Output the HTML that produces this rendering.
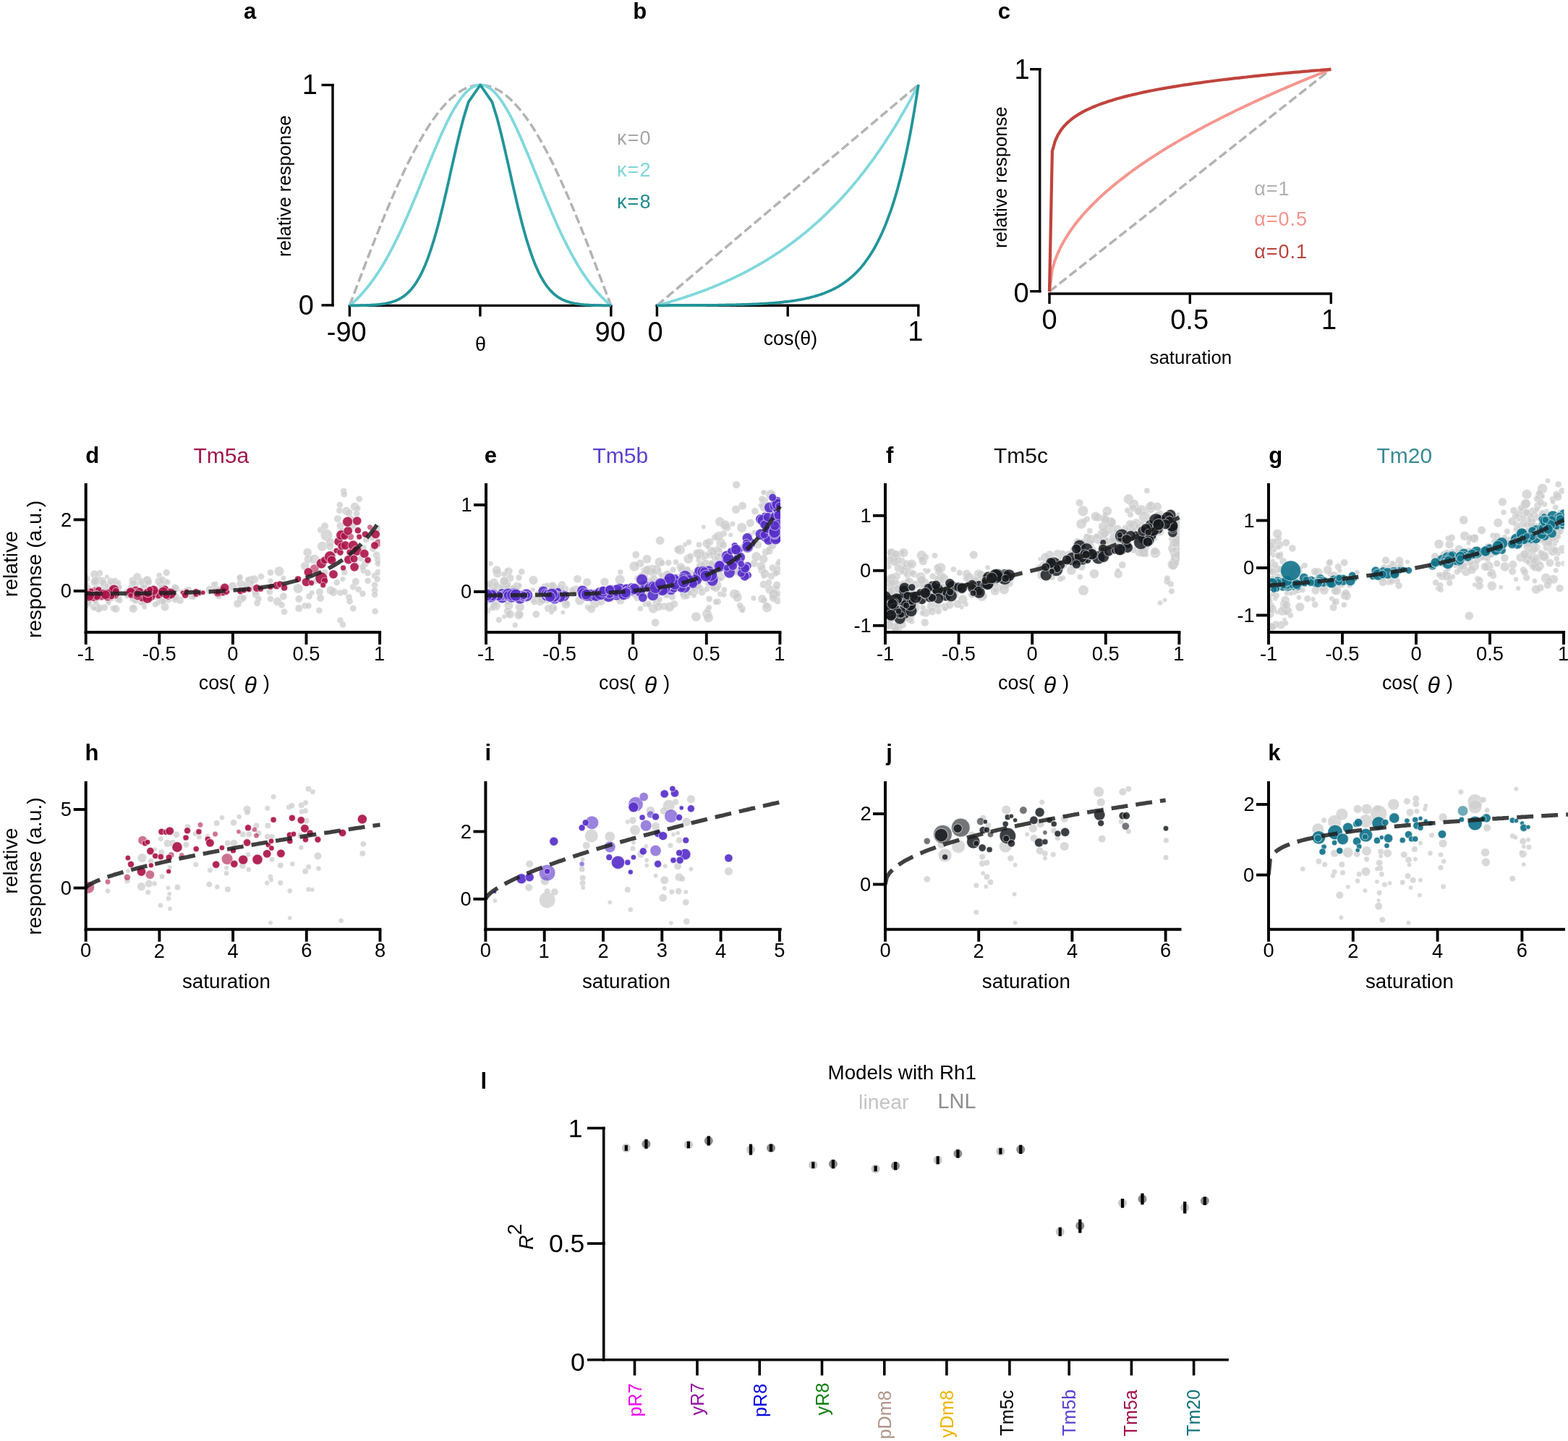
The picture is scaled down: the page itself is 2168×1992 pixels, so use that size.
<!DOCTYPE html>
<html><head><meta charset="utf-8"><title>Figure</title>
<style>html,body{margin:0;padding:0;background:#fff}svg{display:block}text{font-family:'Liberation Sans',Arial,Helvetica,sans-serif}</style>
</head><body>
<svg width="2168" height="1992" viewBox="0 0 2168 1992">
<rect width="2168" height="1992" fill="#fff"/>
<text x="336.9" y="25.6" font-size="31" font-weight="bold" fill="#000">a</text>
<text x="875.2" y="25.6" font-size="31" font-weight="bold" fill="#000">b</text>
<text x="1379.7" y="25.6" font-size="31" font-weight="bold" fill="#000">c</text>
<line x1="460" y1="115.9" x2="460" y2="423.6" stroke="#000" stroke-width="3.4"/>
<line x1="444.5" y1="117.5" x2="461.7" y2="117.5" stroke="#000" stroke-width="3.4"/>
<line x1="444.5" y1="421.9" x2="461.7" y2="421.9" stroke="#000" stroke-width="3.4"/>
<line x1="481.7" y1="422.4" x2="846.5" y2="422.4" stroke="#000" stroke-width="3.4"/>
<line x1="483.4" y1="422.4" x2="483.4" y2="437.5" stroke="#000" stroke-width="3.4"/>
<line x1="663.9" y1="422.4" x2="663.9" y2="437.5" stroke="#000" stroke-width="3.4"/>
<line x1="844.8" y1="422.4" x2="844.8" y2="437.5" stroke="#000" stroke-width="3.4"/>
<text x="417.7" y="129.6" font-size="38" fill="#000">1</text>
<text x="412.8" y="434.8" font-size="38" fill="#000">0</text>
<text x="451.8" y="471.9" font-size="38" fill="#000">-90</text>
<text x="822.6" y="471.9" font-size="38" fill="#000">90</text>
<text x="657.1" y="484.7" font-size="27" fill="#000">θ</text>
<text transform="translate(402.4 355.1) rotate(-90)" font-size="25.7" fill="#000">relative response</text>
<path d="M483.4 422.4 L484.4 419.7 L485.4 417.1 L486.4 414.4 L487.4 411.8 L488.4 409.1 L489.4 406.4 L490.4 403.8 L491.4 401.1 L492.4 398.5 L493.4 395.8 L494.4 393.2 L495.4 390.5 L496.5 387.9 L497.5 385.2 L498.5 382.6 L499.5 380 L500.5 377.3 L501.5 374.7 L502.5 372.1 L503.5 369.5 L504.5 366.8 L505.5 364.2 L506.5 361.6 L507.5 359 L508.5 356.4 L509.5 353.8 L510.5 351.2 L511.5 348.6 L512.5 346.1 L513.5 343.5 L514.5 340.9 L515.5 338.4 L516.5 335.8 L517.5 333.3 L518.5 330.7 L519.5 328.2 L520.5 325.7 L521.5 323.1 L522.6 320.6 L523.6 318.1 L524.6 315.6 L525.6 313.1 L526.6 310.7 L527.6 308.2 L528.6 305.7 L529.6 303.3 L530.6 300.8 L531.6 298.4 L532.6 296 L533.6 293.5 L534.6 291.1 L535.6 288.7 L536.6 286.4 L537.6 284 L538.6 281.6 L539.6 279.3 L540.6 276.9 L541.6 274.6 L542.6 272.3 L543.6 269.9 L544.6 267.7 L545.6 265.4 L546.6 263.1 L547.6 260.8 L548.7 258.6 L549.7 256.3 L550.7 254.1 L551.7 251.9 L552.7 249.7 L553.7 247.5 L554.7 245.3 L555.7 243.2 L556.7 241 L557.7 238.9 L558.7 236.8 L559.7 234.7 L560.7 232.6 L561.7 230.5 L562.7 228.5 L563.7 226.4 L564.7 224.4 L565.7 222.4 L566.7 220.4 L567.7 218.4 L568.7 216.4 L569.7 214.5 L570.7 212.5 L571.7 210.6 L572.7 208.7 L573.8 206.8 L574.8 204.9 L575.8 203.1 L576.8 201.2 L577.8 199.4 L578.8 197.6 L579.8 195.8 L580.8 194 L581.8 192.3 L582.8 190.6 L583.8 188.8 L584.8 187.1 L585.8 185.4 L586.8 183.8 L587.8 182.1 L588.8 180.5 L589.8 178.9 L590.8 177.3 L591.8 175.7 L592.8 174.2 L593.8 172.6 L594.8 171.1 L595.8 169.6 L596.8 168.1 L597.8 166.7 L598.8 165.2 L599.9 163.8 L600.9 162.4 L601.9 161 L602.9 159.7 L603.9 158.3 L604.9 157 L605.9 155.7 L606.9 154.4 L607.9 153.2 L608.9 152 L609.9 150.7 L610.9 149.5 L611.9 148.4 L612.9 147.2 L613.9 146.1 L614.9 145 L615.9 143.9 L616.9 142.8 L617.9 141.7 L618.9 140.7 L619.9 139.7 L620.9 138.7 L621.9 137.8 L622.9 136.8 L623.9 135.9 L624.9 135 L626 134.1 L627 133.3 L628 132.4 L629 131.6 L630 130.8 L631 130.1 L632 129.3 L633 128.6 L634 127.9 L635 127.2 L636 126.6 L637 125.9 L638 125.3 L639 124.7 L640 124.2 L641 123.6 L642 123.1 L643 122.6 L644 122.1 L645 121.7 L646 121.3 L647 120.8 L648 120.5 L649 120.1 L650 119.8 L651 119.5 L652.1 119.2 L653.1 118.9 L654.1 118.7 L655.1 118.4 L656.1 118.2 L657.1 118.1 L658.1 117.9 L659.1 117.8 L660.1 117.7 L661.1 117.6 L662.1 117.5 L663.1 117.5 L664.1 117.5 L665.1 117.5 L666.1 117.5 L667.1 117.6 L668.1 117.7 L669.1 117.8 L670.1 117.9 L671.1 118.1 L672.1 118.2 L673.1 118.4 L674.1 118.7 L675.1 118.9 L676.1 119.2 L677.2 119.5 L678.2 119.8 L679.2 120.1 L680.2 120.5 L681.2 120.8 L682.2 121.3 L683.2 121.7 L684.2 122.1 L685.2 122.6 L686.2 123.1 L687.2 123.6 L688.2 124.2 L689.2 124.7 L690.2 125.3 L691.2 125.9 L692.2 126.6 L693.2 127.2 L694.2 127.9 L695.2 128.6 L696.2 129.3 L697.2 130.1 L698.2 130.8 L699.2 131.6 L700.2 132.4 L701.2 133.3 L702.2 134.1 L703.3 135 L704.3 135.9 L705.3 136.8 L706.3 137.8 L707.3 138.7 L708.3 139.7 L709.3 140.7 L710.3 141.7 L711.3 142.8 L712.3 143.9 L713.3 145 L714.3 146.1 L715.3 147.2 L716.3 148.4 L717.3 149.5 L718.3 150.7 L719.3 152 L720.3 153.2 L721.3 154.4 L722.3 155.7 L723.3 157 L724.3 158.3 L725.3 159.7 L726.3 161 L727.3 162.4 L728.3 163.8 L729.4 165.2 L730.4 166.7 L731.4 168.1 L732.4 169.6 L733.4 171.1 L734.4 172.6 L735.4 174.2 L736.4 175.7 L737.4 177.3 L738.4 178.9 L739.4 180.5 L740.4 182.1 L741.4 183.8 L742.4 185.4 L743.4 187.1 L744.4 188.8 L745.4 190.6 L746.4 192.3 L747.4 194 L748.4 195.8 L749.4 197.6 L750.4 199.4 L751.4 201.2 L752.4 203.1 L753.4 204.9 L754.4 206.8 L755.5 208.7 L756.5 210.6 L757.5 212.5 L758.5 214.5 L759.5 216.4 L760.5 218.4 L761.5 220.4 L762.5 222.4 L763.5 224.4 L764.5 226.4 L765.5 228.5 L766.5 230.5 L767.5 232.6 L768.5 234.7 L769.5 236.8 L770.5 238.9 L771.5 241 L772.5 243.2 L773.5 245.3 L774.5 247.5 L775.5 249.7 L776.5 251.9 L777.5 254.1 L778.5 256.3 L779.5 258.6 L780.6 260.8 L781.6 263.1 L782.6 265.4 L783.6 267.7 L784.6 269.9 L785.6 272.3 L786.6 274.6 L787.6 276.9 L788.6 279.3 L789.6 281.6 L790.6 284 L791.6 286.4 L792.6 288.7 L793.6 291.1 L794.6 293.5 L795.6 296 L796.6 298.4 L797.6 300.8 L798.6 303.3 L799.6 305.7 L800.6 308.2 L801.6 310.7 L802.6 313.1 L803.6 315.6 L804.6 318.1 L805.6 320.6 L806.7 323.1 L807.7 325.7 L808.7 328.2 L809.7 330.7 L810.7 333.3 L811.7 335.8 L812.7 338.4 L813.7 340.9 L814.7 343.5 L815.7 346.1 L816.7 348.6 L817.7 351.2 L818.7 353.8 L819.7 356.4 L820.7 359 L821.7 361.6 L822.7 364.2 L823.7 366.8 L824.7 369.5 L825.7 372.1 L826.7 374.7 L827.7 377.3 L828.7 380 L829.7 382.6 L830.7 385.2 L831.7 387.9 L832.8 390.5 L833.8 393.2 L834.8 395.8 L835.8 398.5 L836.8 401.1 L837.8 403.8 L838.8 406.4 L839.8 409.1 L840.8 411.8 L841.8 414.4 L842.8 417.1 L843.8 419.7 L844.8 422.4" fill="none" stroke="#b3b3b3" stroke-width="3.5" stroke-linejoin="round" stroke-dasharray="12.4 5.2"/>
<path d="M483.4 422.4 L484.4 421.6 L485.4 420.7 L486.4 419.8 L487.4 419 L488.4 418 L489.4 417.1 L490.4 416.2 L491.4 415.3 L492.4 414.3 L493.4 413.3 L494.4 412.3 L495.4 411.3 L496.5 410.3 L497.5 409.2 L498.5 408.2 L499.5 407.1 L500.5 406 L501.5 404.9 L502.5 403.7 L503.5 402.6 L504.5 401.4 L505.5 400.2 L506.5 399 L507.5 397.8 L508.5 396.5 L509.5 395.3 L510.5 394 L511.5 392.7 L512.5 391.4 L513.5 390 L514.5 388.7 L515.5 387.3 L516.5 385.9 L517.5 384.5 L518.5 383 L519.5 381.6 L520.5 380.1 L521.5 378.6 L522.6 377.1 L523.6 375.5 L524.6 374 L525.6 372.4 L526.6 370.8 L527.6 369.2 L528.6 367.5 L529.6 365.9 L530.6 364.2 L531.6 362.5 L532.6 360.7 L533.6 359 L534.6 357.2 L535.6 355.4 L536.6 353.6 L537.6 351.8 L538.6 350 L539.6 348.1 L540.6 346.2 L541.6 344.3 L542.6 342.4 L543.6 340.4 L544.6 338.4 L545.6 336.4 L546.6 334.4 L547.6 332.4 L548.7 330.4 L549.7 328.3 L550.7 326.2 L551.7 324.1 L552.7 322 L553.7 319.8 L554.7 317.7 L555.7 315.5 L556.7 313.3 L557.7 311.1 L558.7 308.9 L559.7 306.6 L560.7 304.4 L561.7 302.1 L562.7 299.8 L563.7 297.5 L564.7 295.2 L565.7 292.9 L566.7 290.5 L567.7 288.2 L568.7 285.8 L569.7 283.4 L570.7 281.1 L571.7 278.7 L572.7 276.2 L573.8 273.8 L574.8 271.4 L575.8 269 L576.8 266.5 L577.8 264.1 L578.8 261.6 L579.8 259.2 L580.8 256.7 L581.8 254.2 L582.8 251.7 L583.8 249.3 L584.8 246.8 L585.8 244.3 L586.8 241.8 L587.8 239.4 L588.8 236.9 L589.8 234.4 L590.8 231.9 L591.8 229.5 L592.8 227 L593.8 224.5 L594.8 222.1 L595.8 219.6 L596.8 217.2 L597.8 214.7 L598.8 212.3 L599.9 209.9 L600.9 207.5 L601.9 205.1 L602.9 202.7 L603.9 200.4 L604.9 198 L605.9 195.7 L606.9 193.4 L607.9 191.1 L608.9 188.8 L609.9 186.6 L610.9 184.3 L611.9 182.1 L612.9 179.9 L613.9 177.8 L614.9 175.6 L615.9 173.5 L616.9 171.4 L617.9 169.3 L618.9 167.3 L619.9 165.3 L620.9 163.3 L621.9 161.4 L622.9 159.4 L623.9 157.6 L624.9 155.7 L626 153.9 L627 152.1 L628 150.4 L629 148.7 L630 147 L631 145.4 L632 143.8 L633 142.2 L634 140.7 L635 139.3 L636 137.8 L637 136.5 L638 135.1 L639 133.8 L640 132.6 L641 131.4 L642 130.2 L643 129.1 L644 128.1 L645 127 L646 126.1 L647 125.2 L648 124.3 L649 123.5 L650 122.7 L651 122 L652.1 121.3 L653.1 120.7 L654.1 120.2 L655.1 119.7 L656.1 119.2 L657.1 118.8 L658.1 118.5 L659.1 118.2 L660.1 117.9 L661.1 117.7 L662.1 117.6 L663.1 117.5 L664.1 117.5 L665.1 117.5 L666.1 117.6 L667.1 117.7 L668.1 117.9 L669.1 118.2 L670.1 118.5 L671.1 118.8 L672.1 119.2 L673.1 119.7 L674.1 120.2 L675.1 120.7 L676.1 121.3 L677.2 122 L678.2 122.7 L679.2 123.5 L680.2 124.3 L681.2 125.2 L682.2 126.1 L683.2 127 L684.2 128.1 L685.2 129.1 L686.2 130.2 L687.2 131.4 L688.2 132.6 L689.2 133.8 L690.2 135.1 L691.2 136.5 L692.2 137.8 L693.2 139.3 L694.2 140.7 L695.2 142.2 L696.2 143.8 L697.2 145.4 L698.2 147 L699.2 148.7 L700.2 150.4 L701.2 152.1 L702.2 153.9 L703.3 155.7 L704.3 157.6 L705.3 159.4 L706.3 161.4 L707.3 163.3 L708.3 165.3 L709.3 167.3 L710.3 169.3 L711.3 171.4 L712.3 173.5 L713.3 175.6 L714.3 177.8 L715.3 179.9 L716.3 182.1 L717.3 184.3 L718.3 186.6 L719.3 188.8 L720.3 191.1 L721.3 193.4 L722.3 195.7 L723.3 198 L724.3 200.4 L725.3 202.7 L726.3 205.1 L727.3 207.5 L728.3 209.9 L729.4 212.3 L730.4 214.7 L731.4 217.2 L732.4 219.6 L733.4 222.1 L734.4 224.5 L735.4 227 L736.4 229.5 L737.4 231.9 L738.4 234.4 L739.4 236.9 L740.4 239.4 L741.4 241.8 L742.4 244.3 L743.4 246.8 L744.4 249.3 L745.4 251.7 L746.4 254.2 L747.4 256.7 L748.4 259.2 L749.4 261.6 L750.4 264.1 L751.4 266.5 L752.4 269 L753.4 271.4 L754.4 273.8 L755.5 276.2 L756.5 278.7 L757.5 281.1 L758.5 283.4 L759.5 285.8 L760.5 288.2 L761.5 290.5 L762.5 292.9 L763.5 295.2 L764.5 297.5 L765.5 299.8 L766.5 302.1 L767.5 304.4 L768.5 306.6 L769.5 308.9 L770.5 311.1 L771.5 313.3 L772.5 315.5 L773.5 317.7 L774.5 319.8 L775.5 322 L776.5 324.1 L777.5 326.2 L778.5 328.3 L779.5 330.4 L780.6 332.4 L781.6 334.4 L782.6 336.4 L783.6 338.4 L784.6 340.4 L785.6 342.4 L786.6 344.3 L787.6 346.2 L788.6 348.1 L789.6 350 L790.6 351.8 L791.6 353.6 L792.6 355.4 L793.6 357.2 L794.6 359 L795.6 360.7 L796.6 362.5 L797.6 364.2 L798.6 365.9 L799.6 367.5 L800.6 369.2 L801.6 370.8 L802.6 372.4 L803.6 374 L804.6 375.5 L805.6 377.1 L806.7 378.6 L807.7 380.1 L808.7 381.6 L809.7 383 L810.7 384.5 L811.7 385.9 L812.7 387.3 L813.7 388.7 L814.7 390 L815.7 391.4 L816.7 392.7 L817.7 394 L818.7 395.3 L819.7 396.5 L820.7 397.8 L821.7 399 L822.7 400.2 L823.7 401.4 L824.7 402.6 L825.7 403.7 L826.7 404.9 L827.7 406 L828.7 407.1 L829.7 408.2 L830.7 409.2 L831.7 410.3 L832.8 411.3 L833.8 412.3 L834.8 413.3 L835.8 414.3 L836.8 415.3 L837.8 416.2 L838.8 417.1 L839.8 418 L840.8 419 L841.8 419.8 L842.8 420.7 L843.8 421.6 L844.8 422.4" fill="none" stroke="#80d8dc" stroke-width="3.8" stroke-linejoin="round"/>
<path d="M483.4 422.4 L484.6 422.4 L485.7 422.4 L486.9 422.4 L488 422.4 L489.2 422.3 L490.3 422.3 L491.5 422.3 L492.6 422.3 L493.8 422.3 L494.9 422.3 L496.1 422.3 L497.2 422.2 L498.4 422.2 L499.6 422.2 L500.7 422.2 L501.9 422.1 L503.1 422.1 L504.2 422.1 L505.4 422 L506.6 422 L507.7 422 L508.9 421.9 L510.1 421.9 L511.3 421.8 L512.5 421.7 L513.7 421.7 L514.9 421.6 L516 421.5 L517.2 421.5 L518.5 421.4 L519.7 421.3 L520.9 421.2 L522.1 421.1 L523.3 420.9 L524.5 420.8 L525.8 420.7 L527 420.5 L528.2 420.4 L529.5 420.2 L530.7 420 L532 419.8 L533.3 419.6 L534.5 419.3 L535.8 419 L537.1 418.8 L538.4 418.4 L539.7 418.1 L541 417.7 L542.3 417.3 L543.6 416.9 L545 416.5 L546.3 415.9 L547.7 415.4 L549 414.8 L550.4 414.2 L551.8 413.5 L553.2 412.7 L554.6 411.9 L556 411 L557.4 410.1 L558.9 409 L560.3 407.9 L561.8 406.7 L563.3 405.4 L564.8 404 L566.3 402.4 L567.9 400.7 L569.4 398.9 L571 397 L572.6 394.8 L574.2 392.5 L575.9 390 L577.5 387.3 L579.2 384.4 L581 381.2 L582.7 377.8 L584.5 374.1 L586.3 370 L588.2 365.7 L590.1 360.9 L592 355.8 L594 350.2 L596 344.2 L598.1 337.7 L600.3 330.6 L602.5 323 L604.8 314.7 L607.2 305.7 L609.6 296 L612.2 285.5 L614.9 274 L617.8 261.7 L620.8 248.3 L624 233.8 L627.6 218.1 L631.5 201 L635.9 182.6 L641.1 162.6 L647.8 140.9 L664.1 117.5 L680.4 140.9 L687.1 162.6 L692.3 182.6 L696.7 201 L700.6 218.1 L704.2 233.8 L707.4 248.3 L710.4 261.7 L713.3 274 L716 285.5 L718.6 296 L721 305.7 L723.4 314.7 L725.7 323 L727.9 330.6 L730.1 337.7 L732.2 344.2 L734.2 350.2 L736.2 355.8 L738.1 360.9 L740 365.7 L741.9 370 L743.7 374.1 L745.5 377.8 L747.2 381.2 L749 384.4 L750.7 387.3 L752.3 390 L754 392.5 L755.6 394.8 L757.2 397 L758.8 398.9 L760.3 400.7 L761.9 402.4 L763.4 404 L764.9 405.4 L766.4 406.7 L767.9 407.9 L769.3 409 L770.8 410.1 L772.2 411 L773.6 411.9 L775 412.7 L776.4 413.5 L777.8 414.2 L779.2 414.8 L780.5 415.4 L781.9 415.9 L783.2 416.5 L784.6 416.9 L785.9 417.3 L787.2 417.7 L788.5 418.1 L789.8 418.4 L791.1 418.8 L792.4 419 L793.7 419.3 L794.9 419.6 L796.2 419.8 L797.5 420 L798.7 420.2 L800 420.4 L801.2 420.5 L802.4 420.7 L803.7 420.8 L804.9 420.9 L806.1 421.1 L807.3 421.2 L808.5 421.3 L809.7 421.4 L811 421.5 L812.2 421.5 L813.3 421.6 L814.5 421.7 L815.7 421.7 L816.9 421.8 L818.1 421.9 L819.3 421.9 L820.5 422 L821.6 422 L822.8 422 L824 422.1 L825.1 422.1 L826.3 422.1 L827.5 422.2 L828.6 422.2 L829.8 422.2 L831 422.2 L832.1 422.3 L833.3 422.3 L834.4 422.3 L835.6 422.3 L836.7 422.3 L837.9 422.3 L839 422.3 L840.2 422.4 L841.3 422.4 L842.5 422.4 L843.6 422.4 L844.8 422.4" fill="none" stroke="#23959a" stroke-width="3.8" stroke-linejoin="round"/>
<text x="852.9" y="200.3" font-size="27" fill="#a6a6a6" letter-spacing="1.2">κ=0</text>
<text x="852.9" y="243.5" font-size="27" fill="#7fd4d6" letter-spacing="1.2">κ=2</text>
<text x="852.9" y="287.6" font-size="27" fill="#1f8a8c" letter-spacing="1.2">κ=8</text>
<line x1="906.6" y1="422.3" x2="1271.4" y2="422.3" stroke="#000" stroke-width="3.4"/>
<line x1="908.4" y1="422.3" x2="908.4" y2="437.5" stroke="#000" stroke-width="3.4"/>
<line x1="1089.2" y1="422.3" x2="1089.2" y2="437.5" stroke="#000" stroke-width="3.4"/>
<line x1="1269.8" y1="422.3" x2="1269.8" y2="437.5" stroke="#000" stroke-width="3.4"/>
<text x="895.4" y="471.9" font-size="38" fill="#000">0</text>
<text x="1255.2" y="470.5" font-size="38" fill="#000">1</text>
<text x="1055.7" y="477.3" font-size="26.8" fill="#000">cos(θ)</text>
<path d="M908.4 422.3 L910.2 420.8 L912 419.2 L913.8 417.7 L915.6 416.2 L917.4 414.7 L919.2 413.1 L921 411.6 L922.9 410.1 L924.7 408.6 L926.5 407 L928.3 405.5 L930.1 404 L931.9 402.5 L933.7 400.9 L935.5 399.4 L937.3 397.9 L939.1 396.3 L940.9 394.8 L942.7 393.3 L944.5 391.8 L946.3 390.2 L948.2 388.7 L950 387.2 L951.8 385.7 L953.6 384.1 L955.4 382.6 L957.2 381.1 L959 379.6 L960.8 378 L962.6 376.5 L964.4 375 L966.2 373.5 L968 371.9 L969.8 370.4 L971.6 368.9 L973.5 367.3 L975.3 365.8 L977.1 364.3 L978.9 362.8 L980.7 361.2 L982.5 359.7 L984.3 358.2 L986.1 356.7 L987.9 355.1 L989.7 353.6 L991.5 352.1 L993.3 350.6 L995.1 349 L996.9 347.5 L998.8 346 L1000.6 344.4 L1002.4 342.9 L1004.2 341.4 L1006 339.9 L1007.8 338.3 L1009.6 336.8 L1011.4 335.3 L1013.2 333.8 L1015 332.2 L1016.8 330.7 L1018.6 329.2 L1020.4 327.7 L1022.2 326.1 L1024 324.6 L1025.9 323.1 L1027.7 321.6 L1029.5 320 L1031.3 318.5 L1033.1 317 L1034.9 315.4 L1036.7 313.9 L1038.5 312.4 L1040.3 310.9 L1042.1 309.3 L1043.9 307.8 L1045.7 306.3 L1047.5 304.8 L1049.3 303.2 L1051.2 301.7 L1053 300.2 L1054.8 298.7 L1056.6 297.1 L1058.4 295.6 L1060.2 294.1 L1062 292.5 L1063.8 291 L1065.6 289.5 L1067.4 288 L1069.2 286.4 L1071 284.9 L1072.8 283.4 L1074.6 281.9 L1076.5 280.3 L1078.3 278.8 L1080.1 277.3 L1081.9 275.8 L1083.7 274.2 L1085.5 272.7 L1087.3 271.2 L1089.1 269.6 L1090.9 268.1 L1092.7 266.6 L1094.5 265.1 L1096.3 263.5 L1098.1 262 L1099.9 260.5 L1101.7 259 L1103.6 257.4 L1105.4 255.9 L1107.2 254.4 L1109 252.9 L1110.8 251.3 L1112.6 249.8 L1114.4 248.3 L1116.2 246.8 L1118 245.2 L1119.8 243.7 L1121.6 242.2 L1123.4 240.6 L1125.2 239.1 L1127 237.6 L1128.9 236.1 L1130.7 234.5 L1132.5 233 L1134.3 231.5 L1136.1 230 L1137.9 228.4 L1139.7 226.9 L1141.5 225.4 L1143.3 223.9 L1145.1 222.3 L1146.9 220.8 L1148.7 219.3 L1150.5 217.7 L1152.3 216.2 L1154.2 214.7 L1156 213.2 L1157.8 211.6 L1159.6 210.1 L1161.4 208.6 L1163.2 207.1 L1165 205.5 L1166.8 204 L1168.6 202.5 L1170.4 201 L1172.2 199.4 L1174 197.9 L1175.8 196.4 L1177.6 194.9 L1179.4 193.3 L1181.3 191.8 L1183.1 190.3 L1184.9 188.7 L1186.7 187.2 L1188.5 185.7 L1190.3 184.2 L1192.1 182.6 L1193.9 181.1 L1195.7 179.6 L1197.5 178.1 L1199.3 176.5 L1201.1 175 L1202.9 173.5 L1204.7 172 L1206.6 170.4 L1208.4 168.9 L1210.2 167.4 L1212 165.8 L1213.8 164.3 L1215.6 162.8 L1217.4 161.3 L1219.2 159.7 L1221 158.2 L1222.8 156.7 L1224.6 155.2 L1226.4 153.6 L1228.2 152.1 L1230 150.6 L1231.9 149.1 L1233.7 147.5 L1235.5 146 L1237.3 144.5 L1239.1 143 L1240.9 141.4 L1242.7 139.9 L1244.5 138.4 L1246.3 136.8 L1248.1 135.3 L1249.9 133.8 L1251.7 132.3 L1253.5 130.7 L1255.3 129.2 L1257.2 127.7 L1259 126.2 L1260.8 124.6 L1262.6 123.1 L1264.4 121.6 L1266.2 120.1 L1268 118.5 L1269.8 117" fill="none" stroke="#b3b3b3" stroke-width="3.5" stroke-linejoin="round" stroke-dasharray="12.4 5.2"/>
<path d="M908.4 422.3 L910.2 421.8 L912 421.3 L913.8 420.8 L915.6 420.3 L917.4 419.9 L919.2 419.3 L921 418.8 L922.9 418.3 L924.7 417.8 L926.5 417.3 L928.3 416.7 L930.1 416.2 L931.9 415.7 L933.7 415.1 L935.5 414.6 L937.3 414 L939.1 413.4 L940.9 412.9 L942.7 412.3 L944.5 411.7 L946.3 411.1 L948.2 410.5 L950 409.9 L951.8 409.3 L953.6 408.7 L955.4 408.1 L957.2 407.5 L959 406.9 L960.8 406.2 L962.6 405.6 L964.4 404.9 L966.2 404.3 L968 403.6 L969.8 402.9 L971.6 402.3 L973.5 401.6 L975.3 400.9 L977.1 400.2 L978.9 399.5 L980.7 398.8 L982.5 398.1 L984.3 397.4 L986.1 396.6 L987.9 395.9 L989.7 395.1 L991.5 394.4 L993.3 393.6 L995.1 392.9 L996.9 392.1 L998.8 391.3 L1000.6 390.5 L1002.4 389.7 L1004.2 388.9 L1006 388.1 L1007.8 387.3 L1009.6 386.4 L1011.4 385.6 L1013.2 384.7 L1015 383.9 L1016.8 383 L1018.6 382.1 L1020.4 381.3 L1022.2 380.4 L1024 379.5 L1025.9 378.6 L1027.7 377.6 L1029.5 376.7 L1031.3 375.8 L1033.1 374.8 L1034.9 373.9 L1036.7 372.9 L1038.5 371.9 L1040.3 370.9 L1042.1 369.9 L1043.9 368.9 L1045.7 367.9 L1047.5 366.9 L1049.3 365.8 L1051.2 364.8 L1053 363.7 L1054.8 362.7 L1056.6 361.6 L1058.4 360.5 L1060.2 359.4 L1062 358.3 L1063.8 357.2 L1065.6 356 L1067.4 354.9 L1069.2 353.7 L1071 352.6 L1072.8 351.4 L1074.6 350.2 L1076.5 349 L1078.3 347.8 L1080.1 346.5 L1081.9 345.3 L1083.7 344 L1085.5 342.8 L1087.3 341.5 L1089.1 340.2 L1090.9 338.9 L1092.7 337.6 L1094.5 336.2 L1096.3 334.9 L1098.1 333.5 L1099.9 332.2 L1101.7 330.8 L1103.6 329.4 L1105.4 328 L1107.2 326.5 L1109 325.1 L1110.8 323.6 L1112.6 322.2 L1114.4 320.7 L1116.2 319.2 L1118 317.7 L1119.8 316.1 L1121.6 314.6 L1123.4 313 L1125.2 311.4 L1127 309.8 L1128.9 308.2 L1130.7 306.6 L1132.5 305 L1134.3 303.3 L1136.1 301.6 L1137.9 299.9 L1139.7 298.2 L1141.5 296.5 L1143.3 294.7 L1145.1 293 L1146.9 291.2 L1148.7 289.4 L1150.5 287.6 L1152.3 285.8 L1154.2 283.9 L1156 282 L1157.8 280.1 L1159.6 278.2 L1161.4 276.3 L1163.2 274.4 L1165 272.4 L1166.8 270.4 L1168.6 268.4 L1170.4 266.4 L1172.2 264.3 L1174 262.3 L1175.8 260.2 L1177.6 258.1 L1179.4 255.9 L1181.3 253.8 L1183.1 251.6 L1184.9 249.4 L1186.7 247.2 L1188.5 244.9 L1190.3 242.7 L1192.1 240.4 L1193.9 238.1 L1195.7 235.8 L1197.5 233.4 L1199.3 231 L1201.1 228.6 L1202.9 226.2 L1204.7 223.7 L1206.6 221.3 L1208.4 218.8 L1210.2 216.2 L1212 213.7 L1213.8 211.1 L1215.6 208.5 L1217.4 205.9 L1219.2 203.2 L1221 200.5 L1222.8 197.8 L1224.6 195.1 L1226.4 192.3 L1228.2 189.5 L1230 186.7 L1231.9 183.9 L1233.7 181 L1235.5 178.1 L1237.3 175.2 L1239.1 172.2 L1240.9 169.2 L1242.7 166.2 L1244.5 163.1 L1246.3 160 L1248.1 156.9 L1249.9 153.8 L1251.7 150.6 L1253.5 147.4 L1255.3 144.1 L1257.2 140.9 L1259 137.6 L1260.8 134.2 L1262.6 130.8 L1264.4 127.4 L1266.2 124 L1268 120.5 L1269.8 117" fill="none" stroke="#80d8dc" stroke-width="3.8" stroke-linejoin="round"/>
<path d="M908.4 422.3 L910.2 422.3 L912 422.3 L913.8 422.3 L915.6 422.3 L917.4 422.3 L919.2 422.3 L921 422.3 L922.9 422.3 L924.7 422.3 L926.5 422.2 L928.3 422.2 L930.1 422.2 L931.9 422.2 L933.7 422.2 L935.5 422.2 L937.3 422.2 L939.1 422.2 L940.9 422.2 L942.7 422.2 L944.5 422.2 L946.3 422.2 L948.2 422.2 L950 422.1 L951.8 422.1 L953.6 422.1 L955.4 422.1 L957.2 422.1 L959 422.1 L960.8 422.1 L962.6 422.1 L964.4 422 L966.2 422 L968 422 L969.8 422 L971.6 422 L973.5 422 L975.3 422 L977.1 421.9 L978.9 421.9 L980.7 421.9 L982.5 421.9 L984.3 421.9 L986.1 421.8 L987.9 421.8 L989.7 421.8 L991.5 421.8 L993.3 421.7 L995.1 421.7 L996.9 421.7 L998.8 421.6 L1000.6 421.6 L1002.4 421.6 L1004.2 421.5 L1006 421.5 L1007.8 421.5 L1009.6 421.4 L1011.4 421.4 L1013.2 421.4 L1015 421.3 L1016.8 421.3 L1018.6 421.2 L1020.4 421.2 L1022.2 421.1 L1024 421.1 L1025.9 421 L1027.7 421 L1029.5 420.9 L1031.3 420.8 L1033.1 420.8 L1034.9 420.7 L1036.7 420.6 L1038.5 420.6 L1040.3 420.5 L1042.1 420.4 L1043.9 420.3 L1045.7 420.3 L1047.5 420.2 L1049.3 420.1 L1051.2 420 L1053 419.9 L1054.8 419.8 L1056.6 419.7 L1058.4 419.6 L1060.2 419.5 L1062 419.3 L1063.8 419.2 L1065.6 419.1 L1067.4 418.9 L1069.2 418.8 L1071 418.7 L1072.8 418.5 L1074.6 418.3 L1076.5 418.2 L1078.3 418 L1080.1 417.8 L1081.9 417.6 L1083.7 417.4 L1085.5 417.2 L1087.3 417 L1089.1 416.8 L1090.9 416.6 L1092.7 416.3 L1094.5 416.1 L1096.3 415.8 L1098.1 415.6 L1099.9 415.3 L1101.7 415 L1103.6 414.7 L1105.4 414.4 L1107.2 414.1 L1109 413.7 L1110.8 413.4 L1112.6 413 L1114.4 412.6 L1116.2 412.2 L1118 411.8 L1119.8 411.4 L1121.6 410.9 L1123.4 410.4 L1125.2 410 L1127 409.4 L1128.9 408.9 L1130.7 408.4 L1132.5 407.8 L1134.3 407.2 L1136.1 406.6 L1137.9 405.9 L1139.7 405.3 L1141.5 404.6 L1143.3 403.8 L1145.1 403.1 L1146.9 402.3 L1148.7 401.5 L1150.5 400.6 L1152.3 399.7 L1154.2 398.8 L1156 397.8 L1157.8 396.8 L1159.6 395.8 L1161.4 394.7 L1163.2 393.6 L1165 392.4 L1166.8 391.2 L1168.6 389.9 L1170.4 388.6 L1172.2 387.2 L1174 385.7 L1175.8 384.2 L1177.6 382.7 L1179.4 381.1 L1181.3 379.4 L1183.1 377.6 L1184.9 375.8 L1186.7 373.9 L1188.5 371.9 L1190.3 369.9 L1192.1 367.7 L1193.9 365.5 L1195.7 363.2 L1197.5 360.7 L1199.3 358.2 L1201.1 355.6 L1202.9 352.9 L1204.7 350 L1206.6 347.1 L1208.4 344 L1210.2 340.8 L1212 337.5 L1213.8 334 L1215.6 330.4 L1217.4 326.7 L1219.2 322.8 L1221 318.7 L1222.8 314.5 L1224.6 310.1 L1226.4 305.5 L1228.2 300.7 L1230 295.7 L1231.9 290.6 L1233.7 285.2 L1235.5 279.6 L1237.3 273.7 L1239.1 267.7 L1240.9 261.4 L1242.7 254.8 L1244.5 248 L1246.3 240.8 L1248.1 233.4 L1249.9 225.7 L1251.7 217.7 L1253.5 209.3 L1255.3 200.6 L1257.2 191.6 L1259 182.2 L1260.8 172.4 L1262.6 162.2 L1264.4 151.5 L1266.2 140.5 L1268 129 L1269.8 117" fill="none" stroke="#23959a" stroke-width="3.8" stroke-linejoin="round"/>
<line x1="1437.7" y1="94.1" x2="1437.7" y2="404.2" stroke="#000" stroke-width="3.4"/>
<line x1="1424.2" y1="95.7" x2="1439.4" y2="95.7" stroke="#000" stroke-width="3.4"/>
<line x1="1424.2" y1="402.7" x2="1439.4" y2="402.7" stroke="#000" stroke-width="3.4"/>
<line x1="1449.3" y1="406" x2="1842" y2="406" stroke="#000" stroke-width="3.4"/>
<line x1="1451" y1="406" x2="1451" y2="420" stroke="#000" stroke-width="3.4"/>
<line x1="1645.3" y1="406" x2="1645.3" y2="420" stroke="#000" stroke-width="3.4"/>
<line x1="1840.3" y1="406" x2="1840.3" y2="420" stroke="#000" stroke-width="3.4"/>
<text x="1402.4" y="109" font-size="38" fill="#000">1</text>
<text x="1401.5" y="417.7" font-size="38" fill="#000">0</text>
<text x="1440.4" y="454.6" font-size="38" fill="#000">0</text>
<text x="1618.2" y="454.6" font-size="38" fill="#000">0.5</text>
<text x="1827.1" y="455" font-size="38" fill="#000">1</text>
<text x="1589.5" y="503.4" font-size="25.9" fill="#000">saturation</text>
<text transform="translate(1392.4 343) rotate(-90)" font-size="25.7" fill="#000">relative response</text>
<path d="M1451 403 L1454.9 399.9 L1458.8 396.9 L1462.7 393.8 L1466.6 390.7 L1470.5 387.6 L1474.4 384.6 L1478.3 381.5 L1482.1 378.4 L1486 375.3 L1489.9 372.3 L1493.8 369.2 L1497.7 366.1 L1501.6 363.1 L1505.5 360 L1509.4 356.9 L1513.3 353.8 L1517.2 350.8 L1521.1 347.7 L1525 344.6 L1528.9 341.5 L1532.8 338.5 L1536.6 335.4 L1540.5 332.3 L1544.4 329.2 L1548.3 326.2 L1552.2 323.1 L1556.1 320 L1560 317 L1563.9 313.9 L1567.8 310.8 L1571.7 307.7 L1575.6 304.7 L1579.5 301.6 L1583.4 298.5 L1587.3 295.4 L1591.1 292.4 L1595 289.3 L1598.9 286.2 L1602.8 283.2 L1606.7 280.1 L1610.6 277 L1614.5 273.9 L1618.4 270.9 L1622.3 267.8 L1626.2 264.7 L1630.1 261.6 L1634 258.6 L1637.9 255.5 L1641.8 252.4 L1645.7 249.3 L1649.5 246.3 L1653.4 243.2 L1657.3 240.1 L1661.2 237.1 L1665.1 234 L1669 230.9 L1672.9 227.8 L1676.8 224.8 L1680.7 221.7 L1684.6 218.6 L1688.5 215.5 L1692.4 212.5 L1696.3 209.4 L1700.2 206.3 L1704 203.3 L1707.9 200.2 L1711.8 197.1 L1715.7 194 L1719.6 191 L1723.5 187.9 L1727.4 184.8 L1731.3 181.7 L1735.2 178.7 L1739.1 175.6 L1743 172.5 L1746.9 169.5 L1750.8 166.4 L1754.7 163.3 L1758.5 160.2 L1762.4 157.2 L1766.3 154.1 L1770.2 151 L1774.1 147.9 L1778 144.9 L1781.9 141.8 L1785.8 138.7 L1789.7 135.6 L1793.6 132.6 L1797.5 129.5 L1801.4 126.4 L1805.3 123.4 L1809.2 120.3 L1813 117.2 L1816.9 114.1 L1820.8 111.1 L1824.7 108 L1828.6 104.9 L1832.5 101.8 L1836.4 98.8 L1840.3 95.7" fill="none" stroke="#b3b3b3" stroke-width="3.5" stroke-linejoin="round" stroke-dasharray="12.4 5.2"/>
<path d="M1451 403 L1454.9 372.3 L1458.8 359.5 L1462.7 349.8 L1466.6 341.5 L1470.5 334.3 L1474.4 327.7 L1478.3 321.7 L1482.1 316.1 L1486 310.8 L1489.9 305.8 L1493.8 301.1 L1497.7 296.5 L1501.6 292.2 L1505.5 288 L1509.4 284 L1513.3 280.1 L1517.2 276.3 L1521.1 272.6 L1525 269.1 L1528.9 265.6 L1532.8 262.2 L1536.6 258.9 L1540.5 255.6 L1544.4 252.5 L1548.3 249.3 L1552.2 246.3 L1556.1 243.3 L1560 240.4 L1563.9 237.5 L1567.8 234.7 L1571.7 231.9 L1575.6 229.2 L1579.5 226.5 L1583.4 223.8 L1587.3 221.2 L1591.1 218.6 L1595 216.1 L1598.9 213.6 L1602.8 211.1 L1606.7 208.6 L1610.6 206.2 L1614.5 203.8 L1618.4 201.5 L1622.3 199.2 L1626.2 196.9 L1630.1 194.6 L1634 192.3 L1637.9 190.1 L1641.8 187.9 L1645.7 185.7 L1649.5 183.5 L1653.4 181.4 L1657.3 179.3 L1661.2 177.2 L1665.1 175.1 L1669 173 L1672.9 171 L1676.8 169 L1680.7 167 L1684.6 165 L1688.5 163 L1692.4 161 L1696.3 159.1 L1700.2 157.2 L1704 155.2 L1707.9 153.3 L1711.8 151.5 L1715.7 149.6 L1719.6 147.7 L1723.5 145.9 L1727.4 144.1 L1731.3 142.2 L1735.2 140.4 L1739.1 138.7 L1743 136.9 L1746.9 135.1 L1750.8 133.3 L1754.7 131.6 L1758.5 129.9 L1762.4 128.1 L1766.3 126.4 L1770.2 124.7 L1774.1 123 L1778 121.4 L1781.9 119.7 L1785.8 118 L1789.7 116.4 L1793.6 114.7 L1797.5 113.1 L1801.4 111.5 L1805.3 109.9 L1809.2 108.2 L1813 106.7 L1816.9 105.1 L1820.8 103.5 L1824.7 101.9 L1828.6 100.3 L1832.5 98.8 L1836.4 97.2 L1840.3 95.7" fill="none" stroke="#f5968f" stroke-width="4" stroke-linejoin="round"/>
<path d="M1451 403 L1454.9 209.1 L1458.8 195.2 L1462.7 186.6 L1466.6 180.3 L1470.5 175.2 L1474.4 171.1 L1478.3 167.5 L1482.1 164.3 L1486 161.5 L1489.9 158.9 L1493.8 156.6 L1497.7 154.4 L1501.6 152.4 L1505.5 150.6 L1509.4 148.8 L1513.3 147.2 L1517.2 145.6 L1521.1 144.1 L1525 142.7 L1528.9 141.4 L1532.8 140.1 L1536.6 138.9 L1540.5 137.7 L1544.4 136.6 L1548.3 135.5 L1552.2 134.4 L1556.1 133.4 L1560 132.4 L1563.9 131.5 L1567.8 130.6 L1571.7 129.7 L1575.6 128.8 L1579.5 127.9 L1583.4 127.1 L1587.3 126.3 L1591.1 125.5 L1595 124.8 L1598.9 124 L1602.8 123.3 L1606.7 122.6 L1610.6 121.9 L1614.5 121.2 L1618.4 120.6 L1622.3 119.9 L1626.2 119.3 L1630.1 118.7 L1634 118 L1637.9 117.4 L1641.8 116.9 L1645.7 116.3 L1649.5 115.7 L1653.4 115.2 L1657.3 114.6 L1661.2 114.1 L1665.1 113.5 L1669 113 L1672.9 112.5 L1676.8 112 L1680.7 111.5 L1684.6 111 L1688.5 110.5 L1692.4 110 L1696.3 109.6 L1700.2 109.1 L1704 108.7 L1707.9 108.2 L1711.8 107.8 L1715.7 107.3 L1719.6 106.9 L1723.5 106.5 L1727.4 106 L1731.3 105.6 L1735.2 105.2 L1739.1 104.8 L1743 104.4 L1746.9 104 L1750.8 103.6 L1754.7 103.2 L1758.5 102.9 L1762.4 102.5 L1766.3 102.1 L1770.2 101.7 L1774.1 101.4 L1778 101 L1781.9 100.7 L1785.8 100.3 L1789.7 99.9 L1793.6 99.6 L1797.5 99.3 L1801.4 98.9 L1805.3 98.6 L1809.2 98.3 L1813 97.9 L1816.9 97.6 L1820.8 97.3 L1824.7 97 L1828.6 96.6 L1832.5 96.3 L1836.4 96 L1840.3 95.7" fill="none" stroke="#c0443d" stroke-width="4.2" stroke-linejoin="round"/>
<text x="1734.2" y="269.8" font-size="27" fill="#b0b0b0" letter-spacing="1">α=1</text>
<text x="1734.2" y="312" font-size="27" fill="#f3938c" letter-spacing="1">α=0.5</text>
<text x="1734.2" y="357" font-size="27" fill="#bb423b" letter-spacing="1">α=0.1</text>
<clipPath id="cd"><rect x="120.5" y="656" width="405.1" height="216.2"/></clipPath>
<g fill="#cccccc" fill-opacity="0.75" stroke="#fff" stroke-opacity="0.35" stroke-width="1.0" clip-path="url(#cd)"><circle cx="120.5" cy="832.8" r="3.1"/><circle cx="132.9" cy="810.1" r="4.4"/><circle cx="136.1" cy="802" r="5.9"/><circle cx="165.5" cy="826.7" r="3.1"/><circle cx="143.1" cy="822.5" r="4"/><circle cx="125.1" cy="828.6" r="4.8"/><circle cx="133.9" cy="819.2" r="5.4"/><circle cx="162.4" cy="811.8" r="5.5"/><circle cx="147.1" cy="819.8" r="5"/><circle cx="162.3" cy="828.8" r="4"/><circle cx="156.8" cy="841" r="4.4"/><circle cx="122.3" cy="833" r="4.2"/><circle cx="120.9" cy="827" r="5.3"/><circle cx="141.9" cy="802.2" r="4.5"/><circle cx="124" cy="818.1" r="3.4"/><circle cx="130.7" cy="821.8" r="5.7"/><circle cx="161.2" cy="807.6" r="3.3"/><circle cx="160.6" cy="812.3" r="5.7"/><circle cx="154.1" cy="818.7" r="5.5"/><circle cx="152.1" cy="818.2" r="4.6"/><circle cx="133.3" cy="821.2" r="5.6"/><circle cx="165.4" cy="829.8" r="4.4"/><circle cx="150.5" cy="827.7" r="4.3"/><circle cx="152.5" cy="819.2" r="5"/><circle cx="126.5" cy="819.4" r="4.1"/><circle cx="149.2" cy="830.3" r="3.8"/><circle cx="153.9" cy="812.3" r="3.2"/><circle cx="146.6" cy="824.2" r="4.6"/><circle cx="139.3" cy="824.1" r="5.5"/><circle cx="133.3" cy="834.3" r="3.9"/><circle cx="131.4" cy="804.8" r="3.5"/><circle cx="121.4" cy="813.5" r="3.1"/><circle cx="138.1" cy="792.1" r="4.3"/><circle cx="124.8" cy="825.9" r="5.9"/><circle cx="150" cy="830.1" r="4.3"/><circle cx="132.8" cy="813.6" r="4.1"/><circle cx="144.4" cy="809.9" r="6"/><circle cx="120.5" cy="826.6" r="3.8"/><circle cx="147.9" cy="797.5" r="3.2"/><circle cx="150.3" cy="815.9" r="3.7"/><circle cx="164.1" cy="817.4" r="3.7"/><circle cx="155.3" cy="816.5" r="5.3"/><circle cx="133.1" cy="818.4" r="5.9"/><circle cx="149" cy="825.5" r="4.1"/><circle cx="160.2" cy="841.6" r="5.5"/><circle cx="125" cy="817.4" r="4.7"/><circle cx="162.1" cy="810.5" r="4.3"/><circle cx="128.1" cy="817.4" r="5.3"/><circle cx="130.6" cy="793.8" r="5.7"/><circle cx="119.4" cy="836.9" r="4.3"/><circle cx="130.9" cy="820.4" r="3.4"/><circle cx="152" cy="826" r="3.8"/><circle cx="147.8" cy="823.9" r="5.4"/><circle cx="136.4" cy="842.7" r="4.4"/><circle cx="142.7" cy="805.5" r="5"/><circle cx="137" cy="813" r="3.7"/><circle cx="120.1" cy="808" r="3.4"/><circle cx="136.6" cy="840.6" r="5.8"/><circle cx="158.9" cy="819" r="4.2"/><circle cx="137.7" cy="813.6" r="3.5"/><circle cx="129.9" cy="804.7" r="4.9"/><circle cx="164.9" cy="811.5" r="4.1"/><circle cx="152" cy="815.5" r="4.7"/><circle cx="150" cy="833.2" r="3.7"/><circle cx="156" cy="807.3" r="5.7"/><circle cx="118.7" cy="800" r="5.7"/><circle cx="147.2" cy="823.4" r="5.3"/><circle cx="124.8" cy="816.9" r="3.6"/><circle cx="147.4" cy="809.9" r="3.7"/><circle cx="131.8" cy="802.9" r="5.8"/><circle cx="153.2" cy="803.6" r="5.2"/><circle cx="154.2" cy="827.5" r="4"/><circle cx="127.1" cy="823.5" r="5.6"/><circle cx="128.1" cy="838.6" r="3.9"/><circle cx="126.9" cy="819.8" r="3.8"/><circle cx="144.3" cy="839.9" r="4.9"/><circle cx="146.7" cy="817.4" r="5.6"/><circle cx="159" cy="803.1" r="4.5"/><circle cx="130.3" cy="840.7" r="3.9"/><circle cx="131.5" cy="841" r="3"/><circle cx="131.8" cy="832.3" r="3.5"/><circle cx="120.8" cy="813.4" r="5.6"/><circle cx="156.7" cy="821.8" r="4.2"/><circle cx="163.8" cy="805.4" r="3.6"/><circle cx="121.1" cy="832.4" r="6"/><circle cx="188.3" cy="818.8" r="3.3"/><circle cx="220.1" cy="795.3" r="3.9"/><circle cx="182.6" cy="814.9" r="3.3"/><circle cx="198.9" cy="807.6" r="5.8"/><circle cx="186.6" cy="822.2" r="3.3"/><circle cx="194.4" cy="821.9" r="3.7"/><circle cx="215.3" cy="815" r="4.3"/><circle cx="228" cy="838.9" r="5.8"/><circle cx="203.7" cy="817.7" r="4.4"/><circle cx="183.2" cy="802.2" r="5"/><circle cx="224.8" cy="820.9" r="6"/><circle cx="176" cy="823.6" r="4"/><circle cx="202.9" cy="826.6" r="4.2"/><circle cx="222.2" cy="820.9" r="3"/><circle cx="216.5" cy="824.4" r="5.2"/><circle cx="184.4" cy="839.7" r="3.5"/><circle cx="220.4" cy="824.1" r="4"/><circle cx="223.1" cy="808.5" r="5.7"/><circle cx="189.8" cy="826" r="4.1"/><circle cx="216.3" cy="825.3" r="4.2"/><circle cx="224.4" cy="827.4" r="5.9"/><circle cx="229.6" cy="818.7" r="5.7"/><circle cx="176.3" cy="818.6" r="5.5"/><circle cx="207.7" cy="828.9" r="3.6"/><circle cx="209.8" cy="823.9" r="4.3"/><circle cx="204.5" cy="828.5" r="5.2"/><circle cx="227.2" cy="806.2" r="4"/><circle cx="197.9" cy="833.2" r="4.3"/><circle cx="187.6" cy="822.8" r="5.1"/><circle cx="189.8" cy="797.3" r="5.5"/><circle cx="187.7" cy="808.5" r="4.6"/><circle cx="219.2" cy="825.2" r="4.1"/><circle cx="203.7" cy="802.8" r="5.8"/><circle cx="195.5" cy="804.1" r="5.3"/><circle cx="225.4" cy="828.5" r="5.2"/><circle cx="181.9" cy="812.3" r="5.3"/><circle cx="182.1" cy="823.8" r="4.9"/><circle cx="181.6" cy="805.8" r="3.4"/><circle cx="178.9" cy="820.9" r="3.7"/><circle cx="213.9" cy="818.9" r="5"/><circle cx="186.9" cy="805.7" r="3.6"/><circle cx="203.6" cy="819.5" r="4.1"/><circle cx="199.6" cy="831.8" r="4.8"/><circle cx="225" cy="830.3" r="6"/><circle cx="199.7" cy="825.5" r="5.1"/><circle cx="214.4" cy="819.9" r="4.7"/><circle cx="194.7" cy="831.9" r="4.5"/><circle cx="184.5" cy="827.5" r="5.6"/><circle cx="184.2" cy="841.3" r="5.9"/><circle cx="223.6" cy="829.7" r="5.6"/><circle cx="214.1" cy="823.9" r="3"/><circle cx="196.7" cy="833" r="5"/><circle cx="196.5" cy="815.8" r="5.7"/><circle cx="219.9" cy="803.6" r="5.7"/><circle cx="223.2" cy="816.7" r="3.3"/><circle cx="223.3" cy="811.6" r="4.5"/><circle cx="200.2" cy="811.8" r="4.1"/><circle cx="176.6" cy="821.6" r="5.3"/><circle cx="230.2" cy="791.5" r="4.8"/><circle cx="199.8" cy="839.1" r="3.6"/><circle cx="224.4" cy="801.8" r="5.2"/><circle cx="218.4" cy="833.2" r="3.8"/><circle cx="225.9" cy="832.7" r="4.3"/><circle cx="197.6" cy="810.6" r="3.4"/><circle cx="184.8" cy="805.6" r="4.6"/><circle cx="203.6" cy="802" r="5.9"/><circle cx="225.5" cy="813.9" r="5.7"/><circle cx="198.2" cy="831.5" r="5.2"/><circle cx="187.4" cy="830.6" r="4.5"/><circle cx="230.1" cy="802.9" r="3.2"/><circle cx="199.2" cy="817.4" r="3.1"/><circle cx="214.7" cy="835.6" r="4.1"/><circle cx="225.4" cy="831.2" r="4.2"/><circle cx="197.1" cy="827.8" r="4.9"/><circle cx="205.4" cy="804.8" r="4.9"/><circle cx="265" cy="824.1" r="5"/><circle cx="241" cy="827.9" r="4.5"/><circle cx="242.5" cy="829.4" r="4.1"/><circle cx="248.9" cy="829.8" r="5.4"/><circle cx="260.4" cy="815.8" r="5.1"/><circle cx="266.5" cy="819.4" r="3.9"/><circle cx="241.6" cy="811.5" r="4.4"/><circle cx="250.8" cy="817.2" r="3"/><circle cx="257.7" cy="817.8" r="5.4"/><circle cx="232.9" cy="829.2" r="4.4"/><circle cx="267.5" cy="825.4" r="3.8"/><circle cx="242.9" cy="813.6" r="5.6"/><circle cx="231.8" cy="804.8" r="4"/><circle cx="242.7" cy="825.2" r="5.2"/><circle cx="321.6" cy="810.6" r="6"/><circle cx="290.4" cy="815.6" r="6"/><circle cx="302.2" cy="823.6" r="4.9"/><circle cx="298.7" cy="814.9" r="5.4"/><circle cx="298.2" cy="807" r="3.6"/><circle cx="302.9" cy="816.7" r="3.7"/><circle cx="304.7" cy="814.6" r="4.3"/><circle cx="295.5" cy="807.9" r="3.8"/><circle cx="349.9" cy="813.6" r="3.1"/><circle cx="332" cy="797.9" r="4.3"/><circle cx="340.1" cy="813.4" r="3.7"/><circle cx="333.4" cy="827.6" r="5.9"/><circle cx="332.8" cy="807.3" r="5.7"/><circle cx="347.3" cy="810.5" r="4.2"/><circle cx="346" cy="801.8" r="5.7"/><circle cx="340.9" cy="809.1" r="5.3"/><circle cx="328.4" cy="834.6" r="5.5"/><circle cx="331.3" cy="799.1" r="4.1"/><circle cx="353.3" cy="817.8" r="5.3"/><circle cx="336.7" cy="826.6" r="4.6"/><circle cx="333" cy="818.7" r="3.7"/><circle cx="351.3" cy="801.1" r="6"/><circle cx="343.1" cy="801.7" r="4.5"/><circle cx="347.9" cy="805.2" r="3.7"/><circle cx="361" cy="796.9" r="4.5"/><circle cx="374" cy="791.5" r="4.5"/><circle cx="386" cy="789.8" r="6.7"/><circle cx="374" cy="802.9" r="3.7"/><circle cx="391.9" cy="799.3" r="3.7"/><circle cx="353.8" cy="821.9" r="5.2"/><circle cx="357.4" cy="827.9" r="4.5"/><circle cx="355.6" cy="833.8" r="4.5"/><circle cx="372.9" cy="818.3" r="4.5"/><circle cx="374" cy="827.9" r="4.5"/><circle cx="383.6" cy="831.4" r="6"/><circle cx="389.5" cy="836.2" r="4.5"/><circle cx="393.1" cy="845.7" r="4.5"/><circle cx="391.9" cy="824.3" r="5.2"/><circle cx="412.1" cy="813.6" r="6.7"/><circle cx="413.3" cy="827.9" r="5.2"/><circle cx="413.3" cy="841" r="5.2"/><circle cx="421.7" cy="837.4" r="4.5"/><circle cx="426.4" cy="837.4" r="4.5"/><circle cx="431.2" cy="819.5" r="3.7"/><circle cx="427.6" cy="824.3" r="4.5"/><circle cx="421.7" cy="782.6" r="6"/><circle cx="425.2" cy="763.6" r="6"/><circle cx="426.4" cy="773.1" r="6"/><circle cx="434.8" cy="773.1" r="6.7"/><circle cx="443.1" cy="732.6" r="4.5"/><circle cx="449" cy="727.3" r="5.2"/><circle cx="445.5" cy="755.2" r="6.7"/><circle cx="451.4" cy="739.8" r="8.2"/><circle cx="456.2" cy="749.3" r="6"/><circle cx="456.2" cy="755.2" r="5.2"/><circle cx="441.9" cy="818.3" r="5.2"/><circle cx="443.1" cy="826.7" r="5.2"/><circle cx="441.3" cy="843.9" r="4.5"/><circle cx="457.4" cy="816" r="6"/><circle cx="461" cy="818.3" r="6"/><circle cx="465.7" cy="805.2" r="4.5"/><circle cx="470.5" cy="819.5" r="4.5"/><circle cx="476.4" cy="818.3" r="4.5"/><circle cx="474" cy="800.5" r="3.7"/><circle cx="482.4" cy="825.5" r="4.5"/><circle cx="483.6" cy="831.4" r="4.5"/><circle cx="488.3" cy="841" r="4.5"/><circle cx="488.3" cy="811.2" r="4.5"/><circle cx="491.9" cy="804" r="5.2"/><circle cx="495.5" cy="814.8" r="4.5"/><circle cx="501.4" cy="820.7" r="4.5"/><circle cx="502.6" cy="788.6" r="4.5"/><circle cx="508.6" cy="792.1" r="4.5"/><circle cx="518.1" cy="795.7" r="4.5"/><circle cx="521.7" cy="800.5" r="4.5"/><circle cx="518.1" cy="808.8" r="4.5"/><circle cx="518.1" cy="816" r="4.5"/><circle cx="518.1" cy="821.9" r="4.5"/><circle cx="518.7" cy="845.1" r="4.5"/><circle cx="470.5" cy="857.6" r="4.5"/><circle cx="474" cy="863.6" r="4.5"/><circle cx="475.2" cy="679" r="4.5"/><circle cx="475.8" cy="683.2" r="4.5"/><circle cx="496.7" cy="689.8" r="4.5"/><circle cx="469.9" cy="698.1" r="4.5"/><circle cx="469.3" cy="705.8" r="4.5"/><circle cx="478.8" cy="706.4" r="6"/><circle cx="482.4" cy="708.8" r="5.2"/><circle cx="490.7" cy="700.5" r="6"/><circle cx="494.3" cy="702.9" r="4.5"/><circle cx="493.1" cy="710" r="4.5"/><circle cx="470.5" cy="726.7" r="5.2"/><circle cx="472.9" cy="733.8" r="4.5"/><circle cx="515.7" cy="758.8" r="4.5"/><circle cx="520.5" cy="767.1" r="5.2"/><circle cx="522.9" cy="774.3" r="5.2"/><circle cx="522.9" cy="779" r="4.5"/><circle cx="505" cy="779" r="5.2"/><circle cx="499" cy="771.9" r="4.5"/><circle cx="501.4" cy="783.8" r="4.5"/><circle cx="476.4" cy="791" r="4.5"/><circle cx="466.9" cy="717.1" r="5.2"/><circle cx="484.8" cy="717.1" r="4.5"/><circle cx="488.3" cy="726.7" r="4.5"/><circle cx="506.2" cy="745.7" r="4.5"/><circle cx="514.5" cy="743.3" r="4.5"/><circle cx="522.9" cy="730.2" r="4.5"/><circle cx="461" cy="764.8" r="5.2"/><circle cx="437.1" cy="802.9" r="4.5"/><circle cx="449" cy="791" r="4.5"/><circle cx="508.6" cy="802.9" r="4.5"/><circle cx="522.9" cy="791" r="4.5"/><circle cx="502.6" cy="757.6" r="4.5"/></g>
<g fill="#ab1248" fill-opacity="0.6" stroke="#fff" stroke-opacity="0.45" stroke-width="1.0" clip-path="url(#cd)"><circle cx="434.8" cy="786.2" r="6.2"/><circle cx="484.8" cy="742.1" r="4.6"/><circle cx="511.5" cy="729" r="3.9"/><circle cx="522.9" cy="750.5" r="5.4"/></g>
<g fill="#ab1248" fill-opacity="0.9" stroke="#fff" stroke-opacity="0.5" stroke-width="1.1" clip-path="url(#cd)"><circle cx="151.3" cy="821.8" r="4.1"/><circle cx="158.9" cy="816.2" r="4.7"/><circle cx="129.9" cy="817.4" r="5.7"/><circle cx="154" cy="822.2" r="3.8"/><circle cx="153.1" cy="818.6" r="4.9"/><circle cx="140" cy="823.1" r="7"/><circle cx="128.7" cy="824.1" r="4.5"/><circle cx="158.1" cy="820.6" r="7.1"/><circle cx="159.6" cy="823.3" r="4.6"/><circle cx="126.4" cy="819.2" r="6.8"/><circle cx="130.3" cy="820.9" r="6"/><circle cx="136.4" cy="819.4" r="4.7"/><circle cx="160.8" cy="821" r="4.4"/><circle cx="130.6" cy="818.4" r="4.4"/><circle cx="138.1" cy="823.1" r="5.3"/><circle cx="148.9" cy="823.6" r="7.2"/><circle cx="123.3" cy="820.7" r="7.1"/><circle cx="153.1" cy="823.6" r="4.7"/><circle cx="129.6" cy="822.2" r="4.8"/><circle cx="151.5" cy="821.3" r="7.3"/><circle cx="155.3" cy="819.1" r="7.4"/><circle cx="121.7" cy="822.4" r="6.7"/><circle cx="158" cy="823" r="3.7"/><circle cx="136.3" cy="819.6" r="4.1"/><circle cx="141.3" cy="820.5" r="6.1"/><circle cx="136.3" cy="815.5" r="4.6"/><circle cx="157.5" cy="815.6" r="7.3"/><circle cx="149.3" cy="818.4" r="4"/><circle cx="124.9" cy="820.4" r="5.9"/><circle cx="153.9" cy="824.1" r="4.7"/><circle cx="131.8" cy="826.3" r="4"/><circle cx="132.6" cy="821.3" r="5.3"/><circle cx="126.1" cy="816.6" r="3.5"/><circle cx="140.1" cy="824.7" r="4.4"/><circle cx="160.2" cy="817.4" r="5"/><circle cx="129.1" cy="824.8" r="6.5"/><circle cx="133.8" cy="826.7" r="3.7"/><circle cx="123.9" cy="824.8" r="3.6"/><circle cx="119.3" cy="820.2" r="4.8"/><circle cx="144.4" cy="823.2" r="4.2"/><circle cx="127.6" cy="822.5" r="4.1"/><circle cx="143" cy="819.2" r="4.5"/><circle cx="133.8" cy="823.2" r="6.3"/><circle cx="123" cy="823.6" r="7.4"/><circle cx="146" cy="822.3" r="6.5"/><circle cx="229.2" cy="817.6" r="6.6"/><circle cx="228.5" cy="813.6" r="4.3"/><circle cx="227.3" cy="819.7" r="5"/><circle cx="197.6" cy="825.4" r="7"/><circle cx="187.6" cy="817.1" r="6.8"/><circle cx="182.1" cy="821.7" r="5.9"/><circle cx="233.3" cy="821.6" r="4"/><circle cx="218.5" cy="819.7" r="4.6"/><circle cx="219" cy="823" r="4.9"/><circle cx="211.8" cy="819.9" r="5.1"/><circle cx="180.5" cy="819.1" r="6.4"/><circle cx="232.1" cy="822.6" r="6.7"/><circle cx="186.7" cy="820" r="6.2"/><circle cx="229.6" cy="823.5" r="3.7"/><circle cx="192.4" cy="816.5" r="3.8"/><circle cx="236" cy="820.6" r="7.3"/><circle cx="192.6" cy="818.9" r="6.7"/><circle cx="202.4" cy="820.1" r="3.5"/><circle cx="197" cy="824.4" r="7.1"/><circle cx="190.2" cy="823.4" r="6.1"/><circle cx="225.6" cy="818.5" r="7.2"/><circle cx="180.8" cy="818.1" r="6.2"/><circle cx="208" cy="823.5" r="7.3"/><circle cx="180.6" cy="823.1" r="3.6"/><circle cx="212.1" cy="816.1" r="6.9"/><circle cx="203.8" cy="826.9" r="7.1"/><circle cx="204.5" cy="819.4" r="6.5"/><circle cx="230" cy="822.8" r="5.3"/><circle cx="207.2" cy="815" r="4.4"/><circle cx="190.1" cy="821.1" r="5.7"/><circle cx="257" cy="819.5" r="4.2"/><circle cx="270.9" cy="818.4" r="4.7"/><circle cx="271" cy="821.4" r="3.9"/><circle cx="252.5" cy="819.3" r="3.1"/><circle cx="258.3" cy="817.3" r="3.2"/><circle cx="276" cy="820.3" r="3.1"/><circle cx="280.7" cy="819.3" r="3.3"/><circle cx="256.1" cy="822.6" r="4.7"/><circle cx="307.9" cy="817.6" r="6.3"/><circle cx="313" cy="817.8" r="4.6"/><circle cx="301.7" cy="820" r="3.9"/><circle cx="310.7" cy="812.3" r="6.1"/><circle cx="301.1" cy="819.2" r="5.8"/><circle cx="301.1" cy="819" r="4.1"/><circle cx="332.4" cy="817.1" r="4.6"/><circle cx="337.1" cy="816" r="3.9"/><circle cx="344.3" cy="814.8" r="3.9"/><circle cx="355" cy="813" r="5.4"/><circle cx="360.4" cy="814.2" r="3.9"/><circle cx="374" cy="811.2" r="3.9"/><circle cx="382.4" cy="809.4" r="5.4"/><circle cx="387.1" cy="807.6" r="4.6"/><circle cx="393.1" cy="812.4" r="4.6"/><circle cx="412.1" cy="800.5" r="4.6"/><circle cx="423.5" cy="804.6" r="6.2"/><circle cx="430.6" cy="805.8" r="3.9"/><circle cx="426.4" cy="791" r="6.2"/><circle cx="444.3" cy="779" r="7"/><circle cx="449" cy="774.3" r="5.4"/><circle cx="456.2" cy="769.5" r="7.7"/><circle cx="458.6" cy="774.3" r="6.2"/><circle cx="444.3" cy="799.3" r="8.5"/><circle cx="449" cy="802.9" r="4.6"/><circle cx="446.7" cy="808.8" r="3.9"/><circle cx="461" cy="793.9" r="6.2"/><circle cx="474.6" cy="785" r="3.9"/><circle cx="465.1" cy="761.2" r="3.9"/><circle cx="470.5" cy="763.6" r="4.6"/><circle cx="468.1" cy="748.7" r="6.2"/><circle cx="472.3" cy="755.2" r="5.4"/><circle cx="477.6" cy="754" r="6.2"/><circle cx="471.7" cy="739.8" r="7"/><circle cx="476.4" cy="741" r="5.4"/><circle cx="481.2" cy="733.8" r="6.2"/><circle cx="480.6" cy="721.3" r="7"/><circle cx="493.7" cy="720.1" r="6.2"/><circle cx="494.9" cy="733.2" r="4.6"/><circle cx="496.7" cy="742.1" r="3.9"/><circle cx="488.3" cy="754" r="7"/><circle cx="493.1" cy="761.2" r="7"/><circle cx="483.6" cy="763.6" r="4.6"/><circle cx="481.8" cy="773.7" r="6.2"/><circle cx="489.5" cy="772.5" r="5.4"/><circle cx="503.8" cy="765.4" r="6.2"/><circle cx="508.6" cy="774.3" r="4.6"/><circle cx="490.1" cy="783.8" r="6.2"/><circle cx="505" cy="738.6" r="4.6"/><circle cx="519.3" cy="738.6" r="6.2"/><circle cx="518.1" cy="754" r="5.4"/></g>
<path d="M118.7 820.7 L120.7 820.7 L122.8 820.7 L124.8 820.7 L126.8 820.7 L128.9 820.7 L130.9 820.7 L132.9 820.6 L135 820.6 L137 820.6 L139 820.6 L141.1 820.6 L143.1 820.6 L145.1 820.6 L147.1 820.6 L149.2 820.6 L151.2 820.6 L153.2 820.5 L155.3 820.5 L157.3 820.5 L159.3 820.5 L161.4 820.5 L163.4 820.5 L165.4 820.5 L167.5 820.4 L169.5 820.4 L171.5 820.4 L173.6 820.4 L175.6 820.4 L177.6 820.4 L179.7 820.3 L181.7 820.3 L183.7 820.3 L185.8 820.3 L187.8 820.3 L189.8 820.3 L191.9 820.2 L193.9 820.2 L195.9 820.2 L197.9 820.2 L200 820.1 L202 820.1 L204 820.1 L206.1 820.1 L208.1 820 L210.1 820 L212.2 820 L214.2 819.9 L216.2 819.9 L218.3 819.9 L220.3 819.9 L222.3 819.8 L224.4 819.8 L226.4 819.8 L228.4 819.7 L230.5 819.7 L232.5 819.6 L234.5 819.6 L236.6 819.6 L238.6 819.5 L240.6 819.5 L242.7 819.4 L244.7 819.4 L246.7 819.3 L248.7 819.3 L250.8 819.2 L252.8 819.2 L254.8 819.1 L256.9 819.1 L258.9 819 L260.9 819 L263 818.9 L265 818.8 L267 818.8 L269.1 818.7 L271.1 818.6 L273.1 818.6 L275.2 818.5 L277.2 818.4 L279.2 818.3 L281.3 818.2 L283.3 818.2 L285.3 818.1 L287.4 818 L289.4 817.9 L291.4 817.8 L293.5 817.7 L295.5 817.6 L297.5 817.5 L299.5 817.4 L301.6 817.3 L303.6 817.2 L305.6 817.1 L307.7 817 L309.7 816.8 L311.7 816.7 L313.8 816.6 L315.8 816.4 L317.8 816.3 L319.9 816.2 L321.9 816 L323.9 815.9 L326 815.7 L328 815.5 L330 815.4 L332.1 815.2 L334.1 815 L336.1 814.9 L338.2 814.7 L340.2 814.5 L342.2 814.3 L344.3 814.1 L346.3 813.9 L348.3 813.6 L350.3 813.4 L352.4 813.2 L354.4 813 L356.4 812.7 L358.5 812.5 L360.5 812.2 L362.5 811.9 L364.6 811.6 L366.6 811.4 L368.6 811.1 L370.7 810.8 L372.7 810.5 L374.7 810.1 L376.8 809.8 L378.8 809.5 L380.8 809.1 L382.9 808.7 L384.9 808.4 L386.9 808 L389 807.6 L391 807.2 L393 806.8 L395.1 806.3 L397.1 805.9 L399.1 805.4 L401.1 804.9 L403.2 804.4 L405.2 803.9 L407.2 803.4 L409.3 802.9 L411.3 802.3 L413.3 801.8 L415.4 801.2 L417.4 800.6 L419.4 799.9 L421.5 799.3 L423.5 798.6 L425.5 797.9 L427.6 797.2 L429.6 796.5 L431.6 795.8 L433.7 795 L435.7 794.2 L437.7 793.4 L439.8 792.5 L441.8 791.7 L443.8 790.8 L445.9 789.8 L447.9 788.9 L449.9 787.9 L451.9 786.9 L454 785.8 L456 784.8 L458 783.7 L460.1 782.5 L462.1 781.3 L464.1 780.1 L466.2 778.9 L468.2 777.6 L470.2 776.2 L472.3 774.9 L474.3 773.5 L476.3 772 L478.4 770.5 L480.4 769 L482.4 767.4 L484.5 765.7 L486.5 764 L488.5 762.3 L490.6 760.5 L492.6 758.6 L494.6 756.7 L496.7 754.8 L498.7 752.7 L500.7 750.6 L502.7 748.5 L504.8 746.3 L506.8 744 L508.8 741.6 L510.9 739.2 L512.9 736.7 L514.9 734.1 L517 731.4 L519 728.7 L521 725.8 L523.1 722.9 L525.1 719.9" fill="none" stroke="#1e1e1e" stroke-opacity="0.85" stroke-width="5.6" stroke-dasharray="22.9 11.1"/>
<clipPath id="ce"><rect x="673.8" y="656" width="405.1" height="216.2"/></clipPath>
<g fill="#cccccc" fill-opacity="0.75" stroke="#fff" stroke-opacity="0.35" stroke-width="1.0" clip-path="url(#ce)"><circle cx="674" cy="831.2" r="4.5"/><circle cx="703.4" cy="819.9" r="5"/><circle cx="685.4" cy="837.2" r="6.7"/><circle cx="722.7" cy="823.5" r="3.8"/><circle cx="710.3" cy="827.1" r="5.2"/><circle cx="705.6" cy="822.6" r="3.6"/><circle cx="687.8" cy="792.6" r="6.1"/><circle cx="681.6" cy="813" r="6.1"/><circle cx="703.4" cy="837" r="6.2"/><circle cx="680.8" cy="819.2" r="3.6"/><circle cx="719.3" cy="849" r="4.6"/><circle cx="686.7" cy="788.2" r="6.1"/><circle cx="711.5" cy="814" r="5.7"/><circle cx="717.5" cy="827.6" r="4.1"/><circle cx="715.1" cy="810.4" r="5.9"/><circle cx="674.1" cy="808.2" r="5.4"/><circle cx="673" cy="844" r="5.4"/><circle cx="703.3" cy="789.6" r="5.6"/><circle cx="708.1" cy="813.8" r="5.1"/><circle cx="683.8" cy="836.6" r="5.4"/><circle cx="712.2" cy="864.1" r="3.9"/><circle cx="687.2" cy="818.8" r="6.9"/><circle cx="721.2" cy="819.6" r="4.2"/><circle cx="701.9" cy="844.8" r="5.4"/><circle cx="697.7" cy="812.5" r="4.5"/><circle cx="721.2" cy="790.3" r="4.5"/><circle cx="695.7" cy="810.6" r="4.8"/><circle cx="702.7" cy="831.1" r="5.7"/><circle cx="702.6" cy="849.2" r="4.2"/><circle cx="683.3" cy="813.8" r="5.5"/><circle cx="705.1" cy="849.1" r="5.9"/><circle cx="703.8" cy="819.6" r="3.6"/><circle cx="704.1" cy="820" r="5.8"/><circle cx="717.4" cy="849.9" r="6.3"/><circle cx="700.6" cy="788.5" r="3.2"/><circle cx="676.7" cy="807.3" r="5.1"/><circle cx="705.2" cy="799" r="5.4"/><circle cx="680.6" cy="840.5" r="4"/><circle cx="689.8" cy="856.9" r="4.3"/><circle cx="700" cy="809.4" r="6.2"/><circle cx="712.6" cy="820.1" r="5.9"/><circle cx="718.8" cy="839.2" r="6.2"/><circle cx="676.8" cy="824.4" r="4.2"/><circle cx="692.4" cy="811.2" r="4.2"/><circle cx="717.4" cy="798.6" r="4.3"/><circle cx="700.6" cy="824.1" r="5.1"/><circle cx="697" cy="852.6" r="3.3"/><circle cx="718.6" cy="809.2" r="3.3"/><circle cx="683" cy="804.9" r="5.7"/><circle cx="678.2" cy="778.9" r="3.5"/><circle cx="711.3" cy="819.3" r="3.6"/><circle cx="711.7" cy="826.6" r="5.8"/><circle cx="683.3" cy="816.4" r="4.7"/><circle cx="699.8" cy="807.5" r="6.5"/><circle cx="697.2" cy="793.8" r="4.1"/><circle cx="674.9" cy="819.3" r="5.7"/><circle cx="686.3" cy="808.5" r="4.6"/><circle cx="697.8" cy="803.2" r="6"/><circle cx="698.3" cy="815.9" r="3.7"/><circle cx="697.3" cy="803.5" r="6.2"/><circle cx="774" cy="810.7" r="3"/><circle cx="776.9" cy="808.3" r="5.4"/><circle cx="783.8" cy="834" r="3.8"/><circle cx="744" cy="821.3" r="5.2"/><circle cx="737.1" cy="828.7" r="4.9"/><circle cx="747.2" cy="829.4" r="3.5"/><circle cx="752.9" cy="810.6" r="4.4"/><circle cx="769" cy="824.9" r="6.3"/><circle cx="778.3" cy="846.6" r="3.1"/><circle cx="763.3" cy="810.2" r="4.7"/><circle cx="776.4" cy="815.6" r="4.9"/><circle cx="737.4" cy="802.1" r="6.3"/><circle cx="758" cy="840.7" r="5.3"/><circle cx="776.5" cy="828.9" r="5.2"/><circle cx="781.8" cy="813.9" r="4.7"/><circle cx="737" cy="815.1" r="3.2"/><circle cx="774.6" cy="815.6" r="4.9"/><circle cx="757" cy="830" r="4.4"/><circle cx="767.1" cy="840.9" r="3"/><circle cx="764.4" cy="840.4" r="6.1"/><circle cx="746.8" cy="831.3" r="6.1"/><circle cx="775.6" cy="813.6" r="6.4"/><circle cx="738.8" cy="832.1" r="4.4"/><circle cx="741.3" cy="849.1" r="5.1"/><circle cx="782.5" cy="835.5" r="6"/><circle cx="762.5" cy="846.2" r="3.4"/><circle cx="764.1" cy="810.2" r="6"/><circle cx="756.6" cy="809.1" r="3.9"/><circle cx="778" cy="811.7" r="3"/><circle cx="742.2" cy="824.5" r="3.6"/><circle cx="775.8" cy="816.3" r="5.3"/><circle cx="748.9" cy="813.2" r="3.8"/><circle cx="749.7" cy="828.8" r="6.3"/><circle cx="761.8" cy="820.1" r="6"/><circle cx="764.8" cy="829.2" r="3.9"/><circle cx="812.5" cy="839.6" r="4"/><circle cx="801.6" cy="829.8" r="6.6"/><circle cx="850.2" cy="822.2" r="5.1"/><circle cx="857.7" cy="830.1" r="5.8"/><circle cx="861.4" cy="816.1" r="5.9"/><circle cx="852.2" cy="822.5" r="3.7"/><circle cx="863.9" cy="821.7" r="4.7"/><circle cx="857.2" cy="801.2" r="6.8"/><circle cx="822.2" cy="834.4" r="6.6"/><circle cx="855.3" cy="806.9" r="3.3"/><circle cx="814.5" cy="821.4" r="6.6"/><circle cx="804.2" cy="824.5" r="4.4"/><circle cx="805.1" cy="816.9" r="6.6"/><circle cx="842.4" cy="826.7" r="5.2"/><circle cx="822.3" cy="821.5" r="6.6"/><circle cx="798.5" cy="800.3" r="5.6"/><circle cx="833.2" cy="821" r="4.8"/><circle cx="817.3" cy="820" r="3.7"/><circle cx="834.3" cy="816.5" r="6.4"/><circle cx="847.1" cy="816.7" r="4.9"/><circle cx="809.1" cy="822.4" r="3.5"/><circle cx="848.8" cy="815.1" r="3.6"/><circle cx="796.2" cy="816.2" r="7"/><circle cx="842.3" cy="826.2" r="6.4"/><circle cx="831.3" cy="832.2" r="5"/><circle cx="835.3" cy="818.4" r="3.2"/><circle cx="811.7" cy="804.9" r="5.8"/><circle cx="830.5" cy="824.4" r="5.5"/><circle cx="791.4" cy="815.9" r="4.7"/><circle cx="844.9" cy="828.8" r="3.3"/><circle cx="857.8" cy="790.8" r="3.8"/><circle cx="856.3" cy="828.7" r="4.4"/><circle cx="860.8" cy="812.4" r="3.3"/><circle cx="817.6" cy="841.9" r="5.7"/><circle cx="835.9" cy="804.3" r="5.9"/><circle cx="908.1" cy="833.4" r="5.5"/><circle cx="931.7" cy="812.1" r="6.9"/><circle cx="925.2" cy="819.7" r="5.3"/><circle cx="914.7" cy="807.4" r="4.2"/><circle cx="940.3" cy="759.9" r="6.9"/><circle cx="894.5" cy="772.9" r="6.1"/><circle cx="911.4" cy="788.9" r="3.5"/><circle cx="892.8" cy="789.5" r="3.5"/><circle cx="924.2" cy="777.8" r="4.4"/><circle cx="924.8" cy="793" r="4.3"/><circle cx="918.8" cy="805.3" r="6.3"/><circle cx="885.2" cy="778.9" r="5.6"/><circle cx="881.8" cy="809.6" r="4"/><circle cx="892.8" cy="820.8" r="4.7"/><circle cx="937" cy="797.3" r="4.8"/><circle cx="879.2" cy="766.9" r="5.1"/><circle cx="921.6" cy="820.6" r="6.6"/><circle cx="932.1" cy="835" r="5.3"/><circle cx="932" cy="808.4" r="4.1"/><circle cx="911" cy="812.5" r="5.1"/><circle cx="918.7" cy="838.1" r="5.2"/><circle cx="895.7" cy="823.2" r="3.5"/><circle cx="877.5" cy="813.2" r="5.3"/><circle cx="906.1" cy="860.6" r="5.6"/><circle cx="910.9" cy="838.3" r="6"/><circle cx="892.9" cy="789.2" r="6.5"/><circle cx="941.4" cy="784" r="6"/><circle cx="890.7" cy="795.2" r="6.2"/><circle cx="937.4" cy="759.7" r="5.3"/><circle cx="884.9" cy="801.6" r="6.9"/><circle cx="886.5" cy="796.8" r="5.2"/><circle cx="900" cy="802.9" r="5.5"/><circle cx="892" cy="835.4" r="3.7"/><circle cx="943.1" cy="811.2" r="3.1"/><circle cx="939.2" cy="806.2" r="4.6"/><circle cx="942.2" cy="787.4" r="5"/><circle cx="934.5" cy="776.9" r="4"/><circle cx="902.8" cy="785" r="4.6"/><circle cx="942.9" cy="785.2" r="5"/><circle cx="897.3" cy="790.8" r="4"/><circle cx="938.8" cy="801.8" r="5.5"/><circle cx="896.7" cy="787.9" r="6.9"/><circle cx="905.6" cy="803.5" r="3.1"/><circle cx="912.6" cy="816.7" r="6.4"/><circle cx="912" cy="828.8" r="4.1"/><circle cx="876.2" cy="813.9" r="3.7"/><circle cx="885.3" cy="841.3" r="3.9"/><circle cx="907.8" cy="787" r="6.3"/><circle cx="922.5" cy="821.6" r="5"/><circle cx="903.3" cy="841.2" r="6.6"/><circle cx="880.6" cy="799.2" r="3.5"/><circle cx="929.4" cy="825" r="4.8"/><circle cx="881.5" cy="779.9" r="3.2"/><circle cx="927.3" cy="819.2" r="3.6"/><circle cx="880.9" cy="827.2" r="4.1"/><circle cx="923" cy="816.7" r="5.6"/><circle cx="891.1" cy="820.6" r="4.4"/><circle cx="946.3" cy="806.8" r="3.3"/><circle cx="907.5" cy="815.3" r="5"/><circle cx="878.8" cy="821.5" r="5.9"/><circle cx="923.7" cy="796.6" r="6.5"/><circle cx="903.1" cy="790.7" r="6.6"/><circle cx="904.1" cy="800.9" r="5.7"/><circle cx="910.3" cy="819.7" r="4.9"/><circle cx="912.8" cy="793.6" r="3.5"/><circle cx="927.9" cy="810.2" r="5.7"/><circle cx="945.1" cy="820.8" r="5"/><circle cx="899.6" cy="804.1" r="4.8"/><circle cx="938.5" cy="806.4" r="4.3"/><circle cx="891.5" cy="807.9" r="3.3"/><circle cx="946.1" cy="823.7" r="5.4"/><circle cx="911.8" cy="776.9" r="6.5"/><circle cx="877.1" cy="782.9" r="6.9"/><circle cx="923.5" cy="818.1" r="4.9"/><circle cx="915.2" cy="778.2" r="4.6"/><circle cx="884.7" cy="807.3" r="3.7"/><circle cx="894.1" cy="814.3" r="4.9"/><circle cx="894.6" cy="788.5" r="6.1"/><circle cx="916" cy="796.3" r="4.8"/><circle cx="921.8" cy="793.6" r="5.2"/><circle cx="903.7" cy="789.6" r="4.1"/><circle cx="932.8" cy="811.1" r="6.9"/><circle cx="900.8" cy="802" r="3"/><circle cx="912.6" cy="747.2" r="6"/><circle cx="896.6" cy="834.6" r="4.6"/><circle cx="930.6" cy="787.6" r="4.2"/><circle cx="922.4" cy="805.9" r="4.7"/><circle cx="925.8" cy="839" r="6.6"/><circle cx="896.9" cy="835.8" r="3.9"/><circle cx="934.4" cy="798.7" r="3.8"/><circle cx="966.3" cy="790.8" r="5"/><circle cx="980.8" cy="749.4" r="5.6"/><circle cx="981.4" cy="804.7" r="7"/><circle cx="990.1" cy="790.6" r="5.8"/><circle cx="958.5" cy="811.1" r="6.4"/><circle cx="966.1" cy="784.5" r="3.5"/><circle cx="970.9" cy="766.6" r="4"/><circle cx="961" cy="806.1" r="3.7"/><circle cx="957" cy="805.1" r="4.1"/><circle cx="996.6" cy="750.3" r="6.5"/><circle cx="949.6" cy="811.5" r="3.7"/><circle cx="952.5" cy="819.1" r="4.6"/><circle cx="996" cy="821.3" r="4.1"/><circle cx="980.6" cy="827.9" r="4.5"/><circle cx="975.5" cy="792.6" r="4.8"/><circle cx="977.7" cy="848.7" r="6.7"/><circle cx="971.6" cy="781.3" r="3.5"/><circle cx="989.1" cy="771" r="5.4"/><circle cx="998.7" cy="778.5" r="5.2"/><circle cx="968.8" cy="813.3" r="4.2"/><circle cx="972.8" cy="728.4" r="3.1"/><circle cx="956.2" cy="800.8" r="5.6"/><circle cx="993.8" cy="762.6" r="5.6"/><circle cx="960.2" cy="817.7" r="5.6"/><circle cx="977.2" cy="794" r="5.7"/><circle cx="990.5" cy="813.8" r="3"/><circle cx="951" cy="786.3" r="3.2"/><circle cx="978.4" cy="843.5" r="4.4"/><circle cx="980.3" cy="839.7" r="4"/><circle cx="997.3" cy="797.2" r="5.6"/><circle cx="991.7" cy="809.3" r="6.2"/><circle cx="995.3" cy="800.3" r="3.9"/><circle cx="976.9" cy="767.7" r="4.9"/><circle cx="973.4" cy="772.3" r="3.7"/><circle cx="950.5" cy="801.5" r="4.4"/><circle cx="946.6" cy="819.9" r="6.9"/><circle cx="981.1" cy="793.1" r="5.1"/><circle cx="983.9" cy="768.7" r="3.3"/><circle cx="969.6" cy="787.9" r="3.5"/><circle cx="964.4" cy="809.7" r="5.8"/><circle cx="988.3" cy="742.9" r="4.6"/><circle cx="989.8" cy="812.5" r="5.9"/><circle cx="981.7" cy="780.4" r="5.7"/><circle cx="994.5" cy="789.1" r="4.9"/><circle cx="968" cy="765.3" r="6.7"/><circle cx="949.6" cy="823.9" r="4.7"/><circle cx="984.5" cy="761.9" r="6.5"/><circle cx="985.4" cy="811.4" r="4.3"/><circle cx="953.9" cy="819.6" r="4.1"/><circle cx="992" cy="757.6" r="3.6"/><circle cx="952.3" cy="749.6" r="4"/><circle cx="962.4" cy="852.5" r="6.6"/><circle cx="951.7" cy="772.6" r="6.6"/><circle cx="964.9" cy="802.9" r="4.9"/><circle cx="1000" cy="753.5" r="5.2"/><circle cx="947.2" cy="752.8" r="3.2"/><circle cx="976.2" cy="780.2" r="6.7"/><circle cx="970.6" cy="818.3" r="5.3"/><circle cx="984" cy="793.3" r="3.3"/><circle cx="954.9" cy="794.5" r="6.9"/><circle cx="978.8" cy="801" r="5.4"/><circle cx="995.2" cy="721.1" r="6.4"/><circle cx="965.7" cy="774" r="3.7"/><circle cx="997" cy="781.2" r="6"/><circle cx="1001" cy="822" r="3.7"/><circle cx="974.1" cy="782.5" r="3.1"/><circle cx="994" cy="760.3" r="4"/><circle cx="993.4" cy="769.7" r="5.9"/><circle cx="978.6" cy="766.9" r="3.2"/><circle cx="983.9" cy="779.8" r="5.3"/><circle cx="964.1" cy="765.1" r="6.1"/><circle cx="992.6" cy="831.8" r="4.5"/><circle cx="983.3" cy="784.1" r="3.2"/><circle cx="954.6" cy="769.1" r="4.5"/><circle cx="977.1" cy="751.3" r="5.9"/><circle cx="952.3" cy="806.8" r="6.1"/><circle cx="983.7" cy="779.3" r="4.7"/><circle cx="977.4" cy="814.3" r="4"/><circle cx="986.4" cy="762.4" r="5.7"/><circle cx="979.1" cy="794.7" r="5.1"/><circle cx="978.7" cy="755.7" r="3.5"/><circle cx="959.5" cy="823.4" r="3.4"/><circle cx="989.9" cy="831.9" r="4.3"/><circle cx="966.5" cy="753.1" r="4.1"/><circle cx="983.3" cy="765.4" r="3.2"/><circle cx="949.4" cy="789.5" r="6.5"/><circle cx="979.6" cy="853.8" r="6.6"/><circle cx="965.9" cy="770.1" r="3.6"/><circle cx="973.1" cy="787.5" r="6.9"/><circle cx="1000.6" cy="737.6" r="4.6"/><circle cx="969.4" cy="782.4" r="6.8"/><circle cx="986.9" cy="812.3" r="4.7"/><circle cx="993.8" cy="767.1" r="3.2"/><circle cx="993.6" cy="741.2" r="6.5"/><circle cx="953.6" cy="793.1" r="3.2"/><circle cx="1003.1" cy="773.1" r="4.5"/><circle cx="1034.1" cy="746.7" r="6"/><circle cx="1043" cy="735.8" r="3.6"/><circle cx="1032.8" cy="753.8" r="4.6"/><circle cx="1024.9" cy="756.4" r="3.7"/><circle cx="1047.9" cy="753" r="5.6"/><circle cx="1032.5" cy="787.3" r="5.4"/><circle cx="1006.5" cy="776.1" r="4.1"/><circle cx="1005" cy="728.8" r="5.8"/><circle cx="1025.9" cy="841.4" r="5"/><circle cx="1026.6" cy="699.2" r="5.6"/><circle cx="1042.7" cy="778.7" r="5.4"/><circle cx="1019.4" cy="820.7" r="4.4"/><circle cx="1043.9" cy="706.7" r="5"/><circle cx="1002.4" cy="725.7" r="6.8"/><circle cx="1009.7" cy="776.5" r="6.2"/><circle cx="1001.4" cy="815.3" r="4"/><circle cx="1017.1" cy="789.7" r="6.1"/><circle cx="1037.4" cy="723" r="5.8"/><circle cx="1023.2" cy="837.2" r="4.5"/><circle cx="1025.6" cy="729.4" r="6.8"/><circle cx="1036.4" cy="740.6" r="4.8"/><circle cx="1021.8" cy="788.6" r="4"/><circle cx="1041.9" cy="827.1" r="3.8"/><circle cx="1010.2" cy="739.4" r="3.2"/><circle cx="1012.3" cy="760.5" r="4.1"/><circle cx="1015.5" cy="821.1" r="6.7"/><circle cx="1013" cy="724.2" r="3.6"/><circle cx="1017.6" cy="704.3" r="5.8"/><circle cx="1019.6" cy="825.8" r="6.3"/><circle cx="1017" cy="791.6" r="3.9"/><circle cx="1002.4" cy="778.7" r="3.3"/><circle cx="1026.5" cy="843.9" r="3.5"/><circle cx="1014" cy="781.9" r="5.9"/><circle cx="1013.7" cy="761.1" r="4.4"/><circle cx="1001.6" cy="777.6" r="5.2"/><circle cx="1036.5" cy="750.6" r="4.7"/><circle cx="1018.1" cy="670.1" r="5.3"/><circle cx="1045.7" cy="769.4" r="6.6"/><circle cx="1018.8" cy="788.7" r="5.5"/><circle cx="1068.2" cy="683.5" r="4.6"/><circle cx="1053.8" cy="827.8" r="5.9"/><circle cx="1068.1" cy="785.1" r="5"/><circle cx="1052.6" cy="722.5" r="4.4"/><circle cx="1070" cy="822.7" r="6.6"/><circle cx="1056.3" cy="829.8" r="4.7"/><circle cx="1075.8" cy="788.4" r="6.4"/><circle cx="1059.4" cy="705.2" r="4.8"/><circle cx="1073.2" cy="813" r="4.1"/><circle cx="1060.5" cy="839.7" r="6.8"/><circle cx="1070.5" cy="745.4" r="3.5"/><circle cx="1053.3" cy="692.9" r="3.1"/><circle cx="1072.5" cy="742.9" r="3.3"/><circle cx="1075.1" cy="779.4" r="3.5"/><circle cx="1057.9" cy="691.7" r="4.4"/><circle cx="1072.2" cy="695" r="4.5"/><circle cx="1062.8" cy="743" r="6.1"/><circle cx="1051.3" cy="698.6" r="3.2"/><circle cx="1058.8" cy="763.1" r="5.2"/><circle cx="1056" cy="797" r="3.3"/><circle cx="1064" cy="814.6" r="6.1"/><circle cx="1065.5" cy="683.5" r="6.7"/><circle cx="1074.1" cy="809" r="5.5"/><circle cx="1053.8" cy="787.7" r="5.7"/><circle cx="1077.6" cy="713.1" r="3.2"/><circle cx="1074.3" cy="690.4" r="4"/><circle cx="1075.1" cy="830.4" r="5.1"/><circle cx="1063.6" cy="761.4" r="5.4"/><circle cx="1055.6" cy="772.8" r="6"/><circle cx="1078" cy="708" r="3.7"/><circle cx="1056.8" cy="700.5" r="6.8"/><circle cx="1063.1" cy="744.4" r="4.4"/><circle cx="1059.6" cy="714.8" r="4.5"/><circle cx="1067.1" cy="705.1" r="5.4"/><circle cx="1052.4" cy="782.6" r="6"/><circle cx="1066.5" cy="796.4" r="5"/><circle cx="1062.6" cy="698.8" r="3.3"/><circle cx="1055.7" cy="807.9" r="5.3"/><circle cx="1064.1" cy="758.5" r="4.3"/><circle cx="1056.9" cy="680.3" r="3.4"/><circle cx="1053.6" cy="689.9" r="4.7"/><circle cx="1073.6" cy="791" r="3.4"/><circle cx="1056.5" cy="736.5" r="4.8"/><circle cx="1065.9" cy="741.3" r="4.5"/><circle cx="1072.7" cy="792.2" r="4.8"/><circle cx="1070" cy="712" r="4"/><circle cx="1064.4" cy="724.1" r="4.9"/><circle cx="1055.6" cy="680.8" r="3.6"/><circle cx="1062.5" cy="702.9" r="6"/><circle cx="1077.1" cy="820.7" r="4.3"/><circle cx="1070.1" cy="821.5" r="7"/><circle cx="1070.3" cy="723.9" r="6.6"/><circle cx="1059.8" cy="837.6" r="5.1"/><circle cx="1062.8" cy="805.3" r="4.6"/><circle cx="1069.4" cy="826.8" r="5.6"/><circle cx="1077.4" cy="776.9" r="4.3"/><circle cx="1057.6" cy="793.2" r="6.1"/><circle cx="1078.1" cy="730.6" r="4.6"/><circle cx="1067.8" cy="753.9" r="5.7"/><circle cx="1065.9" cy="710" r="3.8"/></g>
<g fill="#572fc9" fill-opacity="0.9" stroke="#fff" stroke-opacity="0.5" stroke-width="1.1" clip-path="url(#ce)"><circle cx="727.7" cy="822.9" r="8.8"/><circle cx="672.3" cy="825.2" r="5.3"/><circle cx="712.8" cy="823" r="5.6"/><circle cx="709.4" cy="820.2" r="5.7"/><circle cx="710.1" cy="821.4" r="8.4"/><circle cx="693.9" cy="820" r="6.2"/><circle cx="673.2" cy="823" r="8.8"/><circle cx="717.3" cy="822.1" r="6.3"/><circle cx="696.1" cy="823" r="6.2"/><circle cx="673.7" cy="822.8" r="7.2"/><circle cx="718.9" cy="826.8" r="8.1"/><circle cx="721.3" cy="822.3" r="5.1"/><circle cx="701.9" cy="822" r="5.9"/><circle cx="676.1" cy="821" r="6.5"/><circle cx="694.4" cy="825.4" r="8.3"/><circle cx="676.5" cy="825" r="5.7"/><circle cx="706.9" cy="823.1" r="6.2"/><circle cx="674.4" cy="823.8" r="8.8"/><circle cx="683.9" cy="822.4" r="5.5"/><circle cx="707.5" cy="825.9" r="7.2"/><circle cx="676" cy="822.7" r="8.7"/><circle cx="728.7" cy="822.6" r="5.1"/><circle cx="698.9" cy="824" r="6.1"/><circle cx="722.6" cy="825.5" r="5.9"/><circle cx="694.8" cy="824.9" r="5.1"/><circle cx="702.8" cy="821.7" r="8.6"/><circle cx="678.7" cy="820.7" r="5.6"/><circle cx="681.8" cy="822.6" r="8"/><circle cx="689.2" cy="823.9" r="6.6"/><circle cx="672.4" cy="823.3" r="5.9"/><circle cx="702.3" cy="822.7" r="6"/><circle cx="678.4" cy="824.8" r="8.4"/><circle cx="708.9" cy="822.6" r="8.2"/><circle cx="722.2" cy="823.3" r="6.9"/><circle cx="672.2" cy="823.6" r="7.3"/><circle cx="679.2" cy="823.6" r="8.8"/><circle cx="679.9" cy="822.9" r="7.7"/><circle cx="713.3" cy="822.7" r="8.4"/><circle cx="723.9" cy="823.2" r="5.6"/><circle cx="673.4" cy="822.5" r="8.1"/><circle cx="779.7" cy="823.6" r="7.7"/><circle cx="771.4" cy="823.1" r="6.2"/><circle cx="779.9" cy="822.8" r="5.4"/><circle cx="767.1" cy="820" r="5.6"/><circle cx="751.2" cy="817.4" r="7.2"/><circle cx="764.9" cy="822.4" r="5.8"/><circle cx="766.9" cy="826.5" r="8.4"/><circle cx="773.2" cy="822.4" r="5.7"/><circle cx="755.9" cy="823.4" r="7.6"/><circle cx="754.4" cy="820.3" r="6.3"/><circle cx="771.5" cy="817.6" r="5.1"/><circle cx="774.6" cy="825.2" r="7.3"/><circle cx="767.6" cy="824" r="7.9"/><circle cx="758.1" cy="822.3" r="7"/><circle cx="765.5" cy="824" r="8.5"/><circle cx="757.5" cy="821.5" r="6.7"/><circle cx="763.1" cy="821.4" r="8.2"/><circle cx="760.6" cy="825" r="7.2"/><circle cx="862.2" cy="821" r="6"/><circle cx="824.1" cy="821.9" r="7.1"/><circle cx="852.3" cy="821.2" r="8.7"/><circle cx="841.4" cy="823.4" r="8.9"/><circle cx="864.1" cy="816" r="8.3"/><circle cx="858.6" cy="819.9" r="6.6"/><circle cx="877.2" cy="815.7" r="6.8"/><circle cx="857.2" cy="815" r="8.6"/><circle cx="841.9" cy="818" r="7.5"/><circle cx="866.6" cy="815.2" r="7.9"/><circle cx="824.9" cy="824.1" r="6"/><circle cx="829.1" cy="819.3" r="7.2"/><circle cx="885.3" cy="812.7" r="5.9"/><circle cx="844.6" cy="817.5" r="8.9"/><circle cx="852.3" cy="817.8" r="7.5"/><circle cx="884.1" cy="816.8" r="7.7"/><circle cx="851.7" cy="819.3" r="6.4"/><circle cx="805.4" cy="817" r="7.8"/><circle cx="852.5" cy="819.5" r="7.6"/><circle cx="805.8" cy="821.3" r="6.3"/><circle cx="873.2" cy="816.1" r="7.2"/><circle cx="873.4" cy="811.5" r="5.8"/><circle cx="807" cy="820.9" r="8.2"/><circle cx="816.7" cy="821.1" r="5"/><circle cx="842.7" cy="821.3" r="6"/><circle cx="816.1" cy="823" r="8.5"/><circle cx="883.3" cy="815.1" r="5.4"/><circle cx="876.2" cy="812.8" r="6.2"/><circle cx="824.1" cy="823" r="8.3"/><circle cx="830.2" cy="820.6" r="9"/><circle cx="864.7" cy="821" r="7.8"/><circle cx="856" cy="816.6" r="6"/><circle cx="876.3" cy="814.3" r="5.4"/><circle cx="853.3" cy="816.4" r="8.4"/><circle cx="884.9" cy="817.5" r="7.4"/><circle cx="833.8" cy="817.8" r="7.4"/><circle cx="874.6" cy="815.7" r="5.8"/><circle cx="811.5" cy="823.2" r="7.9"/><circle cx="877.2" cy="814.2" r="7.7"/><circle cx="810.7" cy="821.7" r="7.4"/><circle cx="834" cy="816.2" r="6"/><circle cx="843" cy="815.5" r="6.7"/><circle cx="862" cy="822.3" r="7.2"/><circle cx="867.3" cy="815.7" r="5.5"/><circle cx="865.2" cy="819.3" r="7.2"/><circle cx="946.5" cy="811.3" r="8.4"/><circle cx="977" cy="792.3" r="6"/><circle cx="927.7" cy="815.1" r="7.5"/><circle cx="909.9" cy="812.2" r="6.2"/><circle cx="987.2" cy="799.3" r="6"/><circle cx="966.6" cy="794.6" r="8.4"/><circle cx="916.8" cy="808.8" r="6"/><circle cx="928.1" cy="813.1" r="5.8"/><circle cx="891.5" cy="808.2" r="6.3"/><circle cx="952.4" cy="803" r="7.7"/><circle cx="887.6" cy="801.4" r="7.9"/><circle cx="951.3" cy="801.2" r="8.4"/><circle cx="931.7" cy="813" r="6.2"/><circle cx="972" cy="788.9" r="5.6"/><circle cx="947.3" cy="797.2" r="8.7"/><circle cx="948.7" cy="804.9" r="5.7"/><circle cx="925" cy="809.7" r="5.6"/><circle cx="983.7" cy="792.3" r="6.1"/><circle cx="923.8" cy="807.9" r="7.2"/><circle cx="896.5" cy="812.5" r="6"/><circle cx="902.6" cy="809.7" r="6.6"/><circle cx="994.9" cy="782.8" r="8.2"/><circle cx="945.5" cy="802.1" r="7"/><circle cx="985.1" cy="802.5" r="7.8"/><circle cx="902.7" cy="822.8" r="7.8"/><circle cx="909" cy="813.1" r="6.8"/><circle cx="888.8" cy="826.1" r="6.3"/><circle cx="915.7" cy="807.5" r="6.7"/><circle cx="995" cy="782" r="7.1"/><circle cx="968" cy="794.7" r="6.2"/><circle cx="963" cy="801" r="7.8"/><circle cx="918.3" cy="813.3" r="8.6"/><circle cx="942" cy="812.4" r="6.6"/><circle cx="979.7" cy="790.2" r="8.2"/><circle cx="929.8" cy="802.1" r="7.1"/><circle cx="944.7" cy="799.6" r="6.7"/><circle cx="915.9" cy="815.9" r="7.7"/><circle cx="933.2" cy="801.6" r="5.1"/><circle cx="966" cy="789.1" r="6.1"/><circle cx="932.5" cy="800.9" r="7.3"/><circle cx="906.4" cy="812.3" r="8.3"/><circle cx="980.2" cy="796.1" r="7.4"/><circle cx="933" cy="807.9" r="7.6"/><circle cx="921.7" cy="801.7" r="5.1"/><circle cx="945.8" cy="802" r="6.3"/><circle cx="926.1" cy="800.1" r="8"/><circle cx="972" cy="790.5" r="8"/><circle cx="982.9" cy="794.9" r="8.9"/><circle cx="913.3" cy="807" r="7.9"/><circle cx="957.2" cy="804.8" r="6.3"/><circle cx="953" cy="801.1" r="6.6"/><circle cx="973.8" cy="789.9" r="6.1"/><circle cx="958.1" cy="806.8" r="6.5"/><circle cx="976" cy="796.1" r="8"/><circle cx="945.3" cy="804" r="8.5"/><circle cx="1008.5" cy="791.4" r="7.8"/><circle cx="1019.1" cy="775.5" r="6.5"/><circle cx="1037.1" cy="750.9" r="7.6"/><circle cx="1010.8" cy="778.8" r="7.4"/><circle cx="1019.7" cy="763.5" r="5.7"/><circle cx="1022.7" cy="760.1" r="4.5"/><circle cx="1022.9" cy="770.6" r="7.5"/><circle cx="1033.2" cy="743.7" r="7"/><circle cx="1005" cy="785.1" r="4.6"/><circle cx="1015.9" cy="754.3" r="4.6"/><circle cx="1002.8" cy="773.9" r="4.7"/><circle cx="1033.5" cy="755.8" r="8.3"/><circle cx="1004.9" cy="768.6" r="7.4"/><circle cx="1018" cy="773.9" r="6.4"/><circle cx="1007" cy="772.1" r="7.9"/><circle cx="1013.3" cy="782.3" r="6.2"/><circle cx="1032.4" cy="751" r="5.9"/><circle cx="1010.4" cy="762" r="4.8"/><circle cx="1033.6" cy="755.4" r="7.4"/><circle cx="1017.6" cy="759.6" r="7.1"/><circle cx="1034.3" cy="795.2" r="5"/><circle cx="1033.4" cy="782.3" r="5.7"/><circle cx="1029.8" cy="793.6" r="5.6"/><circle cx="1029.7" cy="796.5" r="6.5"/><circle cx="1025.1" cy="785" r="4.6"/><circle cx="1031.5" cy="784.2" r="5.2"/><circle cx="1024.8" cy="792.5" r="5.5"/><circle cx="1030.2" cy="785.6" r="6.4"/><circle cx="1024.7" cy="779.5" r="4.7"/><circle cx="1064" cy="701.6" r="7.5"/><circle cx="1058.4" cy="742.6" r="6.9"/><circle cx="1052" cy="738.6" r="7.7"/><circle cx="1058.9" cy="728" r="6"/><circle cx="1051.6" cy="717.6" r="6.9"/><circle cx="1056.7" cy="717.2" r="6.2"/><circle cx="1057.8" cy="713.8" r="5.6"/><circle cx="1061.8" cy="730.7" r="6.1"/><circle cx="1054.9" cy="719.2" r="7.9"/><circle cx="1057.1" cy="725.2" r="6.3"/><circle cx="1062.6" cy="746.6" r="6.8"/><circle cx="1056.7" cy="739.1" r="5.7"/><circle cx="1061.7" cy="715" r="6.6"/><circle cx="1061.5" cy="731.9" r="5.5"/><circle cx="1071.9" cy="698.7" r="7.9"/><circle cx="1074.1" cy="711" r="6.9"/><circle cx="1072.4" cy="714.4" r="7.5"/><circle cx="1073.3" cy="743.3" r="7.5"/><circle cx="1076.9" cy="729.7" r="4.5"/><circle cx="1077.9" cy="724.9" r="8.4"/><circle cx="1075.4" cy="709" r="5.9"/><circle cx="1075" cy="743.4" r="6.9"/><circle cx="1072.5" cy="745.3" r="7.5"/><circle cx="1071.5" cy="739.9" r="5.8"/><circle cx="1069.6" cy="737.7" r="7"/><circle cx="1074.3" cy="694.9" r="8.1"/><circle cx="1068.4" cy="734.9" r="5.4"/><circle cx="1071" cy="735.3" r="8.2"/><circle cx="1074.9" cy="703.9" r="6.2"/><circle cx="1074.8" cy="697.1" r="7.9"/><circle cx="1076.5" cy="712" r="6.5"/><circle cx="1077.7" cy="699.6" r="5.5"/><circle cx="1068.2" cy="687.7" r="5.4"/><circle cx="1071.4" cy="726.6" r="6.8"/></g>
<path d="M672 823 L674 823 L676.1 823 L678.1 823 L680.1 823 L682.2 823 L684.2 823 L686.2 823 L688.3 823 L690.3 822.9 L692.3 822.9 L694.4 822.9 L696.4 822.9 L698.4 822.9 L700.4 822.9 L702.5 822.9 L704.5 822.8 L706.5 822.8 L708.6 822.8 L710.6 822.8 L712.6 822.8 L714.7 822.7 L716.7 822.7 L718.7 822.7 L720.8 822.7 L722.8 822.7 L724.8 822.6 L726.9 822.6 L728.9 822.6 L730.9 822.6 L733 822.6 L735 822.5 L737 822.5 L739.1 822.5 L741.1 822.4 L743.1 822.4 L745.2 822.4 L747.2 822.4 L749.2 822.3 L751.2 822.3 L753.3 822.3 L755.3 822.2 L757.3 822.2 L759.4 822.2 L761.4 822.1 L763.4 822.1 L765.5 822 L767.5 822 L769.5 822 L771.6 821.9 L773.6 821.9 L775.6 821.8 L777.7 821.8 L779.7 821.7 L781.7 821.7 L783.8 821.6 L785.8 821.6 L787.8 821.5 L789.9 821.5 L791.9 821.4 L793.9 821.4 L796 821.3 L798 821.2 L800 821.2 L802 821.1 L804.1 821 L806.1 821 L808.1 820.9 L810.2 820.8 L812.2 820.7 L814.2 820.7 L816.3 820.6 L818.3 820.5 L820.3 820.4 L822.4 820.3 L824.4 820.2 L826.4 820.1 L828.5 820 L830.5 819.9 L832.5 819.8 L834.6 819.7 L836.6 819.6 L838.6 819.5 L840.7 819.4 L842.7 819.3 L844.7 819.1 L846.8 819 L848.8 818.9 L850.8 818.8 L852.8 818.6 L854.9 818.5 L856.9 818.3 L858.9 818.2 L861 818 L863 817.9 L865 817.7 L867.1 817.5 L869.1 817.4 L871.1 817.2 L873.2 817 L875.2 816.8 L877.2 816.6 L879.3 816.4 L881.3 816.2 L883.3 816 L885.4 815.8 L887.4 815.5 L889.4 815.3 L891.5 815.1 L893.5 814.8 L895.5 814.6 L897.6 814.3 L899.6 814 L901.6 813.7 L903.6 813.5 L905.7 813.2 L907.7 812.9 L909.7 812.5 L911.8 812.2 L913.8 811.9 L915.8 811.5 L917.9 811.2 L919.9 810.8 L921.9 810.5 L924 810.1 L926 809.7 L928 809.3 L930.1 808.8 L932.1 808.4 L934.1 808 L936.2 807.5 L938.2 807 L940.2 806.5 L942.3 806 L944.3 805.5 L946.3 805 L948.4 804.4 L950.4 803.9 L952.4 803.3 L954.4 802.7 L956.5 802.1 L958.5 801.5 L960.5 800.8 L962.6 800.1 L964.6 799.4 L966.6 798.7 L968.7 798 L970.7 797.2 L972.7 796.5 L974.8 795.7 L976.8 794.8 L978.8 794 L980.9 793.1 L982.9 792.2 L984.9 791.3 L987 790.3 L989 789.3 L991 788.3 L993.1 787.3 L995.1 786.2 L997.1 785.1 L999.2 784 L1001.2 782.8 L1003.2 781.6 L1005.2 780.4 L1007.3 779.1 L1009.3 777.8 L1011.3 776.4 L1013.4 775 L1015.4 773.6 L1017.4 772.1 L1019.5 770.6 L1021.5 769 L1023.5 767.4 L1025.6 765.7 L1027.6 764 L1029.6 762.2 L1031.7 760.4 L1033.7 758.5 L1035.7 756.6 L1037.8 754.6 L1039.8 752.6 L1041.8 750.5 L1043.9 748.3 L1045.9 746.1 L1047.9 743.8 L1050 741.4 L1052 738.9 L1054 736.4 L1056 733.9 L1058.1 731.2 L1060.1 728.4 L1062.1 725.6 L1064.2 722.7 L1066.2 719.7 L1068.2 716.6 L1070.3 713.5 L1072.3 710.2 L1074.3 706.8 L1076.4 703.4 L1078.4 699.8" fill="none" stroke="#1e1e1e" stroke-opacity="0.85" stroke-width="5.6" stroke-dasharray="22.9 11.1"/>
<clipPath id="cf"><rect x="1225.8" y="656" width="405.1" height="216.2"/></clipPath>
<g fill="#cccccc" fill-opacity="0.75" stroke="#fff" stroke-opacity="0.35" stroke-width="1.0" clip-path="url(#cf)"><circle cx="1228.3" cy="782.9" r="4.4"/><circle cx="1237.2" cy="820.6" r="4.5"/><circle cx="1247.8" cy="843.6" r="5"/><circle cx="1245.8" cy="834.8" r="5.2"/><circle cx="1240.5" cy="868.4" r="6.9"/><circle cx="1233.1" cy="830.7" r="4.9"/><circle cx="1235.7" cy="813.8" r="6.4"/><circle cx="1247.5" cy="820.7" r="6.9"/><circle cx="1259.2" cy="838.6" r="7.3"/><circle cx="1240.5" cy="841.7" r="7.5"/><circle cx="1232.4" cy="763.6" r="5.2"/><circle cx="1254" cy="844.2" r="6.8"/><circle cx="1246.5" cy="764.4" r="4.9"/><circle cx="1254.6" cy="803.1" r="4.3"/><circle cx="1254.6" cy="794.5" r="5.1"/><circle cx="1241.9" cy="843.1" r="4.6"/><circle cx="1236.9" cy="825.4" r="6"/><circle cx="1231.1" cy="831.1" r="5.4"/><circle cx="1249.1" cy="820.6" r="6.1"/><circle cx="1232.7" cy="857.1" r="3.5"/><circle cx="1226.6" cy="844" r="7.6"/><circle cx="1257.9" cy="852.5" r="6.6"/><circle cx="1244.8" cy="835.9" r="5.5"/><circle cx="1224.3" cy="853.3" r="4.1"/><circle cx="1226.6" cy="856.9" r="5.5"/><circle cx="1237.7" cy="866.9" r="6.3"/><circle cx="1240.6" cy="767" r="5.3"/><circle cx="1230.5" cy="854.4" r="5.9"/><circle cx="1249.5" cy="764.1" r="6.3"/><circle cx="1260.5" cy="859.1" r="4"/><circle cx="1248.7" cy="786.1" r="6.5"/><circle cx="1231.7" cy="808.5" r="4.5"/><circle cx="1252.2" cy="832.1" r="4.3"/><circle cx="1235.9" cy="807.5" r="6.5"/><circle cx="1228.1" cy="827.9" r="6.2"/><circle cx="1227.8" cy="816.4" r="6.6"/><circle cx="1238.6" cy="802.1" r="3.9"/><circle cx="1246.8" cy="775.4" r="4.8"/><circle cx="1253.1" cy="786.3" r="7.1"/><circle cx="1260.2" cy="816.8" r="3.5"/><circle cx="1236.6" cy="855.7" r="3.3"/><circle cx="1253.6" cy="779.3" r="5.4"/><circle cx="1253.2" cy="854" r="3.9"/><circle cx="1226" cy="862.3" r="7"/><circle cx="1232.5" cy="821.7" r="6.9"/><circle cx="1239.5" cy="775" r="7.1"/><circle cx="1251.1" cy="814.3" r="7.9"/><circle cx="1236.3" cy="847.3" r="3.3"/><circle cx="1226.7" cy="805.4" r="6.5"/><circle cx="1237.1" cy="776.3" r="6.4"/><circle cx="1257.4" cy="804.4" r="6.2"/><circle cx="1232.5" cy="764.1" r="6.3"/><circle cx="1242.2" cy="785.4" r="5.7"/><circle cx="1255.4" cy="779" r="3"/><circle cx="1231.3" cy="764" r="5"/><circle cx="1243.3" cy="820.4" r="7.6"/><circle cx="1231.6" cy="801.3" r="7.5"/><circle cx="1252.7" cy="793.4" r="3.5"/><circle cx="1239.9" cy="796" r="5.3"/><circle cx="1248.5" cy="786.6" r="3.9"/><circle cx="1228" cy="849.8" r="5"/><circle cx="1238" cy="807.4" r="6.4"/><circle cx="1228.9" cy="803.5" r="7.7"/><circle cx="1247.3" cy="857.1" r="5.6"/><circle cx="1257.6" cy="856.3" r="5.1"/><circle cx="1229.3" cy="863.6" r="6.6"/><circle cx="1242" cy="828.6" r="6.5"/><circle cx="1234.9" cy="816.6" r="7.3"/><circle cx="1243.6" cy="813.9" r="6.1"/><circle cx="1247.2" cy="790.8" r="3.9"/><circle cx="1254.5" cy="853.3" r="5.7"/><circle cx="1247.9" cy="859.2" r="3.4"/><circle cx="1257.7" cy="814" r="8"/><circle cx="1252.4" cy="815.8" r="7.9"/><circle cx="1225.7" cy="830.9" r="6.2"/><circle cx="1245.5" cy="809.3" r="3.4"/><circle cx="1235.9" cy="771.8" r="6.3"/><circle cx="1247.7" cy="863.4" r="5.4"/><circle cx="1226.8" cy="840" r="7.5"/><circle cx="1241.2" cy="821.9" r="6.4"/><circle cx="1251.8" cy="821.6" r="4.8"/><circle cx="1247.8" cy="763.7" r="3.4"/><circle cx="1241.1" cy="814" r="5.4"/><circle cx="1230.4" cy="774.2" r="6"/><circle cx="1238.2" cy="765.9" r="5.3"/><circle cx="1260.2" cy="780.5" r="3.1"/><circle cx="1248.5" cy="807.2" r="5"/><circle cx="1233.8" cy="798.4" r="5.6"/><circle cx="1233.6" cy="805.6" r="5.3"/><circle cx="1253.9" cy="844.3" r="6.5"/><circle cx="1282.9" cy="817.3" r="6.4"/><circle cx="1297.5" cy="785.4" r="3.3"/><circle cx="1289.7" cy="796.7" r="4.5"/><circle cx="1296.9" cy="784" r="4.7"/><circle cx="1288.4" cy="838.1" r="6.7"/><circle cx="1279" cy="788" r="3.1"/><circle cx="1290.7" cy="818.9" r="6.2"/><circle cx="1283.9" cy="824.4" r="6.8"/><circle cx="1263.4" cy="793.5" r="5"/><circle cx="1298.7" cy="807.3" r="6.1"/><circle cx="1281.6" cy="790.2" r="3.6"/><circle cx="1298" cy="789.8" r="5.6"/><circle cx="1297.3" cy="837.1" r="4.4"/><circle cx="1265.1" cy="839.5" r="6.9"/><circle cx="1279.8" cy="847" r="6"/><circle cx="1287.8" cy="819.4" r="6.9"/><circle cx="1273.6" cy="808.7" r="4.7"/><circle cx="1275.6" cy="847.3" r="4.3"/><circle cx="1280.1" cy="770.1" r="4.3"/><circle cx="1283.9" cy="788.6" r="3.2"/><circle cx="1266.2" cy="808.1" r="5.6"/><circle cx="1276.3" cy="775.8" r="5.8"/><circle cx="1300.6" cy="784.9" r="6.9"/><circle cx="1301.1" cy="796.9" r="6.4"/><circle cx="1264.2" cy="821" r="5.4"/><circle cx="1278.8" cy="860.6" r="5.4"/><circle cx="1274.4" cy="767.7" r="6.8"/><circle cx="1262.4" cy="847.2" r="4.8"/><circle cx="1296.5" cy="785.3" r="5.5"/><circle cx="1273.1" cy="797.6" r="6.7"/><circle cx="1274.4" cy="802.2" r="6.3"/><circle cx="1277.6" cy="805.7" r="7"/><circle cx="1260.7" cy="779.7" r="6.4"/><circle cx="1295.7" cy="800.1" r="4.2"/><circle cx="1276" cy="839.9" r="3.9"/><circle cx="1288.8" cy="845.2" r="5.5"/><circle cx="1274.9" cy="773.2" r="4.7"/><circle cx="1298.6" cy="787.8" r="5.4"/><circle cx="1270.6" cy="821.3" r="3.5"/><circle cx="1274.4" cy="801.7" r="6"/><circle cx="1266.3" cy="832.3" r="4.9"/><circle cx="1297.6" cy="844.7" r="4.6"/><circle cx="1261.3" cy="792.1" r="4.5"/><circle cx="1292.4" cy="768" r="4.1"/><circle cx="1273.5" cy="830.8" r="5.5"/><circle cx="1353.1" cy="793.9" r="6.7"/><circle cx="1304.7" cy="799.7" r="6.6"/><circle cx="1319.4" cy="821.8" r="6.6"/><circle cx="1344.9" cy="798.8" r="3.5"/><circle cx="1315.2" cy="806.7" r="3.5"/><circle cx="1318.4" cy="787" r="4"/><circle cx="1336.5" cy="793.3" r="5.9"/><circle cx="1320.9" cy="819" r="4.4"/><circle cx="1316.5" cy="810.7" r="6.9"/><circle cx="1335.6" cy="799.8" r="4.2"/><circle cx="1345.9" cy="802.4" r="3.2"/><circle cx="1335.5" cy="835.2" r="3.7"/><circle cx="1320.8" cy="807.8" r="3.7"/><circle cx="1308.5" cy="814.3" r="3.8"/><circle cx="1306.6" cy="839" r="5.5"/><circle cx="1331.2" cy="828.9" r="6.6"/><circle cx="1306.5" cy="826.4" r="3.4"/><circle cx="1339.9" cy="809.9" r="3.6"/><circle cx="1329.5" cy="839.3" r="3.2"/><circle cx="1305.4" cy="816" r="3.3"/><circle cx="1339.6" cy="798" r="6.7"/><circle cx="1306.7" cy="841.3" r="3.6"/><circle cx="1350.7" cy="813.4" r="6.6"/><circle cx="1324" cy="834.9" r="5.7"/><circle cx="1351.9" cy="802.1" r="4.6"/><circle cx="1316.4" cy="818.6" r="6.3"/><circle cx="1327" cy="812" r="5.6"/><circle cx="1343.8" cy="821.9" r="5.1"/><circle cx="1348.2" cy="803.4" r="6.5"/><circle cx="1312.1" cy="814.9" r="4.7"/><circle cx="1326.6" cy="791.8" r="4.3"/><circle cx="1346.2" cy="767" r="5.7"/><circle cx="1313.1" cy="836.2" r="5.7"/><circle cx="1353.5" cy="814.7" r="5.2"/><circle cx="1303.7" cy="810.8" r="4.1"/><circle cx="1395.2" cy="806" r="5.9"/><circle cx="1361.6" cy="823.7" r="3.9"/><circle cx="1360.6" cy="798.7" r="3.2"/><circle cx="1381.9" cy="812.3" r="4.7"/><circle cx="1361.6" cy="806.9" r="5.4"/><circle cx="1357.4" cy="804.7" r="5.3"/><circle cx="1388" cy="795" r="3.3"/><circle cx="1357.8" cy="824.5" r="6.6"/><circle cx="1365.6" cy="784.4" r="3.5"/><circle cx="1368" cy="811.2" r="4.2"/><circle cx="1394.2" cy="794.3" r="4.4"/><circle cx="1391.2" cy="808.8" r="5.2"/><circle cx="1378.8" cy="793.8" r="5.3"/><circle cx="1376.3" cy="796.9" r="5.1"/><circle cx="1376.9" cy="809.5" r="3.4"/><circle cx="1388.4" cy="814.8" r="6.9"/><circle cx="1369.8" cy="810.1" r="5.2"/><circle cx="1356.1" cy="794.7" r="6.1"/><circle cx="1375.7" cy="805.6" r="6.1"/><circle cx="1367.7" cy="807.5" r="6.9"/><circle cx="1395.9" cy="801.2" r="3.1"/><circle cx="1375.8" cy="816.7" r="6.3"/><circle cx="1369.9" cy="805.9" r="5.9"/><circle cx="1367" cy="797.4" r="3.5"/><circle cx="1376.2" cy="816.3" r="3.7"/><circle cx="1455" cy="798.2" r="4"/><circle cx="1454.9" cy="781.4" r="5"/><circle cx="1451.3" cy="767.6" r="6.6"/><circle cx="1457.7" cy="789.2" r="5.7"/><circle cx="1438.1" cy="772.8" r="3"/><circle cx="1454.8" cy="775.4" r="4.1"/><circle cx="1478.1" cy="767.6" r="6.5"/><circle cx="1469.6" cy="798.8" r="3.6"/><circle cx="1483.6" cy="759.6" r="4.1"/><circle cx="1480.4" cy="773.9" r="5.6"/><circle cx="1469.7" cy="784.9" r="3"/><circle cx="1442.6" cy="780.8" r="5.3"/><circle cx="1482.8" cy="781.6" r="3.9"/><circle cx="1476.5" cy="768.9" r="3.5"/><circle cx="1484.1" cy="775.9" r="6.7"/><circle cx="1471.7" cy="781.4" r="4.4"/><circle cx="1439.2" cy="786.2" r="7"/><circle cx="1487.7" cy="767.6" r="3.2"/><circle cx="1462.3" cy="765.1" r="5.4"/><circle cx="1466.3" cy="800.2" r="4.3"/><circle cx="1447.3" cy="787.5" r="5.3"/><circle cx="1439.1" cy="795.7" r="5"/><circle cx="1483" cy="774.4" r="5.7"/><circle cx="1449.5" cy="786.2" r="6.7"/><circle cx="1445.4" cy="770.3" r="6.3"/><circle cx="1481.2" cy="788.5" r="6.5"/><circle cx="1448.4" cy="787.2" r="5.1"/><circle cx="1465.7" cy="771.1" r="3.1"/><circle cx="1469.4" cy="765.4" r="4.8"/><circle cx="1486.9" cy="778.5" r="5.8"/><circle cx="1524.4" cy="738.4" r="7.4"/><circle cx="1535.4" cy="722.1" r="7.2"/><circle cx="1530.9" cy="706.5" r="6.5"/><circle cx="1495.2" cy="783.3" r="5.5"/><circle cx="1498" cy="816.1" r="7.2"/><circle cx="1502.8" cy="717.7" r="4.4"/><circle cx="1497.4" cy="706.4" r="7.3"/><circle cx="1525.6" cy="716.4" r="5.3"/><circle cx="1492.6" cy="695.2" r="5.1"/><circle cx="1530.8" cy="748.3" r="3.5"/><circle cx="1506.2" cy="754.6" r="6.6"/><circle cx="1523.9" cy="754.7" r="5.5"/><circle cx="1528.5" cy="710.7" r="3.7"/><circle cx="1534.1" cy="731" r="7.8"/><circle cx="1526.8" cy="737" r="6.7"/><circle cx="1502.9" cy="741" r="3"/><circle cx="1517.9" cy="745.1" r="6.9"/><circle cx="1529.4" cy="747.6" r="3"/><circle cx="1516.1" cy="741.6" r="4.3"/><circle cx="1499.5" cy="751.8" r="7.2"/><circle cx="1505.4" cy="754.9" r="5.5"/><circle cx="1496.7" cy="752.4" r="7.5"/><circle cx="1530.6" cy="760.8" r="6"/><circle cx="1493.3" cy="797.6" r="4"/><circle cx="1536.1" cy="722.2" r="7"/><circle cx="1530.4" cy="748.3" r="5.5"/><circle cx="1503.4" cy="742.9" r="5.7"/><circle cx="1508.8" cy="749.1" r="3.1"/><circle cx="1499.3" cy="720.1" r="4.1"/><circle cx="1506.8" cy="733.8" r="4"/><circle cx="1495" cy="724.2" r="7"/><circle cx="1512.2" cy="759.4" r="3.4"/><circle cx="1508" cy="745.8" r="6.7"/><circle cx="1525.2" cy="727.9" r="6.5"/><circle cx="1532.1" cy="765.8" r="4.4"/><circle cx="1518.1" cy="715.3" r="5.6"/><circle cx="1528.6" cy="718.3" r="6"/><circle cx="1499.2" cy="769.1" r="8"/><circle cx="1512.9" cy="793.1" r="6.5"/><circle cx="1514.8" cy="713.9" r="6.4"/><circle cx="1526.5" cy="763" r="7.7"/><circle cx="1490.8" cy="748.2" r="3.9"/><circle cx="1535.8" cy="747.6" r="3.7"/><circle cx="1489.6" cy="749.1" r="5"/><circle cx="1492.5" cy="760.7" r="7"/><circle cx="1560.5" cy="690.1" r="7"/><circle cx="1599.3" cy="719.1" r="3.3"/><circle cx="1557.5" cy="734.1" r="3.1"/><circle cx="1602.1" cy="715.7" r="6.3"/><circle cx="1596.7" cy="744.7" r="3.5"/><circle cx="1580.9" cy="756.3" r="5"/><circle cx="1575.4" cy="763.7" r="5.9"/><circle cx="1546.2" cy="793.5" r="5.9"/><circle cx="1540.7" cy="749.1" r="6.5"/><circle cx="1563.5" cy="733.3" r="7.7"/><circle cx="1579.1" cy="763" r="6.8"/><circle cx="1577.7" cy="705.3" r="7.4"/><circle cx="1590.5" cy="701.8" r="7.5"/><circle cx="1567.4" cy="760.4" r="4.6"/><circle cx="1562.9" cy="711.2" r="4.3"/><circle cx="1582.6" cy="714.7" r="8"/><circle cx="1571" cy="723.2" r="6.3"/><circle cx="1545.1" cy="731.3" r="5.8"/><circle cx="1591.4" cy="699.4" r="6.3"/><circle cx="1542.6" cy="734.9" r="3.9"/><circle cx="1577.9" cy="742.5" r="3.5"/><circle cx="1557.3" cy="756" r="4.7"/><circle cx="1578.5" cy="723.5" r="3.3"/><circle cx="1551.9" cy="738.3" r="5.8"/><circle cx="1585.3" cy="767.2" r="3.1"/><circle cx="1558.9" cy="705.6" r="4.1"/><circle cx="1584" cy="758.7" r="5"/><circle cx="1588.5" cy="739.3" r="6.6"/><circle cx="1585.8" cy="678.3" r="4"/><circle cx="1604.3" cy="709.9" r="4.6"/><circle cx="1567.4" cy="697.4" r="7.2"/><circle cx="1567.4" cy="726.8" r="7.5"/><circle cx="1566.6" cy="702.3" r="5.3"/><circle cx="1562.5" cy="724.8" r="6"/><circle cx="1540.4" cy="743.6" r="6.8"/><circle cx="1603.1" cy="734.2" r="6.7"/><circle cx="1560.7" cy="732.5" r="3.6"/><circle cx="1592.7" cy="732.8" r="7.2"/><circle cx="1600.8" cy="650.2" r="5.2"/><circle cx="1571.3" cy="748.1" r="4.6"/><circle cx="1594.1" cy="725.5" r="4.1"/><circle cx="1574.5" cy="741.6" r="4.5"/><circle cx="1573.6" cy="741.2" r="5.8"/><circle cx="1601.1" cy="712.2" r="5.4"/><circle cx="1574.2" cy="706.6" r="5.7"/><circle cx="1545.7" cy="788.7" r="3.5"/><circle cx="1584.5" cy="743.4" r="8"/><circle cx="1581.3" cy="763.6" r="6.6"/><circle cx="1556.1" cy="730.3" r="4.9"/><circle cx="1551.8" cy="780.9" r="5"/><circle cx="1597.3" cy="764.1" r="7.2"/><circle cx="1560.4" cy="745.2" r="3.7"/><circle cx="1590.9" cy="697" r="3.5"/><circle cx="1594.5" cy="739.3" r="4.2"/><circle cx="1597" cy="762.2" r="5.5"/><circle cx="1600.3" cy="700.2" r="6"/><circle cx="1584.6" cy="736.3" r="6"/><circle cx="1573.6" cy="727.5" r="4.2"/><circle cx="1553" cy="737.7" r="6.3"/><circle cx="1559.3" cy="752.1" r="5.1"/><circle cx="1604" cy="833.3" r="3.6"/><circle cx="1610.7" cy="829.5" r="3"/><circle cx="1619.9" cy="817.2" r="4.2"/><circle cx="1618.6" cy="807.3" r="4.5"/><circle cx="1613.8" cy="803.6" r="4.7"/><circle cx="1613.9" cy="799.4" r="4.1"/><circle cx="1628.6" cy="758.9" r="6.9"/><circle cx="1629.8" cy="725.7" r="3.5"/><circle cx="1621" cy="745.1" r="5.2"/><circle cx="1626.4" cy="750.8" r="3.6"/><circle cx="1626" cy="770.5" r="6.8"/><circle cx="1628.3" cy="752.3" r="4.7"/><circle cx="1627.9" cy="738.6" r="3.8"/><circle cx="1629.6" cy="765.6" r="4.8"/><circle cx="1620.6" cy="751.2" r="3.8"/><circle cx="1623.4" cy="716.5" r="4.1"/><circle cx="1629.9" cy="713.8" r="5.7"/><circle cx="1625.5" cy="721.4" r="3.6"/><circle cx="1622.9" cy="763" r="5.9"/><circle cx="1621" cy="776.4" r="3.9"/><circle cx="1626.2" cy="740.1" r="5.1"/><circle cx="1629.4" cy="719.1" r="6.3"/><circle cx="1627.9" cy="766.3" r="5.6"/><circle cx="1627.7" cy="759.3" r="4"/><circle cx="1625.5" cy="771.1" r="6.9"/><circle cx="1621.4" cy="758.1" r="6.5"/><circle cx="1626.6" cy="713.2" r="3.2"/><circle cx="1627.4" cy="744.7" r="4.8"/><circle cx="1625.7" cy="723.5" r="4.1"/><circle cx="1623" cy="768.2" r="4.1"/><circle cx="1621" cy="780.5" r="6.8"/><circle cx="1623.3" cy="753.6" r="3.2"/><circle cx="1628.3" cy="745.7" r="4.4"/><circle cx="1625.7" cy="780.6" r="3.5"/><circle cx="1623.7" cy="727.7" r="6.1"/><circle cx="1623.9" cy="760.2" r="3.5"/><circle cx="1622.1" cy="781" r="6.7"/><circle cx="1622" cy="773.4" r="3.3"/><circle cx="1629.8" cy="723.5" r="5.4"/><circle cx="1627.8" cy="766.8" r="5.4"/><circle cx="1626.1" cy="777.9" r="4.5"/><circle cx="1627.1" cy="732.2" r="5.8"/><circle cx="1623.8" cy="729.3" r="4.8"/><circle cx="1625.2" cy="739.1" r="3.7"/><circle cx="1627.3" cy="746.3" r="6.3"/><circle cx="1625.1" cy="750" r="6.3"/></g>
<g fill="#16191e" fill-opacity="0.84" stroke="#fff" stroke-opacity="0.5" stroke-width="1.1" clip-path="url(#cf)"><circle cx="1228.2" cy="844.8" r="5"/><circle cx="1253.8" cy="832.2" r="5.4"/><circle cx="1251.8" cy="850.4" r="5.1"/><circle cx="1234.8" cy="837.5" r="7.6"/><circle cx="1244.1" cy="855.1" r="7.9"/><circle cx="1224.2" cy="824.6" r="7.8"/><circle cx="1234.7" cy="843.1" r="8.2"/><circle cx="1255.4" cy="839" r="8"/><circle cx="1244.3" cy="848.3" r="6.1"/><circle cx="1249.7" cy="816.4" r="7.2"/><circle cx="1245.6" cy="832.6" r="4.5"/><circle cx="1232.7" cy="841.7" r="8.2"/><circle cx="1238.2" cy="838" r="5.4"/><circle cx="1247.9" cy="830.3" r="7.6"/><circle cx="1242.8" cy="845.8" r="4.7"/><circle cx="1232" cy="851" r="7.7"/><circle cx="1244.9" cy="846.4" r="8.6"/><circle cx="1241.1" cy="826.7" r="4.1"/><circle cx="1228.3" cy="843.6" r="7.2"/><circle cx="1237" cy="833.4" r="7.1"/><circle cx="1239.8" cy="827.8" r="7.9"/><circle cx="1228.8" cy="835" r="7.8"/><circle cx="1250.6" cy="812.9" r="7.6"/><circle cx="1259.9" cy="844.4" r="8.1"/><circle cx="1234.3" cy="842.1" r="7.4"/><circle cx="1232.8" cy="836.9" r="7.7"/><circle cx="1224.6" cy="840" r="8.3"/><circle cx="1257.3" cy="827" r="4.1"/><circle cx="1255.7" cy="826" r="8.2"/><circle cx="1252.6" cy="829" r="5.1"/><circle cx="1234.9" cy="833.3" r="7.7"/><circle cx="1258.3" cy="836" r="8.5"/><circle cx="1253.1" cy="832.6" r="5.8"/><circle cx="1231.9" cy="830.3" r="5.1"/><circle cx="1245.8" cy="849.4" r="4.8"/><circle cx="1250.8" cy="834.8" r="5.3"/><circle cx="1239.6" cy="842.5" r="5.6"/><circle cx="1257.9" cy="831.8" r="4.9"/><circle cx="1237" cy="840.1" r="6"/><circle cx="1231.9" cy="850.3" r="7.8"/><circle cx="1249.9" cy="823.5" r="4"/><circle cx="1242.5" cy="844.9" r="4.3"/><circle cx="1254.7" cy="823.5" r="5.9"/><circle cx="1233.8" cy="834.8" r="7.5"/><circle cx="1253" cy="836.9" r="4.7"/><circle cx="1274.8" cy="829.4" r="6.1"/><circle cx="1307.8" cy="823.1" r="7.9"/><circle cx="1289.1" cy="809.8" r="6.8"/><circle cx="1329.8" cy="815.2" r="5.6"/><circle cx="1279" cy="820.7" r="6.7"/><circle cx="1353.5" cy="808.4" r="6"/><circle cx="1264.3" cy="824.6" r="5.3"/><circle cx="1309.8" cy="817.7" r="7.6"/><circle cx="1260.6" cy="831.7" r="4.8"/><circle cx="1296.1" cy="817.4" r="6.9"/><circle cx="1280.9" cy="822.1" r="6.4"/><circle cx="1316.2" cy="810.8" r="7.8"/><circle cx="1330.3" cy="811.8" r="5.4"/><circle cx="1296.3" cy="814.9" r="8.2"/><circle cx="1344" cy="808.4" r="6.9"/><circle cx="1354.1" cy="818.2" r="5.1"/><circle cx="1338" cy="809.5" r="4.9"/><circle cx="1265.9" cy="825.9" r="8.2"/><circle cx="1325.2" cy="811.6" r="6.6"/><circle cx="1285.5" cy="826.1" r="6.6"/><circle cx="1297.5" cy="827.4" r="7.3"/><circle cx="1344.5" cy="813.3" r="6.5"/><circle cx="1353.7" cy="818.8" r="8.5"/><circle cx="1345.5" cy="820" r="4.4"/><circle cx="1260.8" cy="812" r="5.1"/><circle cx="1315.1" cy="823.6" r="8.2"/><circle cx="1288.8" cy="826.3" r="5.8"/><circle cx="1272.4" cy="819.1" r="5.3"/><circle cx="1280.8" cy="820.1" r="4.4"/><circle cx="1330.1" cy="812.8" r="7.2"/><circle cx="1283.6" cy="812.8" r="6.4"/><circle cx="1294.1" cy="808.7" r="6.5"/><circle cx="1279.3" cy="819.7" r="7.5"/><circle cx="1313.8" cy="818.3" r="5.1"/><circle cx="1313.3" cy="806.4" r="6.6"/><circle cx="1363.8" cy="803.8" r="4.7"/><circle cx="1363.1" cy="798.6" r="4.9"/><circle cx="1389" cy="795.8" r="9"/><circle cx="1376.9" cy="795.4" r="7.2"/><circle cx="1360.3" cy="808.7" r="5.1"/><circle cx="1366.5" cy="797.6" r="7.7"/><circle cx="1389.1" cy="798.6" r="10"/><circle cx="1372.6" cy="801.2" r="4"/><circle cx="1374.6" cy="799.6" r="4.7"/><circle cx="1367" cy="801.7" r="5.4"/><circle cx="1379.1" cy="795.2" r="9"/><circle cx="1366.4" cy="806.1" r="8.4"/><circle cx="1395.2" cy="795.3" r="8.4"/><circle cx="1365.4" cy="807.1" r="8.4"/><circle cx="1376.8" cy="796.5" r="10"/><circle cx="1370.1" cy="798.3" r="5"/><circle cx="1390.2" cy="799.5" r="5.4"/><circle cx="1373.6" cy="802.3" r="4.5"/><circle cx="1362.6" cy="802.5" r="5.5"/><circle cx="1371.1" cy="799" r="7.9"/><circle cx="1491.8" cy="772.6" r="8.7"/><circle cx="1497.4" cy="772.8" r="8.2"/><circle cx="1500.3" cy="774.6" r="4.4"/><circle cx="1482.8" cy="772.5" r="9.4"/><circle cx="1451.7" cy="779.3" r="4.5"/><circle cx="1525.2" cy="750.1" r="4.3"/><circle cx="1457.1" cy="779.4" r="9.5"/><circle cx="1460.5" cy="787.5" r="9.1"/><circle cx="1466.5" cy="780.9" r="6.3"/><circle cx="1503.9" cy="774.5" r="4.7"/><circle cx="1491.5" cy="766.9" r="7.2"/><circle cx="1446.3" cy="794.8" r="8.1"/><circle cx="1507.1" cy="765.8" r="7.9"/><circle cx="1494.3" cy="769.3" r="9.1"/><circle cx="1475.2" cy="774" r="6.8"/><circle cx="1453.2" cy="778.1" r="7.4"/><circle cx="1492.6" cy="754.9" r="8.6"/><circle cx="1499.3" cy="762.7" r="4.6"/><circle cx="1518.7" cy="770.7" r="9.2"/><circle cx="1461.6" cy="786" r="5.6"/><circle cx="1502.4" cy="759.4" r="8.8"/><circle cx="1525.1" cy="758.8" r="6.6"/><circle cx="1488.4" cy="780" r="6.2"/><circle cx="1509.8" cy="766.1" r="7.7"/><circle cx="1499.3" cy="765.8" r="6.3"/><circle cx="1488.3" cy="758.8" r="6.8"/><circle cx="1445.8" cy="783.8" r="5.9"/><circle cx="1501.8" cy="766.5" r="5.8"/><circle cx="1454.4" cy="789.9" r="4.1"/><circle cx="1525.6" cy="769.6" r="7.9"/><circle cx="1556.9" cy="752.2" r="6.3"/><circle cx="1606.5" cy="719.6" r="7.2"/><circle cx="1621.4" cy="736.4" r="6.6"/><circle cx="1591.8" cy="736.5" r="8.8"/><circle cx="1551.2" cy="740.8" r="9.7"/><circle cx="1584.9" cy="747.7" r="7.5"/><circle cx="1594.5" cy="731.3" r="5.3"/><circle cx="1579.9" cy="745.1" r="6.3"/><circle cx="1603" cy="723.7" r="7.8"/><circle cx="1590.5" cy="728.2" r="4.9"/><circle cx="1549.9" cy="743.6" r="5.2"/><circle cx="1618.5" cy="711.7" r="7.4"/><circle cx="1586.9" cy="733.4" r="8.9"/><circle cx="1591.1" cy="739.7" r="7.9"/><circle cx="1619.8" cy="726.1" r="8.7"/><circle cx="1588.2" cy="746.7" r="7.7"/><circle cx="1577.4" cy="749.7" r="9.9"/><circle cx="1586.9" cy="749.2" r="6.8"/><circle cx="1601" cy="731.2" r="7.1"/><circle cx="1548.2" cy="739.4" r="4.1"/><circle cx="1596.1" cy="728.7" r="4.8"/><circle cx="1593.7" cy="731.7" r="9.8"/><circle cx="1603.5" cy="720.6" r="9.4"/><circle cx="1590" cy="728.7" r="7.4"/><circle cx="1550.2" cy="760.1" r="7.2"/><circle cx="1559.9" cy="754" r="4.1"/><circle cx="1570.6" cy="738.1" r="4.2"/><circle cx="1589.7" cy="724.5" r="5.8"/><circle cx="1532.9" cy="762.1" r="6.8"/><circle cx="1598.4" cy="719.5" r="9.8"/><circle cx="1621.4" cy="730.4" r="7.1"/><circle cx="1620.7" cy="727.1" r="8.3"/><circle cx="1563.5" cy="740.9" r="7.4"/><circle cx="1588.6" cy="728" r="5.1"/><circle cx="1541.4" cy="761.2" r="4.8"/><circle cx="1579.9" cy="734.2" r="7"/><circle cx="1584.3" cy="731.1" r="7.3"/><circle cx="1559" cy="756.8" r="7.4"/><circle cx="1548.1" cy="759.6" r="8.1"/><circle cx="1614.5" cy="716.1" r="8.8"/><circle cx="1616.8" cy="719.3" r="5.9"/><circle cx="1611.5" cy="724.8" r="7"/><circle cx="1587.6" cy="735.9" r="4.6"/><circle cx="1557.8" cy="745.5" r="6.9"/><circle cx="1601.8" cy="725.1" r="8"/></g>
<path d="M1224 826.7 L1226 826.5 L1228.1 826.2 L1230.1 825.9 L1232.1 825.7 L1234.2 825.4 L1236.2 825.1 L1238.2 824.8 L1240.3 824.5 L1242.3 824.3 L1244.3 824 L1246.4 823.7 L1248.4 823.4 L1250.4 823.1 L1252.4 822.8 L1254.5 822.5 L1256.5 822.2 L1258.5 821.9 L1260.6 821.6 L1262.6 821.3 L1264.6 821 L1266.7 820.7 L1268.7 820.4 L1270.7 820.1 L1272.8 819.8 L1274.8 819.5 L1276.8 819.2 L1278.9 818.8 L1280.9 818.5 L1282.9 818.2 L1285 817.9 L1287 817.5 L1289 817.2 L1291.1 816.9 L1293.1 816.5 L1295.1 816.2 L1297.2 815.9 L1299.2 815.5 L1301.2 815.2 L1303.2 814.8 L1305.3 814.5 L1307.3 814.1 L1309.3 813.8 L1311.4 813.4 L1313.4 813.1 L1315.4 812.7 L1317.5 812.4 L1319.5 812 L1321.5 811.6 L1323.6 811.3 L1325.6 810.9 L1327.6 810.5 L1329.7 810.1 L1331.7 809.8 L1333.7 809.4 L1335.8 809 L1337.8 808.6 L1339.8 808.2 L1341.9 807.8 L1343.9 807.4 L1345.9 807 L1348 806.6 L1350 806.2 L1352 805.8 L1354 805.4 L1356.1 805 L1358.1 804.6 L1360.1 804.2 L1362.2 803.8 L1364.2 803.3 L1366.2 802.9 L1368.3 802.5 L1370.3 802.1 L1372.3 801.6 L1374.4 801.2 L1376.4 800.8 L1378.4 800.3 L1380.5 799.9 L1382.5 799.4 L1384.5 799 L1386.6 798.5 L1388.6 798.1 L1390.6 797.6 L1392.7 797.1 L1394.7 796.7 L1396.7 796.2 L1398.8 795.7 L1400.8 795.3 L1402.8 794.8 L1404.8 794.3 L1406.9 793.8 L1408.9 793.3 L1410.9 792.8 L1413 792.3 L1415 791.9 L1417 791.4 L1419.1 790.8 L1421.1 790.3 L1423.1 789.8 L1425.2 789.3 L1427.2 788.8 L1429.2 788.3 L1431.3 787.8 L1433.3 787.2 L1435.3 786.7 L1437.4 786.2 L1439.4 785.6 L1441.4 785.1 L1443.5 784.5 L1445.5 784 L1447.5 783.4 L1449.6 782.9 L1451.6 782.3 L1453.6 781.8 L1455.6 781.2 L1457.7 780.6 L1459.7 780 L1461.7 779.5 L1463.8 778.9 L1465.8 778.3 L1467.8 777.7 L1469.9 777.1 L1471.9 776.5 L1473.9 775.9 L1476 775.3 L1478 774.7 L1480 774.1 L1482.1 773.5 L1484.1 772.8 L1486.1 772.2 L1488.2 771.6 L1490.2 770.9 L1492.2 770.3 L1494.3 769.7 L1496.3 769 L1498.3 768.4 L1500.4 767.7 L1502.4 767 L1504.4 766.4 L1506.4 765.7 L1508.5 765 L1510.5 764.3 L1512.5 763.7 L1514.6 763 L1516.6 762.3 L1518.6 761.6 L1520.7 760.9 L1522.7 760.2 L1524.7 759.5 L1526.8 758.8 L1528.8 758 L1530.8 757.3 L1532.9 756.6 L1534.9 755.8 L1536.9 755.1 L1539 754.4 L1541 753.6 L1543 752.9 L1545.1 752.1 L1547.1 751.3 L1549.1 750.6 L1551.2 749.8 L1553.2 749 L1555.2 748.2 L1557.2 747.4 L1559.3 746.6 L1561.3 745.8 L1563.3 745 L1565.4 744.2 L1567.4 743.4 L1569.4 742.6 L1571.5 741.7 L1573.5 740.9 L1575.5 740.1 L1577.6 739.2 L1579.6 738.4 L1581.6 737.5 L1583.7 736.7 L1585.7 735.8 L1587.7 734.9 L1589.8 734 L1591.8 733.1 L1593.8 732.3 L1595.9 731.4 L1597.9 730.5 L1599.9 729.5 L1602 728.6 L1604 727.7 L1606 726.8 L1608 725.9 L1610.1 724.9 L1612.1 724 L1614.1 723 L1616.2 722.1 L1618.2 721.1 L1620.2 720.1 L1622.3 719.1 L1624.3 718.2 L1626.3 717.2 L1628.4 716.2 L1630.4 715.2" fill="none" stroke="#1e1e1e" stroke-opacity="0.85" stroke-width="5.6" stroke-dasharray="22.9 11.1"/>
<clipPath id="cg"><rect x="1755.8" y="656" width="406.7" height="216.2"/></clipPath>
<g fill="#cccccc" fill-opacity="0.75" stroke="#fff" stroke-opacity="0.35" stroke-width="1.0" clip-path="url(#cg)"><circle cx="1757.3" cy="840.7" r="4.1"/><circle cx="1775.5" cy="840.1" r="5.4"/><circle cx="1774.1" cy="775.9" r="5"/><circle cx="1759.1" cy="836.5" r="3.2"/><circle cx="1771.7" cy="799.4" r="6.3"/><circle cx="1778.2" cy="750.1" r="5.2"/><circle cx="1755.5" cy="781.9" r="4.6"/><circle cx="1769.8" cy="812.7" r="3.6"/><circle cx="1756" cy="848.4" r="5.9"/><circle cx="1769.2" cy="752.9" r="5.4"/><circle cx="1770.8" cy="766.1" r="3.8"/><circle cx="1766" cy="846.3" r="3.2"/><circle cx="1766.9" cy="803.3" r="4.7"/><circle cx="1776.1" cy="856.8" r="3"/><circle cx="1760.4" cy="767.5" r="3.4"/><circle cx="1756.5" cy="804.5" r="4.5"/><circle cx="1774.7" cy="834.8" r="5"/><circle cx="1759.6" cy="775.4" r="3.1"/><circle cx="1763.2" cy="827.2" r="3.5"/><circle cx="1765" cy="746.9" r="3.3"/><circle cx="1771.4" cy="863.9" r="5.7"/><circle cx="1756.9" cy="812.6" r="3.9"/><circle cx="1758.6" cy="799.7" r="3.8"/><circle cx="1773.5" cy="806.5" r="3.2"/><circle cx="1767.5" cy="756.6" r="3.5"/><circle cx="1777.7" cy="861.5" r="3.8"/><circle cx="1773.2" cy="844.6" r="6.4"/><circle cx="1760.2" cy="749.6" r="5.3"/><circle cx="1764.8" cy="823.1" r="4.2"/><circle cx="1759.4" cy="841.8" r="5.9"/><circle cx="1766.4" cy="767.6" r="4.1"/><circle cx="1777.4" cy="811.8" r="5.5"/><circle cx="1774.5" cy="788.1" r="5.5"/><circle cx="1758.3" cy="788.9" r="4.2"/><circle cx="1760.2" cy="758.7" r="5.7"/><circle cx="1768.2" cy="744.5" r="4"/><circle cx="1756.9" cy="759.6" r="3"/><circle cx="1760.5" cy="790.5" r="5.4"/><circle cx="1754.9" cy="802.1" r="4.2"/><circle cx="1766.8" cy="786.8" r="5.4"/><circle cx="1762.9" cy="781" r="4.9"/><circle cx="1764" cy="863.2" r="5.2"/><circle cx="1756.7" cy="764.8" r="3.1"/><circle cx="1769.1" cy="802.2" r="5"/><circle cx="1756.9" cy="754" r="5"/><circle cx="1768.9" cy="768.6" r="5.1"/><circle cx="1754.7" cy="826.2" r="4.3"/><circle cx="1761.3" cy="800.3" r="5.1"/><circle cx="1766.5" cy="795.8" r="3.5"/><circle cx="1754.8" cy="813" r="3.8"/><circle cx="1778.1" cy="844" r="6.3"/><circle cx="1760.2" cy="821.3" r="3.8"/><circle cx="1777" cy="836.7" r="4.6"/><circle cx="1770.8" cy="808" r="4.3"/><circle cx="1757.6" cy="866" r="5.4"/><circle cx="1777.2" cy="829.6" r="5.9"/><circle cx="1766.1" cy="737.8" r="6.4"/><circle cx="1759.4" cy="866.6" r="5.3"/><circle cx="1754.4" cy="831.7" r="5.4"/><circle cx="1770.3" cy="787.1" r="4.8"/><circle cx="1828.9" cy="811.2" r="6.1"/><circle cx="1839.5" cy="793.8" r="4"/><circle cx="1782.9" cy="843.5" r="3.5"/><circle cx="1843.6" cy="839.8" r="5.1"/><circle cx="1783.8" cy="789.4" r="4.7"/><circle cx="1793.8" cy="800.9" r="3.2"/><circle cx="1789.4" cy="818.1" r="4.6"/><circle cx="1779.1" cy="819.9" r="3.5"/><circle cx="1830.7" cy="808.1" r="3.8"/><circle cx="1794.8" cy="814.9" r="5.5"/><circle cx="1818.2" cy="835.8" r="4.5"/><circle cx="1784.3" cy="850.5" r="3.9"/><circle cx="1835.7" cy="787.9" r="6.1"/><circle cx="1789.7" cy="786.1" r="4.7"/><circle cx="1844.6" cy="795.8" r="5.8"/><circle cx="1804" cy="781.6" r="4.2"/><circle cx="1844.5" cy="832.6" r="3.1"/><circle cx="1838.1" cy="778.6" r="4.6"/><circle cx="1822.6" cy="791.3" r="6.4"/><circle cx="1786.9" cy="757.9" r="5"/><circle cx="1797.3" cy="839" r="6.2"/><circle cx="1830.9" cy="815.9" r="6.1"/><circle cx="1841.3" cy="827.5" r="3.6"/><circle cx="1799.1" cy="784.6" r="3"/><circle cx="1829.9" cy="808.1" r="5.1"/><circle cx="1795.9" cy="826" r="3.4"/><circle cx="1798.1" cy="789.8" r="3.1"/><circle cx="1778.9" cy="846.3" r="4.3"/><circle cx="1784.7" cy="820.5" r="3.2"/><circle cx="1810.2" cy="806" r="3.5"/><circle cx="1796.2" cy="807.7" r="6.4"/><circle cx="1778.7" cy="836.5" r="5.8"/><circle cx="1807.7" cy="827.6" r="4.7"/><circle cx="1788.8" cy="802.8" r="3.9"/><circle cx="1801.2" cy="815.7" r="3.8"/><circle cx="1787.9" cy="794.2" r="4.9"/><circle cx="1838.6" cy="777.3" r="4.5"/><circle cx="1819" cy="816.3" r="5.6"/><circle cx="1818" cy="790.1" r="5.4"/><circle cx="1815.6" cy="828.5" r="3.4"/><circle cx="1846" cy="800.1" r="4.5"/><circle cx="1850.1" cy="815.4" r="3.9"/><circle cx="1850.3" cy="783.6" r="4.8"/><circle cx="1862" cy="823.8" r="6.2"/><circle cx="1859.3" cy="823.2" r="5.7"/><circle cx="1860.7" cy="820.5" r="5.8"/><circle cx="1858.3" cy="836" r="3.9"/><circle cx="1852.3" cy="788.9" r="3.3"/><circle cx="1854.5" cy="806.5" r="6.4"/><circle cx="1858.7" cy="777.8" r="5"/><circle cx="1851.9" cy="798.9" r="5.9"/><circle cx="1865.8" cy="809" r="3.9"/><circle cx="1853.8" cy="806.5" r="5.4"/><circle cx="1847.3" cy="811.9" r="5.7"/><circle cx="1876.3" cy="791.3" r="3.5"/><circle cx="1850.4" cy="800.5" r="4.5"/><circle cx="1848.6" cy="816.9" r="5.8"/><circle cx="1861.9" cy="826.2" r="3.4"/><circle cx="1846.2" cy="816.9" r="5.6"/><circle cx="1846.8" cy="831.9" r="5"/><circle cx="1924.4" cy="787.3" r="6.1"/><circle cx="1934.5" cy="785.6" r="5.9"/><circle cx="1921.9" cy="784.6" r="5.1"/><circle cx="1911.7" cy="797.3" r="5.9"/><circle cx="1913.7" cy="784.5" r="4.6"/><circle cx="1916.1" cy="774.6" r="5.3"/><circle cx="1928" cy="779.6" r="3.7"/><circle cx="1925.9" cy="795.2" r="4.2"/><circle cx="1919.7" cy="805.3" r="3.8"/><circle cx="1912.1" cy="804.7" r="5.7"/><circle cx="1937.3" cy="779.4" r="3.5"/><circle cx="1917.8" cy="795" r="5.3"/><circle cx="1924.9" cy="778.6" r="3.8"/><circle cx="1934.9" cy="774.8" r="5.4"/><circle cx="1931.7" cy="803.3" r="4.4"/><circle cx="1923.7" cy="803.3" r="5.4"/><circle cx="1929.2" cy="796.7" r="4.2"/><circle cx="1923.6" cy="803.3" r="3.7"/><circle cx="1946.2" cy="776.8" r="3.1"/><circle cx="1934.1" cy="809.6" r="4.9"/><circle cx="1935.1" cy="782" r="3"/><circle cx="1910.7" cy="793" r="3.3"/><circle cx="1989.5" cy="752.1" r="6.4"/><circle cx="2019.9" cy="780.3" r="4"/><circle cx="2014.7" cy="790.5" r="4.3"/><circle cx="2008.6" cy="764.5" r="5.9"/><circle cx="1984" cy="769.3" r="5.3"/><circle cx="2023.6" cy="779" r="3.7"/><circle cx="1999" cy="791.2" r="4.3"/><circle cx="1985.2" cy="805.4" r="4.5"/><circle cx="2005" cy="799.3" r="3.5"/><circle cx="2002.5" cy="764.3" r="3.6"/><circle cx="1984.8" cy="776.9" r="5"/><circle cx="1988.3" cy="813.4" r="3.5"/><circle cx="2008.7" cy="797" r="3.5"/><circle cx="2027" cy="790.4" r="6.2"/><circle cx="2023.7" cy="718.9" r="6.1"/><circle cx="1994.3" cy="766.1" r="3.1"/><circle cx="1996.9" cy="766.8" r="5.5"/><circle cx="2022.2" cy="779.9" r="5.7"/><circle cx="2000" cy="780.8" r="4.3"/><circle cx="2012.4" cy="767.9" r="4.2"/><circle cx="1993.5" cy="796.3" r="5.6"/><circle cx="2007.8" cy="777.2" r="4.9"/><circle cx="2017.2" cy="766" r="6.3"/><circle cx="2012.1" cy="781" r="4.4"/><circle cx="2026.7" cy="768.5" r="4.8"/><circle cx="2000.7" cy="764" r="4.6"/><circle cx="2000.1" cy="796.1" r="6.5"/><circle cx="2023.2" cy="781.4" r="4.6"/><circle cx="2017.4" cy="759.1" r="5.8"/><circle cx="1989.7" cy="794.5" r="3.9"/><circle cx="2018.2" cy="787.5" r="4.5"/><circle cx="1991.7" cy="795.2" r="3.1"/><circle cx="2014.6" cy="773.7" r="5.4"/><circle cx="2004.3" cy="805.9" r="4.3"/><circle cx="1985.4" cy="778.2" r="5.7"/><circle cx="2003.4" cy="775.2" r="5.5"/><circle cx="2023.3" cy="782.7" r="5.4"/><circle cx="2004.1" cy="752.7" r="5.9"/><circle cx="2002.2" cy="744.1" r="3.9"/><circle cx="1991.2" cy="809.4" r="4.4"/><circle cx="2025.2" cy="740.9" r="6.4"/><circle cx="2007.1" cy="743.5" r="5"/><circle cx="2002.2" cy="786.3" r="3.7"/><circle cx="2020.4" cy="782.6" r="5.3"/><circle cx="1991.9" cy="815.1" r="4.1"/><circle cx="2080.8" cy="783.4" r="6.5"/><circle cx="2046.5" cy="763.2" r="6.4"/><circle cx="2085.9" cy="749.8" r="3.3"/><circle cx="2048.6" cy="732.9" r="5.7"/><circle cx="2038.4" cy="782.3" r="6.9"/><circle cx="2030" cy="763.6" r="6.7"/><circle cx="2064.6" cy="795.7" r="4.8"/><circle cx="2030.5" cy="750.5" r="3.1"/><circle cx="2046.5" cy="772.2" r="3.7"/><circle cx="2083.9" cy="734.7" r="4.2"/><circle cx="2043.2" cy="800.4" r="4.4"/><circle cx="2045.7" cy="802.4" r="5.1"/><circle cx="2068.6" cy="764.6" r="3.4"/><circle cx="2058.1" cy="782.6" r="6.8"/><circle cx="2054.5" cy="758.6" r="4.6"/><circle cx="2064.4" cy="740.5" r="4.3"/><circle cx="2069.8" cy="779" r="4.8"/><circle cx="2069.3" cy="750.6" r="4.4"/><circle cx="2057" cy="772.8" r="3.9"/><circle cx="2054.4" cy="770.5" r="5.1"/><circle cx="2086.8" cy="747.6" r="6"/><circle cx="2081.6" cy="749.5" r="6.8"/><circle cx="2040.2" cy="766.9" r="6"/><circle cx="2062.8" cy="791.3" r="5.1"/><circle cx="2035.6" cy="764.4" r="3.1"/><circle cx="2032.4" cy="777.3" r="5.3"/><circle cx="2042.4" cy="762" r="3.1"/><circle cx="2038.7" cy="808.2" r="3"/><circle cx="2071.3" cy="722.7" r="6.2"/><circle cx="2048.9" cy="766.5" r="3.8"/><circle cx="2058.7" cy="765.8" r="6"/><circle cx="2034.9" cy="787.6" r="6.1"/><circle cx="2075.2" cy="811.7" r="3.1"/><circle cx="2060.1" cy="793.5" r="4.1"/><circle cx="2058.5" cy="757.6" r="6.9"/><circle cx="2036.2" cy="744.2" r="5"/><circle cx="2069.7" cy="741.6" r="5.1"/><circle cx="2079.1" cy="708.3" r="3.9"/><circle cx="2041.9" cy="775.2" r="4.7"/><circle cx="2031.8" cy="764" r="4.7"/><circle cx="2049.8" cy="770" r="4.4"/><circle cx="2031.3" cy="851.3" r="5.9"/><circle cx="2040.2" cy="742.2" r="3.9"/><circle cx="2044.7" cy="767.4" r="4.4"/><circle cx="2077.4" cy="693.8" r="5.8"/><circle cx="2053.2" cy="783.5" r="5.7"/><circle cx="2079.4" cy="749.9" r="4.1"/><circle cx="2085.2" cy="749.2" r="3.3"/><circle cx="2061.1" cy="765.3" r="6.1"/><circle cx="2045.4" cy="809.7" r="5.8"/><circle cx="2038.5" cy="744.4" r="5.8"/><circle cx="2075.8" cy="757.3" r="6.9"/><circle cx="2032.1" cy="744.1" r="4.9"/><circle cx="2031.2" cy="763" r="6"/><circle cx="2066.9" cy="748.2" r="4.7"/><circle cx="2080.5" cy="742.4" r="3.6"/><circle cx="2067.9" cy="759.1" r="3.4"/><circle cx="2034" cy="764.1" r="6.7"/><circle cx="2062.8" cy="809.9" r="6.5"/><circle cx="2080.3" cy="771.3" r="5.5"/><circle cx="2106.3" cy="788" r="4.8"/><circle cx="2119.9" cy="707.8" r="6.7"/><circle cx="2148.4" cy="718.3" r="6.3"/><circle cx="2144.5" cy="752.1" r="5.5"/><circle cx="2105.8" cy="703.9" r="4.5"/><circle cx="2114.6" cy="737.2" r="4.8"/><circle cx="2095.7" cy="724.9" r="4.2"/><circle cx="2147.5" cy="715.9" r="5.7"/><circle cx="2158.9" cy="718.4" r="4.2"/><circle cx="2140" cy="664.5" r="3.6"/><circle cx="2100.6" cy="710.9" r="5.8"/><circle cx="2138.9" cy="724.8" r="4.6"/><circle cx="2154.7" cy="669.5" r="4.5"/><circle cx="2161.3" cy="720.1" r="4.8"/><circle cx="2116.5" cy="723.9" r="5.5"/><circle cx="2102.3" cy="770.7" r="6"/><circle cx="2122.9" cy="729.7" r="6.9"/><circle cx="2102" cy="727.3" r="5.1"/><circle cx="2131.6" cy="716.3" r="4.7"/><circle cx="2160.6" cy="759.5" r="6.3"/><circle cx="2150" cy="752.3" r="3.1"/><circle cx="2143.1" cy="740.7" r="3.4"/><circle cx="2118.5" cy="722.2" r="5.2"/><circle cx="2099.3" cy="729.5" r="3.7"/><circle cx="2138.4" cy="706.6" r="3.4"/><circle cx="2091.8" cy="780.4" r="5.7"/><circle cx="2159.7" cy="678.6" r="4.5"/><circle cx="2158.9" cy="644.2" r="4.7"/><circle cx="2146.4" cy="721.2" r="5.1"/><circle cx="2148.7" cy="727.3" r="6.6"/><circle cx="2135.6" cy="697.1" r="3.9"/><circle cx="2147" cy="761.6" r="6.9"/><circle cx="2132.6" cy="675.5" r="6.9"/><circle cx="2119.6" cy="751" r="6.6"/><circle cx="2127.6" cy="777.9" r="3.9"/><circle cx="2129.2" cy="684.4" r="6.3"/><circle cx="2161.1" cy="727.7" r="5.1"/><circle cx="2128.8" cy="746.3" r="5"/><circle cx="2111.8" cy="709.5" r="5.2"/><circle cx="2128.7" cy="782.2" r="6.3"/><circle cx="2114.1" cy="726" r="5.6"/><circle cx="2144.4" cy="752" r="3"/><circle cx="2146.9" cy="689.9" r="4.3"/><circle cx="2143.3" cy="723.9" r="5.5"/><circle cx="2138.1" cy="757.3" r="4.6"/><circle cx="2133.8" cy="738.6" r="3.4"/><circle cx="2091.1" cy="720.5" r="5.8"/><circle cx="2111.1" cy="683.3" r="6.8"/><circle cx="2136.4" cy="770.5" r="5.4"/><circle cx="2137.1" cy="753.1" r="3.8"/><circle cx="2143" cy="778.1" r="5.6"/><circle cx="2117.6" cy="764.8" r="5.6"/><circle cx="2110.2" cy="695.4" r="6"/><circle cx="2103" cy="702.3" r="4.7"/><circle cx="2131" cy="765.9" r="4.3"/><circle cx="2113.9" cy="736.1" r="4.9"/><circle cx="2124.2" cy="771.5" r="5.8"/><circle cx="2095.5" cy="731.6" r="3.4"/><circle cx="2105.2" cy="722" r="3.6"/><circle cx="2155.1" cy="736.3" r="4.3"/><circle cx="2145" cy="714.6" r="4.9"/><circle cx="2108.1" cy="768.4" r="5.8"/><circle cx="2154.6" cy="765.3" r="3.3"/><circle cx="2128.8" cy="681.4" r="4.8"/><circle cx="2147.9" cy="800.7" r="6.3"/><circle cx="2110.6" cy="749.7" r="6.6"/><circle cx="2130.7" cy="764" r="4.3"/><circle cx="2151.6" cy="746.9" r="4.1"/><circle cx="2120.3" cy="751.2" r="6.1"/><circle cx="2116.9" cy="774.5" r="6"/><circle cx="2096.1" cy="800.8" r="3.4"/><circle cx="2152.7" cy="741.4" r="3.6"/><circle cx="2095.8" cy="713.3" r="5"/><circle cx="2161.8" cy="778.9" r="3.8"/><circle cx="2123.9" cy="756.7" r="5.7"/><circle cx="2150.9" cy="727.8" r="4.6"/><circle cx="2099.1" cy="813.3" r="3.3"/><circle cx="2121.4" cy="707.6" r="3.2"/><circle cx="2148.7" cy="726.2" r="3.5"/><circle cx="2126.4" cy="699" r="5.4"/><circle cx="2125.5" cy="689.7" r="4.8"/><circle cx="2141.9" cy="715.6" r="6.5"/><circle cx="2155.3" cy="735.6" r="3.9"/><circle cx="2147.3" cy="735.7" r="3.4"/><circle cx="2104.9" cy="739.4" r="6.5"/><circle cx="2093" cy="705.7" r="5"/><circle cx="2152.3" cy="772.2" r="3.9"/><circle cx="2106.3" cy="716.3" r="4.7"/><circle cx="2110.5" cy="708.6" r="5.1"/><circle cx="2146.1" cy="728" r="4"/><circle cx="2104.3" cy="738.9" r="6.4"/><circle cx="2112" cy="722.4" r="5"/><circle cx="2116.5" cy="780.4" r="3.4"/><circle cx="2141.3" cy="750.2" r="6"/><circle cx="2153.3" cy="716" r="3.1"/><circle cx="2110.9" cy="742.1" r="5.3"/><circle cx="2091.2" cy="789.8" r="5.2"/><circle cx="2120.8" cy="782.3" r="6.2"/><circle cx="2157.3" cy="708.1" r="4.1"/><circle cx="2140.5" cy="724.2" r="3.1"/><circle cx="2133" cy="709.5" r="5.1"/><circle cx="2115.4" cy="716.9" r="4.7"/><circle cx="2121.6" cy="759.4" r="5.2"/><circle cx="2132.7" cy="686.3" r="3.4"/><circle cx="2150.3" cy="722.6" r="3.7"/><circle cx="2099.9" cy="718.4" r="3.1"/><circle cx="2125.8" cy="715.1" r="4.7"/><circle cx="2110.1" cy="773.1" r="5.5"/><circle cx="2130.2" cy="694.4" r="4.9"/><circle cx="2097.1" cy="745.8" r="3.3"/><circle cx="2160" cy="719" r="3.8"/><circle cx="2135.8" cy="749.4" r="4.8"/><circle cx="2122.9" cy="783" r="6.9"/><circle cx="2117.5" cy="717.2" r="6.1"/><circle cx="2121.6" cy="774.4" r="6.6"/><circle cx="2098" cy="736.7" r="3.3"/><circle cx="2130.8" cy="733.3" r="3.9"/><circle cx="2112" cy="734.8" r="5.3"/><circle cx="2109.2" cy="696.7" r="6.8"/><circle cx="2142.5" cy="738" r="5.3"/><circle cx="2146.6" cy="760.1" r="3.2"/><circle cx="2134.5" cy="768.6" r="6.9"/><circle cx="2122.8" cy="781.9" r="6.4"/><circle cx="2108.4" cy="725.8" r="3.9"/><circle cx="2113.4" cy="757.3" r="6.8"/><circle cx="2140.5" cy="748.2" r="6.3"/><circle cx="2147.2" cy="693.8" r="3.5"/><circle cx="2129.7" cy="812.7" r="5.1"/><circle cx="2156.6" cy="813.2" r="5.3"/><circle cx="2121" cy="774.7" r="4.9"/><circle cx="2156.3" cy="733.6" r="5.8"/><circle cx="2156.5" cy="730.8" r="5"/><circle cx="2110.7" cy="798.6" r="4.8"/><circle cx="2133.5" cy="712.2" r="6.2"/><circle cx="2112.7" cy="777.2" r="3.7"/><circle cx="2129.9" cy="737.1" r="5.1"/><circle cx="2115.6" cy="770.8" r="3.6"/><circle cx="2150.7" cy="701.4" r="4.2"/><circle cx="2108.1" cy="766.2" r="6.3"/><circle cx="2137.4" cy="799.1" r="6.7"/><circle cx="2117.1" cy="724" r="5.5"/><circle cx="2131.3" cy="734.7" r="5.2"/><circle cx="2117.6" cy="711.4" r="3.3"/><circle cx="2152.3" cy="683.8" r="5.2"/><circle cx="2149.2" cy="726.8" r="5.8"/><circle cx="2151.3" cy="788.5" r="3.6"/><circle cx="2147.2" cy="743" r="5.8"/><circle cx="2141.8" cy="803.3" r="5.3"/><circle cx="2146.9" cy="726.8" r="6.4"/><circle cx="2120.5" cy="719.4" r="3.1"/><circle cx="2127.6" cy="786.5" r="4.1"/><circle cx="2139.8" cy="808.6" r="5.4"/><circle cx="2123.9" cy="814.8" r="6.2"/><circle cx="2115.6" cy="719.4" r="3.6"/><circle cx="2153.8" cy="686.5" r="5.9"/><circle cx="2135.3" cy="742.9" r="5.1"/><circle cx="2154.1" cy="779.6" r="4.3"/><circle cx="2108.3" cy="791.1" r="5"/><circle cx="2125" cy="704.1" r="3.9"/><circle cx="2154.8" cy="741.8" r="3.6"/><circle cx="2150.7" cy="760.8" r="5"/><circle cx="2122.1" cy="736.3" r="4.8"/><circle cx="2149" cy="734.2" r="4.7"/><circle cx="2134.6" cy="745.8" r="5"/><circle cx="2122" cy="803.1" r="3.6"/></g>
<g fill="#10728a" fill-opacity="0.9" stroke="#fff" stroke-opacity="0.5" stroke-width="1.1" clip-path="url(#cg)"><circle cx="1766.5" cy="804.5" r="7.4"/><circle cx="1767.9" cy="805" r="4.2"/><circle cx="1756.2" cy="809.5" r="7.5"/><circle cx="1774.8" cy="811.6" r="5.5"/><circle cx="1799.9" cy="805.3" r="5.5"/><circle cx="1758.8" cy="807" r="6.4"/><circle cx="1758.8" cy="803.2" r="4.8"/><circle cx="1760.7" cy="810.1" r="4"/><circle cx="1800.4" cy="805.4" r="5.2"/><circle cx="1788.1" cy="808.7" r="7.3"/><circle cx="1780.7" cy="809.6" r="7.8"/><circle cx="1773.3" cy="812.6" r="4.3"/><circle cx="1785.2" cy="806.8" r="7.5"/><circle cx="1773.7" cy="805.7" r="6.5"/><circle cx="1779.3" cy="809.6" r="6.2"/><circle cx="1794.3" cy="811.7" r="4.4"/><circle cx="1780.3" cy="808.7" r="5.7"/><circle cx="1773.9" cy="806.3" r="7.9"/><circle cx="1802.9" cy="798.7" r="6.5"/><circle cx="1804.1" cy="806.7" r="4.2"/><circle cx="1766.1" cy="808.5" r="5.7"/><circle cx="1792.2" cy="809.7" r="4.7"/><circle cx="1766.5" cy="806.3" r="6.6"/><circle cx="1786.3" cy="808.7" r="4.6"/><circle cx="1759" cy="806.6" r="7.7"/><circle cx="1792.8" cy="807.6" r="6.9"/><circle cx="1779.3" cy="802.9" r="7.5"/><circle cx="1754.4" cy="809.1" r="4.9"/><circle cx="1765" cy="813.8" r="4.5"/><circle cx="1761.5" cy="814.8" r="4.5"/><circle cx="1871.9" cy="799.5" r="4.9"/><circle cx="1842" cy="801.9" r="5"/><circle cx="1831.1" cy="802.3" r="4.2"/><circle cx="1825.4" cy="800.2" r="6.5"/><circle cx="1829.5" cy="804.2" r="7.2"/><circle cx="1817.3" cy="802.7" r="4.8"/><circle cx="1844.2" cy="800.9" r="6"/><circle cx="1845.9" cy="801.4" r="4.2"/><circle cx="1824.4" cy="802.7" r="6.3"/><circle cx="1838.5" cy="805.9" r="6.2"/><circle cx="1821.7" cy="804.3" r="5.3"/><circle cx="1856.9" cy="801.8" r="7.5"/><circle cx="1869.7" cy="795.5" r="5.2"/><circle cx="1841.1" cy="805.8" r="7.3"/><circle cx="1812.9" cy="802.1" r="5.8"/><circle cx="1849.6" cy="800.7" r="5.9"/><circle cx="1851" cy="803.9" r="5.5"/><circle cx="1851.7" cy="799" r="4.8"/><circle cx="1824.8" cy="803.3" r="4.2"/><circle cx="1867.1" cy="802.9" r="7"/><circle cx="1808.8" cy="802.3" r="5.4"/><circle cx="1818.7" cy="806.1" r="5.8"/><circle cx="1822.1" cy="805.9" r="6.5"/><circle cx="1812.2" cy="805.3" r="5.3"/><circle cx="1805.8" cy="801.2" r="4.7"/><circle cx="1898" cy="797.1" r="4.6"/><circle cx="1935.1" cy="788.4" r="4.8"/><circle cx="1908.1" cy="792.8" r="7.1"/><circle cx="1929.1" cy="792.6" r="4.3"/><circle cx="1902" cy="789" r="6"/><circle cx="1913.1" cy="793.2" r="5.7"/><circle cx="1912.3" cy="789.3" r="5.7"/><circle cx="1947.8" cy="788.6" r="4.8"/><circle cx="1927.6" cy="790.9" r="7.4"/><circle cx="1918.6" cy="792.5" r="7.8"/><circle cx="1905.3" cy="794.4" r="7.8"/><circle cx="1928.5" cy="792.3" r="6.9"/><circle cx="1939.9" cy="787.6" r="4.3"/><circle cx="1928.4" cy="793.7" r="6.4"/><circle cx="1911.5" cy="794" r="5.9"/><circle cx="2012" cy="773.7" r="6.1"/><circle cx="1980.7" cy="782.1" r="5.9"/><circle cx="2067.5" cy="764" r="4.1"/><circle cx="1990.2" cy="778" r="4.4"/><circle cx="1994.1" cy="774.8" r="8.1"/><circle cx="1994.3" cy="777.2" r="4.1"/><circle cx="2016.9" cy="774.5" r="7.7"/><circle cx="2041.5" cy="763.7" r="8.4"/><circle cx="2059.4" cy="758.2" r="6.2"/><circle cx="2071.7" cy="754.2" r="7.5"/><circle cx="2000.4" cy="776.5" r="4.1"/><circle cx="2015.3" cy="769.9" r="5.3"/><circle cx="2012.4" cy="775.6" r="5.7"/><circle cx="2024" cy="766" r="7.7"/><circle cx="2001.3" cy="770.5" r="7.5"/><circle cx="2007.5" cy="769.1" r="7.7"/><circle cx="2009.9" cy="773.2" r="4"/><circle cx="2054" cy="762.1" r="6.2"/><circle cx="2035.5" cy="766" r="7"/><circle cx="2066.9" cy="757.6" r="4.1"/><circle cx="2076.7" cy="760.8" r="5.5"/><circle cx="2042.3" cy="766" r="4"/><circle cx="2072.1" cy="750.9" r="6"/><circle cx="2076.4" cy="751" r="8.2"/><circle cx="2023.1" cy="769.1" r="7.1"/><circle cx="2018.5" cy="774.9" r="6.1"/><circle cx="1998" cy="775.3" r="6.8"/><circle cx="2007" cy="767.3" r="4.8"/><circle cx="1996.2" cy="776.7" r="4.8"/><circle cx="2068.3" cy="759.6" r="7.8"/><circle cx="2071.2" cy="755.1" r="7.9"/><circle cx="2029.5" cy="770.2" r="6"/><circle cx="1980.5" cy="781.8" r="4.3"/><circle cx="2019" cy="768.9" r="6.6"/><circle cx="1983.4" cy="779.3" r="4.1"/><circle cx="2054" cy="762" r="7.2"/><circle cx="1984.6" cy="777.4" r="6.5"/><circle cx="2001.9" cy="778.3" r="8.4"/><circle cx="2002.6" cy="774.1" r="6.1"/><circle cx="2019.2" cy="772" r="5.2"/><circle cx="2130" cy="732" r="4.1"/><circle cx="2116.7" cy="746.1" r="5.4"/><circle cx="2108.6" cy="747.1" r="5.4"/><circle cx="2093.3" cy="746.5" r="5.2"/><circle cx="2121.2" cy="735.7" r="7.3"/><circle cx="2120.4" cy="735.7" r="5.2"/><circle cx="2118" cy="739.2" r="5.9"/><circle cx="2123.5" cy="744.2" r="7.3"/><circle cx="2107.6" cy="744.1" r="4.9"/><circle cx="2124" cy="733.3" r="7.5"/><circle cx="2114.7" cy="742.5" r="6.6"/><circle cx="2131" cy="739.5" r="6.2"/><circle cx="2118.9" cy="734.2" r="6.2"/><circle cx="2128.9" cy="735" r="6.4"/><circle cx="2092.7" cy="745.6" r="4.4"/><circle cx="2112.5" cy="743.2" r="7.4"/><circle cx="2104.7" cy="736.9" r="6.2"/><circle cx="2131.2" cy="732.2" r="5.4"/><circle cx="2096.2" cy="745" r="7.6"/><circle cx="2124.7" cy="738.2" r="5.3"/><circle cx="2130.9" cy="737" r="7.7"/><circle cx="2096.5" cy="749.8" r="7.1"/><circle cx="2104.3" cy="737.7" r="7.8"/><circle cx="2118.5" cy="742.5" r="4.7"/><circle cx="2098" cy="751.8" r="7.3"/><circle cx="2106.6" cy="745.6" r="6.9"/><circle cx="2130.7" cy="737.3" r="5.8"/><circle cx="2090.8" cy="752.1" r="6.3"/><circle cx="2100.5" cy="748" r="5.3"/><circle cx="2111.1" cy="741.3" r="4.7"/><circle cx="2134.9" cy="714.1" r="4.3"/><circle cx="2160.6" cy="727.2" r="4.4"/><circle cx="2135.2" cy="724.3" r="7.1"/><circle cx="2133.4" cy="731" r="6.1"/><circle cx="2150.9" cy="720.1" r="6.4"/><circle cx="2160.9" cy="715.7" r="4.7"/><circle cx="2135.7" cy="740.7" r="6.7"/><circle cx="2133" cy="732.2" r="5.7"/><circle cx="2161.1" cy="721.1" r="6"/><circle cx="2135.3" cy="733.2" r="6"/><circle cx="2135.5" cy="725.1" r="8.2"/><circle cx="2147.2" cy="714.3" r="8.4"/><circle cx="2159" cy="717.5" r="8.2"/><circle cx="2155" cy="717.6" r="7.8"/><circle cx="2145.9" cy="737.4" r="6.4"/><circle cx="2154.8" cy="714.9" r="6.3"/><circle cx="2146.9" cy="722.5" r="4.2"/><circle cx="2152.2" cy="727.9" r="4.6"/><circle cx="2132.5" cy="739.6" r="5.3"/><circle cx="2134.8" cy="720.4" r="6.4"/><circle cx="2132.7" cy="731.5" r="8"/><circle cx="2135.9" cy="726" r="6.9"/><circle cx="2157.5" cy="713.8" r="4.3"/><circle cx="2137.5" cy="719.1" r="5.3"/><circle cx="2153.6" cy="720.2" r="4.3"/><circle cx="2138.7" cy="730.6" r="5.3"/><circle cx="2138.6" cy="724.7" r="7.4"/><circle cx="2158.9" cy="720" r="7.7"/><circle cx="2131.6" cy="717.8" r="4.7"/><circle cx="2131.6" cy="738.4" r="7"/><circle cx="2134.3" cy="731.1" r="7.3"/><circle cx="2144.9" cy="720.9" r="8.1"/><circle cx="2136.4" cy="720.5" r="7.6"/><circle cx="2161.5" cy="709.6" r="5.6"/><circle cx="2143.9" cy="725.4" r="6.9"/><circle cx="2156.3" cy="712.9" r="4.8"/><circle cx="2136.9" cy="718.7" r="4.7"/><circle cx="2140.4" cy="731.4" r="6.9"/><circle cx="2160.3" cy="721" r="6.6"/><circle cx="2157.5" cy="717.8" r="6.4"/><circle cx="1784.6" cy="788.9" r="14"/></g>
<path d="M1754 809.3 L1756 809.2 L1758.1 809.1 L1760.1 808.9 L1762.2 808.8 L1764.2 808.6 L1766.2 808.5 L1768.3 808.3 L1770.3 808.2 L1772.4 808 L1774.4 807.9 L1776.4 807.7 L1778.5 807.5 L1780.5 807.4 L1782.6 807.2 L1784.6 807.1 L1786.6 806.9 L1788.7 806.7 L1790.7 806.6 L1792.8 806.4 L1794.8 806.2 L1796.8 806 L1798.9 805.9 L1800.9 805.7 L1803 805.5 L1805 805.3 L1807 805.1 L1809.1 805 L1811.1 804.8 L1813.2 804.6 L1815.2 804.4 L1817.2 804.2 L1819.3 804 L1821.3 803.8 L1823.4 803.6 L1825.4 803.4 L1827.4 803.2 L1829.5 803 L1831.5 802.8 L1833.6 802.6 L1835.6 802.4 L1837.6 802.2 L1839.7 802 L1841.7 801.7 L1843.8 801.5 L1845.8 801.3 L1847.8 801.1 L1849.9 800.8 L1851.9 800.6 L1854 800.4 L1856 800.2 L1858 799.9 L1860.1 799.7 L1862.1 799.4 L1864.2 799.2 L1866.2 799 L1868.2 798.7 L1870.3 798.5 L1872.3 798.2 L1874.4 798 L1876.4 797.7 L1878.4 797.4 L1880.5 797.2 L1882.5 796.9 L1884.6 796.6 L1886.6 796.4 L1888.6 796.1 L1890.7 795.8 L1892.7 795.5 L1894.8 795.3 L1896.8 795 L1898.8 794.7 L1900.9 794.4 L1902.9 794.1 L1905 793.8 L1907 793.5 L1909 793.2 L1911.1 792.9 L1913.1 792.6 L1915.2 792.3 L1917.2 792 L1919.2 791.7 L1921.3 791.3 L1923.3 791 L1925.4 790.7 L1927.4 790.4 L1929.4 790 L1931.5 789.7 L1933.5 789.4 L1935.6 789 L1937.6 788.7 L1939.6 788.3 L1941.7 788 L1943.7 787.6 L1945.8 787.2 L1947.8 786.9 L1949.8 786.5 L1951.9 786.1 L1953.9 785.8 L1956 785.4 L1958 785 L1960 784.6 L1962.1 784.2 L1964.1 783.8 L1966.2 783.4 L1968.2 783 L1970.2 782.6 L1972.3 782.2 L1974.3 781.8 L1976.4 781.4 L1978.4 780.9 L1980.4 780.5 L1982.5 780.1 L1984.5 779.7 L1986.6 779.2 L1988.6 778.8 L1990.6 778.3 L1992.7 777.9 L1994.7 777.4 L1996.8 776.9 L1998.8 776.5 L2000.8 776 L2002.9 775.5 L2004.9 775 L2007 774.6 L2009 774.1 L2011 773.6 L2013.1 773.1 L2015.1 772.6 L2017.2 772 L2019.2 771.5 L2021.2 771 L2023.3 770.5 L2025.3 769.9 L2027.4 769.4 L2029.4 768.9 L2031.4 768.3 L2033.5 767.8 L2035.5 767.2 L2037.6 766.6 L2039.6 766.1 L2041.6 765.5 L2043.7 764.9 L2045.7 764.3 L2047.8 763.7 L2049.8 763.1 L2051.8 762.5 L2053.9 761.9 L2055.9 761.3 L2058 760.6 L2060 760 L2062 759.4 L2064.1 758.7 L2066.1 758.1 L2068.2 757.4 L2070.2 756.8 L2072.2 756.1 L2074.3 755.4 L2076.3 754.7 L2078.4 754 L2080.4 753.3 L2082.4 752.6 L2084.5 751.9 L2086.5 751.2 L2088.6 750.5 L2090.6 749.7 L2092.6 749 L2094.7 748.2 L2096.7 747.5 L2098.8 746.7 L2100.8 746 L2102.8 745.2 L2104.9 744.4 L2106.9 743.6 L2109 742.8 L2111 742 L2113 741.2 L2115.1 740.3 L2117.1 739.5 L2119.2 738.7 L2121.2 737.8 L2123.2 736.9 L2125.3 736.1 L2127.3 735.2 L2129.4 734.3 L2131.4 733.4 L2133.4 732.5 L2135.5 731.6 L2137.5 730.7 L2139.6 729.7 L2141.6 728.8 L2143.6 727.8 L2145.7 726.9 L2147.7 725.9 L2149.8 724.9 L2151.8 723.9 L2153.8 722.9 L2155.9 721.9 L2157.9 720.9 L2160 719.9 L2162 718.8" fill="none" stroke="#1e1e1e" stroke-opacity="0.85" stroke-width="5.6" stroke-dasharray="22.9 11.1"/>
<clipPath id="ch"><rect x="120.5" y="1068" width="418.8" height="214.9"/></clipPath>
<g fill="#cccccc" fill-opacity="0.75" stroke="#fff" stroke-opacity="0.35" stroke-width="1.0" clip-path="url(#ch)"><circle cx="149" cy="1231.4" r="3.5"/><circle cx="175.9" cy="1217.4" r="4.1"/><circle cx="176.9" cy="1204" r="3.1"/><circle cx="196.5" cy="1186" r="6.2"/><circle cx="195.5" cy="1225.6" r="5.8"/><circle cx="205.8" cy="1221.5" r="5.2"/><circle cx="213.6" cy="1221.5" r="3.5"/><circle cx="204.8" cy="1233.5" r="3.7"/><circle cx="208.9" cy="1190.6" r="4.1"/><circle cx="214.1" cy="1174.1" r="3.1"/><circle cx="223.3" cy="1178.2" r="4.1"/><circle cx="222.3" cy="1159.6" r="3.7"/><circle cx="224" cy="1211.6" r="3.7"/><circle cx="232.6" cy="1227.3" r="3.1"/><circle cx="234.3" cy="1235.5" r="3.1"/><circle cx="233" cy="1242.1" r="3.5"/><circle cx="221.9" cy="1251.4" r="3.5"/><circle cx="235.1" cy="1256.2" r="3.1"/><circle cx="245.4" cy="1226.7" r="4.1"/><circle cx="231.6" cy="1165.8" r="5.2"/><circle cx="238.8" cy="1165.8" r="5.2"/><circle cx="244" cy="1153.8" r="4.5"/><circle cx="234.7" cy="1198.8" r="3.1"/><circle cx="259.4" cy="1143.1" r="4.1"/><circle cx="257.4" cy="1167.9" r="4.1"/><circle cx="270.8" cy="1195.1" r="3.7"/><circle cx="269.8" cy="1152.4" r="3.5"/><circle cx="275.5" cy="1157.1" r="3.5"/><circle cx="286.7" cy="1155.9" r="3.5"/><circle cx="290.4" cy="1202.9" r="3.7"/><circle cx="289.4" cy="1222.5" r="4.1"/><circle cx="300.3" cy="1226.1" r="3.5"/><circle cx="314.8" cy="1229.4" r="4.1"/><circle cx="313.1" cy="1207.1" r="3.7"/><circle cx="313.1" cy="1199.8" r="3.1"/><circle cx="299.7" cy="1137.9" r="4.1"/><circle cx="306.9" cy="1130.3" r="3.5"/><circle cx="323" cy="1137.3" r="4.5"/><circle cx="314.8" cy="1165.4" r="4.1"/><circle cx="323.4" cy="1165.8" r="5.2"/><circle cx="330.6" cy="1129.1" r="3.5"/><circle cx="341.6" cy="1118.7" r="5.2"/><circle cx="342" cy="1122.9" r="4.1"/><circle cx="335.8" cy="1153.4" r="4.1"/><circle cx="344.1" cy="1153.4" r="4.1"/><circle cx="354.4" cy="1141.4" r="4.1"/><circle cx="357.5" cy="1151.8" r="4.1"/><circle cx="335.4" cy="1196.7" r="4.5"/><circle cx="343.6" cy="1201.9" r="3.5"/><circle cx="343" cy="1181.3" r="3.5"/><circle cx="369.8" cy="1117.3" r="3.7"/><circle cx="370.3" cy="1141.4" r="4.1"/><circle cx="369.8" cy="1156.5" r="4.1"/><circle cx="376" cy="1156.5" r="3.7"/><circle cx="376" cy="1188.1" r="3.7"/><circle cx="378.1" cy="1101.4" r="3.7"/><circle cx="374" cy="1212.2" r="3.7"/><circle cx="375" cy="1216.4" r="3.1"/><circle cx="369.2" cy="1220.5" r="3.5"/><circle cx="387.8" cy="1196.3" r="4.1"/><circle cx="387.8" cy="1220.5" r="3.7"/><circle cx="400.8" cy="1231.4" r="3.5"/><circle cx="400.8" cy="1269" r="3.1"/><circle cx="374" cy="1275.6" r="3.1"/><circle cx="399.4" cy="1115.9" r="3.7"/><circle cx="403.5" cy="1113.8" r="4.1"/><circle cx="416.7" cy="1113.2" r="4.1"/><circle cx="422.5" cy="1109.7" r="3.7"/><circle cx="417.3" cy="1122" r="3.7"/><circle cx="422.5" cy="1120.8" r="3.7"/><circle cx="416.3" cy="1171.6" r="3.5"/><circle cx="415.2" cy="1155.1" r="4.1"/><circle cx="423.5" cy="1134.8" r="4.1"/><circle cx="426.6" cy="1090.5" r="4.1"/><circle cx="432.4" cy="1094.6" r="3.7"/><circle cx="404.3" cy="1194.3" r="3.5"/><circle cx="426.6" cy="1198.4" r="3.7"/><circle cx="422.1" cy="1204.6" r="4.1"/><circle cx="440.4" cy="1200.5" r="3.5"/><circle cx="439.4" cy="1183.3" r="5.2"/><circle cx="426.6" cy="1229.4" r="3.5"/><circle cx="431.8" cy="1229.8" r="3.1"/><circle cx="471.6" cy="1272.7" r="3.5"/><circle cx="502.3" cy="1166.8" r="4.1"/><circle cx="501.3" cy="1179.8" r="4.1"/></g>
<g fill="#ab1248" fill-opacity="0.6" stroke="#fff" stroke-opacity="0.45" stroke-width="1.0" clip-path="url(#ch)"><circle cx="122.2" cy="1226.7" r="8.3"/><circle cx="149" cy="1219" r="3.7"/><circle cx="175.9" cy="1212.8" r="4.5"/><circle cx="207.4" cy="1209.1" r="6.2"/><circle cx="197.1" cy="1161.7" r="6.2"/><circle cx="236.7" cy="1181.9" r="4.1"/><circle cx="251.2" cy="1182.3" r="3.5"/><circle cx="277" cy="1140.2" r="3.7"/><circle cx="297.6" cy="1153" r="3.7"/><circle cx="314.1" cy="1187.5" r="7.8"/><circle cx="330" cy="1149.7" r="3.1"/><circle cx="351.9" cy="1146.8" r="3.5"/><circle cx="354.4" cy="1155.1" r="3.7"/></g>
<g fill="#ab1248" fill-opacity="0.92" stroke="#fff" stroke-opacity="0.55" stroke-width="1.1" clip-path="url(#ch)"><circle cx="176.9" cy="1186" r="3.7"/><circle cx="181" cy="1194.7" r="4.5"/><circle cx="195.5" cy="1205" r="6.2"/><circle cx="208.9" cy="1196.3" r="3.5"/><circle cx="200.6" cy="1165.8" r="4.1"/><circle cx="204.1" cy="1164.1" r="3.7"/><circle cx="207.9" cy="1176.5" r="5.2"/><circle cx="214.7" cy="1183.3" r="4.1"/><circle cx="222.3" cy="1184.4" r="4.1"/><circle cx="223.3" cy="1149.7" r="4.5"/><circle cx="229.5" cy="1150.3" r="4.1"/><circle cx="234.7" cy="1148.7" r="5.8"/><circle cx="233.7" cy="1185.4" r="4.5"/><circle cx="233.2" cy="1204.6" r="3.5"/><circle cx="245" cy="1171" r="7.2"/><circle cx="257" cy="1158" r="4.1"/><circle cx="259" cy="1148.3" r="4.5"/><circle cx="271.2" cy="1173.6" r="4.1"/><circle cx="274.9" cy="1149.7" r="4.1"/><circle cx="287.3" cy="1160" r="4.1"/><circle cx="290.4" cy="1165.2" r="5.8"/><circle cx="298.7" cy="1195.1" r="5.2"/><circle cx="306.9" cy="1172" r="3.7"/><circle cx="322.4" cy="1175.7" r="4.1"/><circle cx="323.8" cy="1194.3" r="5.2"/><circle cx="336.2" cy="1188.5" r="6.6"/><circle cx="341.6" cy="1164.8" r="5.2"/><circle cx="343" cy="1144.3" r="4.5"/><circle cx="356" cy="1188.1" r="7.2"/><circle cx="369.2" cy="1180.2" r="5.8"/><circle cx="370.9" cy="1167.9" r="3.7"/><circle cx="375.4" cy="1172.4" r="3.7"/><circle cx="375" cy="1162.7" r="3.7"/><circle cx="378.1" cy="1133.2" r="4.1"/><circle cx="388.4" cy="1179.8" r="5.8"/><circle cx="400.8" cy="1154.4" r="4.5"/><circle cx="400.8" cy="1162.7" r="4.1"/><circle cx="406" cy="1153" r="3.7"/><circle cx="403.9" cy="1130.7" r="4.5"/><circle cx="416.3" cy="1133.8" r="5.2"/><circle cx="421.4" cy="1145.2" r="5.8"/><circle cx="422.5" cy="1160.6" r="4.1"/><circle cx="428.7" cy="1151.4" r="4.5"/><circle cx="439.4" cy="1160.6" r="4.5"/><circle cx="473.6" cy="1151.4" r="5.2"/><circle cx="500.9" cy="1132.4" r="6.6"/></g>
<path d="M118.7 1227.5 L120.7 1225 L122.8 1223.5 L124.8 1222.3 L126.8 1221.1 L128.9 1220.1 L130.9 1219.2 L132.9 1218.3 L135 1217.4 L137 1216.6 L139 1215.8 L141.1 1215 L143.1 1214.2 L145.1 1213.5 L147.2 1212.8 L149.2 1212.1 L151.2 1211.4 L153.3 1210.7 L155.3 1210.1 L157.3 1209.4 L159.4 1208.8 L161.4 1208.2 L163.4 1207.6 L165.5 1207 L167.5 1206.4 L169.6 1205.8 L171.6 1205.2 L173.6 1204.7 L175.7 1204.1 L177.7 1203.5 L179.7 1203 L181.8 1202.4 L183.8 1201.9 L185.8 1201.4 L187.9 1200.8 L189.9 1200.3 L191.9 1199.8 L194 1199.3 L196 1198.8 L198 1198.3 L200.1 1197.8 L202.1 1197.3 L204.1 1196.8 L206.2 1196.3 L208.2 1195.8 L210.2 1195.3 L212.3 1194.8 L214.3 1194.4 L216.3 1193.9 L218.4 1193.4 L220.4 1193 L222.4 1192.5 L224.5 1192.1 L226.5 1191.6 L228.5 1191.1 L230.6 1190.7 L232.6 1190.3 L234.6 1189.8 L236.7 1189.4 L238.7 1188.9 L240.7 1188.5 L242.8 1188.1 L244.8 1187.6 L246.8 1187.2 L248.9 1186.8 L250.9 1186.3 L252.9 1185.9 L255 1185.5 L257 1185.1 L259 1184.7 L261.1 1184.2 L263.1 1183.8 L265.1 1183.4 L267.2 1183 L269.2 1182.6 L271.2 1182.2 L273.3 1181.8 L275.3 1181.4 L277.4 1181 L279.4 1180.6 L281.4 1180.2 L283.5 1179.8 L285.5 1179.4 L287.5 1179 L289.6 1178.6 L291.6 1178.2 L293.6 1177.8 L295.7 1177.5 L297.7 1177.1 L299.7 1176.7 L301.8 1176.3 L303.8 1175.9 L305.8 1175.6 L307.9 1175.2 L309.9 1174.8 L311.9 1174.4 L314 1174 L316 1173.7 L318 1173.3 L320.1 1172.9 L322.1 1172.6 L324.1 1172.2 L326.2 1171.8 L328.2 1171.5 L330.2 1171.1 L332.3 1170.7 L334.3 1170.4 L336.3 1170 L338.4 1169.7 L340.4 1169.3 L342.4 1168.9 L344.5 1168.6 L346.5 1168.2 L348.5 1167.9 L350.6 1167.5 L352.6 1167.2 L354.6 1166.8 L356.7 1166.5 L358.7 1166.1 L360.7 1165.8 L362.8 1165.4 L364.8 1165.1 L366.8 1164.7 L368.9 1164.4 L370.9 1164 L373 1163.7 L375 1163.4 L377 1163 L379.1 1162.7 L381.1 1162.3 L383.1 1162 L385.2 1161.7 L387.2 1161.3 L389.2 1161 L391.3 1160.7 L393.3 1160.3 L395.3 1160 L397.4 1159.7 L399.4 1159.3 L401.4 1159 L403.5 1158.7 L405.5 1158.3 L407.5 1158 L409.6 1157.7 L411.6 1157.4 L413.6 1157 L415.7 1156.7 L417.7 1156.4 L419.7 1156.1 L421.8 1155.7 L423.8 1155.4 L425.8 1155.1 L427.9 1154.8 L429.9 1154.5 L431.9 1154.1 L434 1153.8 L436 1153.5 L438 1153.2 L440.1 1152.9 L442.1 1152.5 L444.1 1152.2 L446.2 1151.9 L448.2 1151.6 L450.2 1151.3 L452.3 1151 L454.3 1150.7 L456.3 1150.4 L458.4 1150 L460.4 1149.7 L462.4 1149.4 L464.5 1149.1 L466.5 1148.8 L468.5 1148.5 L470.6 1148.2 L472.6 1147.9 L474.7 1147.6 L476.7 1147.3 L478.7 1147 L480.8 1146.7 L482.8 1146.4 L484.8 1146.1 L486.9 1145.8 L488.9 1145.4 L490.9 1145.1 L493 1144.8 L495 1144.5 L497 1144.2 L499.1 1143.9 L501.1 1143.6 L503.1 1143.3 L505.2 1143 L507.2 1142.8 L509.2 1142.5 L511.3 1142.2 L513.3 1141.9 L515.3 1141.6 L517.4 1141.3 L519.4 1141 L521.4 1140.7 L523.5 1140.4 L525.5 1140.1" fill="none" stroke="#1e1e1e" stroke-opacity="0.85" stroke-width="5.6" stroke-dasharray="22.9 11.1"/>
<clipPath id="ci"><rect x="673.2" y="1068" width="419.5" height="214.9"/></clipPath>
<g fill="#cccccc" fill-opacity="0.75" stroke="#fff" stroke-opacity="0.35" stroke-width="1.0" clip-path="url(#ci)"><circle cx="684.3" cy="1245.2" r="3.1"/><circle cx="731.2" cy="1226.9" r="5.1"/><circle cx="756.6" cy="1244.2" r="11.2"/><circle cx="756.6" cy="1232" r="4.1"/><circle cx="766.8" cy="1233" r="5.1"/><circle cx="753.6" cy="1217.7" r="6.1"/><circle cx="732.2" cy="1194.3" r="5.1"/><circle cx="804.6" cy="1201.4" r="4.1"/><circle cx="805.6" cy="1213.6" r="4.1"/><circle cx="805.6" cy="1220.8" r="4.1"/><circle cx="806.2" cy="1226.9" r="3.1"/><circle cx="805.6" cy="1188.1" r="3.1"/><circle cx="817.8" cy="1155.5" r="9.2"/><circle cx="810.7" cy="1168.8" r="5.1"/><circle cx="843.3" cy="1156.5" r="7.1"/><circle cx="843.3" cy="1247.3" r="3.1"/><circle cx="871.8" cy="1257.5" r="3.5"/><circle cx="867.8" cy="1229.9" r="4.1"/><circle cx="874.9" cy="1134.1" r="5.1"/><circle cx="878" cy="1147.4" r="7.1"/><circle cx="874.9" cy="1172.9" r="3.7"/><circle cx="875.9" cy="1164.7" r="3.1"/><circle cx="894.3" cy="1189.2" r="3.1"/><circle cx="894.3" cy="1196.3" r="3.1"/><circle cx="893.2" cy="1169.8" r="3.1"/><circle cx="899.4" cy="1120.9" r="6.1"/><circle cx="906.5" cy="1142.3" r="5.7"/><circle cx="906.5" cy="1210.6" r="3.1"/><circle cx="916.7" cy="1241.2" r="5.5"/><circle cx="918.7" cy="1216.7" r="5.7"/><circle cx="918.7" cy="1227.9" r="3.1"/><circle cx="919.7" cy="1197.3" r="3.1"/><circle cx="927.9" cy="1275.8" r="3.1"/><circle cx="928.9" cy="1233" r="3.7"/><circle cx="938.1" cy="1232" r="4.5"/><circle cx="948.3" cy="1233" r="3.1"/><circle cx="948.3" cy="1247.3" r="4.5"/><circle cx="949.3" cy="1273.8" r="4.5"/><circle cx="939.1" cy="1212.6" r="5.7"/><circle cx="943.2" cy="1214.7" r="4.1"/><circle cx="926.9" cy="1168.8" r="3.7"/><circle cx="931" cy="1153.5" r="3.1"/><circle cx="937.1" cy="1151.5" r="3.1"/><circle cx="939.1" cy="1161.6" r="4.5"/><circle cx="924.8" cy="1113.7" r="8.2"/><circle cx="934" cy="1108.6" r="4.5"/><circle cx="955.4" cy="1104.6" r="5.7"/><circle cx="949.3" cy="1136.2" r="6.1"/><circle cx="955.4" cy="1201.4" r="3.1"/><circle cx="1007.4" cy="1204.5" r="5.7"/><circle cx="917.7" cy="1120.9" r="5.1"/><circle cx="867.8" cy="1136.2" r="3.1"/><circle cx="886.1" cy="1181" r="5.1"/><circle cx="937.1" cy="1197.3" r="5.1"/></g>
<g fill="#572fc9" fill-opacity="0.6" stroke="#fff" stroke-opacity="0.45" stroke-width="1.0" clip-path="url(#ci)"><circle cx="756.6" cy="1206.5" r="11.2"/><circle cx="818.4" cy="1137.2" r="9.2"/><circle cx="804.6" cy="1194.3" r="3.5"/><circle cx="843.3" cy="1170.8" r="7.7"/><circle cx="879" cy="1111.7" r="10.2"/><circle cx="890.2" cy="1101.5" r="6.1"/><circle cx="893.2" cy="1141.3" r="7.7"/><circle cx="899.4" cy="1126" r="5.1"/><circle cx="906.5" cy="1175.9" r="7.7"/><circle cx="927.9" cy="1128" r="9.2"/></g>
<g fill="#572fc9" fill-opacity="0.92" stroke="#fff" stroke-opacity="0.55" stroke-width="1.1" clip-path="url(#ci)"><circle cx="684.3" cy="1233" r="2.4"/><circle cx="721" cy="1214.7" r="7.1"/><circle cx="732.2" cy="1212.6" r="6.1"/><circle cx="756.6" cy="1204.5" r="4.1"/><circle cx="765.8" cy="1163.1" r="6.1"/><circle cx="804.6" cy="1144.3" r="4.5"/><circle cx="809.7" cy="1137.2" r="4.5"/><circle cx="842.3" cy="1185.1" r="4.5"/><circle cx="854.5" cy="1192.2" r="9.2"/><circle cx="867.8" cy="1192.2" r="4.1"/><circle cx="871.8" cy="1205.5" r="3.5"/><circle cx="875.9" cy="1185.1" r="3.7"/><circle cx="875.9" cy="1115.8" r="7.1"/><circle cx="889.2" cy="1176.9" r="5.1"/><circle cx="888.1" cy="1130" r="4.1"/><circle cx="906.5" cy="1129" r="5.1"/><circle cx="909.6" cy="1194.3" r="5.1"/><circle cx="909.6" cy="1152.5" r="5.1"/><circle cx="916.7" cy="1155.5" r="6.1"/><circle cx="918.7" cy="1097.4" r="5.7"/><circle cx="933" cy="1096.4" r="5.7"/><circle cx="929.9" cy="1090.3" r="4.1"/><circle cx="939.1" cy="1130" r="4.5"/><circle cx="942.2" cy="1116.8" r="3.1"/><circle cx="948.3" cy="1161.6" r="4.5"/><circle cx="947.3" cy="1181" r="7.7"/><circle cx="939.1" cy="1179" r="4.5"/><circle cx="940.1" cy="1189.2" r="5.1"/><circle cx="931" cy="1189.2" r="4.1"/><circle cx="955.4" cy="1117.8" r="5.1"/><circle cx="1007.4" cy="1186.1" r="5.7"/></g>
<path d="M671.4 1242.8 L673.4 1239.2 L675.5 1237 L677.5 1235.1 L679.5 1233.4 L681.6 1231.9 L683.6 1230.5 L685.6 1229.1 L687.7 1227.8 L689.7 1226.6 L691.7 1225.4 L693.8 1224.2 L695.8 1223.1 L697.8 1221.9 L699.9 1220.9 L701.9 1219.8 L703.9 1218.8 L706 1217.8 L708 1216.8 L710 1215.8 L712 1214.8 L714.1 1213.9 L716.1 1213 L718.1 1212.1 L720.2 1211.2 L722.2 1210.3 L724.2 1209.4 L726.3 1208.5 L728.3 1207.7 L730.3 1206.8 L732.4 1206 L734.4 1205.1 L736.4 1204.3 L738.5 1203.5 L740.5 1202.7 L742.5 1201.9 L744.6 1201.1 L746.6 1200.3 L748.6 1199.6 L750.7 1198.8 L752.7 1198 L754.7 1197.3 L756.8 1196.5 L758.8 1195.8 L760.8 1195 L762.9 1194.3 L764.9 1193.6 L766.9 1192.8 L769 1192.1 L771 1191.4 L773 1190.7 L775.1 1190 L777.1 1189.3 L779.1 1188.6 L781.2 1187.9 L783.2 1187.2 L785.2 1186.5 L787.3 1185.8 L789.3 1185.1 L791.3 1184.5 L793.3 1183.8 L795.4 1183.1 L797.4 1182.5 L799.4 1181.8 L801.5 1181.2 L803.5 1180.5 L805.5 1179.8 L807.6 1179.2 L809.6 1178.6 L811.6 1177.9 L813.7 1177.3 L815.7 1176.6 L817.7 1176 L819.8 1175.4 L821.8 1174.8 L823.8 1174.1 L825.9 1173.5 L827.9 1172.9 L829.9 1172.3 L832 1171.7 L834 1171 L836 1170.4 L838.1 1169.8 L840.1 1169.2 L842.1 1168.6 L844.2 1168 L846.2 1167.4 L848.2 1166.8 L850.3 1166.2 L852.3 1165.7 L854.3 1165.1 L856.4 1164.5 L858.4 1163.9 L860.4 1163.3 L862.5 1162.7 L864.5 1162.2 L866.5 1161.6 L868.6 1161 L870.6 1160.4 L872.6 1159.9 L874.6 1159.3 L876.7 1158.7 L878.7 1158.2 L880.7 1157.6 L882.8 1157 L884.8 1156.5 L886.8 1155.9 L888.9 1155.4 L890.9 1154.8 L892.9 1154.3 L895 1153.7 L897 1153.2 L899 1152.6 L901.1 1152.1 L903.1 1151.5 L905.1 1151 L907.2 1150.4 L909.2 1149.9 L911.2 1149.3 L913.3 1148.8 L915.3 1148.3 L917.3 1147.7 L919.4 1147.2 L921.4 1146.7 L923.4 1146.1 L925.5 1145.6 L927.5 1145.1 L929.5 1144.6 L931.6 1144 L933.6 1143.5 L935.6 1143 L937.7 1142.5 L939.7 1141.9 L941.7 1141.4 L943.8 1140.9 L945.8 1140.4 L947.8 1139.9 L949.9 1139.4 L951.9 1138.8 L953.9 1138.3 L955.9 1137.8 L958 1137.3 L960 1136.8 L962 1136.3 L964.1 1135.8 L966.1 1135.3 L968.1 1134.8 L970.2 1134.3 L972.2 1133.8 L974.2 1133.3 L976.3 1132.8 L978.3 1132.3 L980.3 1131.8 L982.4 1131.3 L984.4 1130.8 L986.4 1130.3 L988.5 1129.8 L990.5 1129.3 L992.5 1128.8 L994.6 1128.3 L996.6 1127.8 L998.6 1127.4 L1000.7 1126.9 L1002.7 1126.4 L1004.7 1125.9 L1006.8 1125.4 L1008.8 1124.9 L1010.8 1124.4 L1012.9 1124 L1014.9 1123.5 L1016.9 1123 L1019 1122.5 L1021 1122.1 L1023 1121.6 L1025.1 1121.1 L1027.1 1120.6 L1029.1 1120.1 L1031.2 1119.7 L1033.2 1119.2 L1035.2 1118.7 L1037.2 1118.3 L1039.3 1117.8 L1041.3 1117.3 L1043.3 1116.9 L1045.4 1116.4 L1047.4 1115.9 L1049.4 1115.5 L1051.5 1115 L1053.5 1114.5 L1055.5 1114.1 L1057.6 1113.6 L1059.6 1113.1 L1061.6 1112.7 L1063.7 1112.2 L1065.7 1111.8 L1067.7 1111.3 L1069.8 1110.8 L1071.8 1110.4 L1073.8 1109.9 L1075.9 1109.5 L1077.9 1109" fill="none" stroke="#1e1e1e" stroke-opacity="0.85" stroke-width="5.6" stroke-dasharray="22.9 11.1"/>
<clipPath id="cj"><rect x="1225.8" y="1068" width="419.7" height="214.9"/></clipPath>
<g fill="#cccccc" fill-opacity="0.75" stroke="#fff" stroke-opacity="0.35" stroke-width="1.0" clip-path="url(#cj)"><circle cx="1281.8" cy="1215.3" r="4.5"/><circle cx="1306.6" cy="1182.3" r="9.3"/><circle cx="1325.2" cy="1169.9" r="9.3"/><circle cx="1301.4" cy="1167.9" r="5.2"/><circle cx="1343.7" cy="1154.4" r="5.2"/><circle cx="1359.2" cy="1130.7" r="4.1"/><circle cx="1366.4" cy="1141" r="4.1"/><circle cx="1358.2" cy="1184.4" r="4.1"/><circle cx="1358.2" cy="1193.7" r="4.5"/><circle cx="1364.4" cy="1192.6" r="4.1"/><circle cx="1359.2" cy="1207.1" r="3.1"/><circle cx="1364.4" cy="1212.2" r="4.1"/><circle cx="1369.5" cy="1219.4" r="4.1"/><circle cx="1349.9" cy="1224" r="3.7"/><circle cx="1363.4" cy="1225.6" r="3.1"/><circle cx="1349.9" cy="1261.1" r="3.7"/><circle cx="1391.2" cy="1119.4" r="6.2"/><circle cx="1390.2" cy="1169.9" r="8.7"/><circle cx="1397.4" cy="1186.4" r="4.5"/><circle cx="1403.6" cy="1195.7" r="3.1"/><circle cx="1402.6" cy="1236" r="3.1"/><circle cx="1403.6" cy="1275.6" r="3.1"/><circle cx="1428.4" cy="1145.2" r="5.8"/><circle cx="1429.4" cy="1158.6" r="5.2"/><circle cx="1437.6" cy="1176.1" r="5.2"/><circle cx="1444.9" cy="1179.8" r="4.1"/><circle cx="1444.9" cy="1186.4" r="3.1"/><circle cx="1456.2" cy="1181.3" r="3.7"/><circle cx="1440.7" cy="1109" r="3.7"/><circle cx="1457.2" cy="1148.3" r="4.1"/><circle cx="1471.7" cy="1169.9" r="6.2"/><circle cx="1471.7" cy="1131.7" r="5.2"/><circle cx="1462.4" cy="1158.6" r="3.7"/><circle cx="1519.2" cy="1094.6" r="7.2"/><circle cx="1522.2" cy="1109" r="5.8"/><circle cx="1523.7" cy="1159.6" r="5.2"/><circle cx="1552.2" cy="1094.6" r="5.2"/><circle cx="1560.4" cy="1090.5" r="4.1"/><circle cx="1560.4" cy="1149.3" r="3.7"/><circle cx="1550.1" cy="1135.9" r="3.7"/><circle cx="1612.4" cy="1161.7" r="3.7"/><circle cx="1612" cy="1185.4" r="3.7"/><circle cx="1438.7" cy="1139" r="5.2"/><circle cx="1420.1" cy="1153.4" r="3.1"/></g>
<g fill="#16191e" fill-opacity="0.6" stroke="#fff" stroke-opacity="0.45" stroke-width="1.0" clip-path="url(#cj)"><circle cx="1281.8" cy="1162.7" r="4.5"/><circle cx="1303.5" cy="1153.4" r="12.8"/><circle cx="1328.3" cy="1144.1" r="12.8"/><circle cx="1355.7" cy="1135.5" r="5.2"/><circle cx="1369.5" cy="1153.4" r="4.1"/><circle cx="1414.9" cy="1120" r="5.2"/><circle cx="1444.9" cy="1150.9" r="3.1"/><circle cx="1556.3" cy="1142.1" r="5.2"/></g>
<g fill="#16191e" fill-opacity="0.84" stroke="#fff" stroke-opacity="0.55" stroke-width="1.1" clip-path="url(#cj)"><circle cx="1301.4" cy="1154.4" r="9.3"/><circle cx="1324.1" cy="1145.2" r="6.2"/><circle cx="1306.6" cy="1184.8" r="4.1"/><circle cx="1345.8" cy="1163.7" r="9.3"/><circle cx="1349.9" cy="1165.8" r="4.1"/><circle cx="1358.2" cy="1172" r="5.2"/><circle cx="1368.1" cy="1174.5" r="4.1"/><circle cx="1362.3" cy="1135.9" r="3.1"/><circle cx="1359.2" cy="1147.6" r="5.2"/><circle cx="1364.4" cy="1147.2" r="4.1"/><circle cx="1393.3" cy="1155.5" r="11.3"/><circle cx="1391.2" cy="1159.2" r="4.5"/><circle cx="1398.4" cy="1165.8" r="5.2"/><circle cx="1390.2" cy="1139" r="4.1"/><circle cx="1393.3" cy="1129.7" r="4.1"/><circle cx="1398.4" cy="1128.2" r="3.1"/><circle cx="1403.6" cy="1133.8" r="3.1"/><circle cx="1429.4" cy="1133.8" r="5.8"/><circle cx="1437.6" cy="1122.9" r="6.6"/><circle cx="1436.6" cy="1164.8" r="6.2"/><circle cx="1444.9" cy="1163.7" r="4.1"/><circle cx="1451.1" cy="1133.8" r="4.1"/><circle cx="1457.2" cy="1139" r="4.1"/><circle cx="1462.4" cy="1152.4" r="4.5"/><circle cx="1472.7" cy="1150.3" r="6.2"/><circle cx="1520.2" cy="1126.6" r="7.8"/><circle cx="1522.2" cy="1137.9" r="4.5"/><circle cx="1552.2" cy="1127.6" r="5.2"/><circle cx="1557.3" cy="1127.6" r="5.2"/><circle cx="1612" cy="1145.2" r="3.7"/></g>
<path d="M1224 1222.5 L1225.9 1213.4 L1227.9 1209.7 L1229.8 1207 L1231.8 1204.7 L1233.7 1202.7 L1235.6 1200.9 L1237.6 1199.2 L1239.5 1197.7 L1241.4 1196.2 L1243.4 1194.9 L1245.3 1193.6 L1247.3 1192.3 L1249.2 1191.2 L1251.1 1190 L1253.1 1188.9 L1255 1187.9 L1256.9 1186.9 L1258.9 1185.9 L1260.8 1184.9 L1262.8 1184 L1264.7 1183.1 L1266.6 1182.2 L1268.6 1181.3 L1270.5 1180.4 L1272.4 1179.6 L1274.4 1178.8 L1276.3 1178 L1278.3 1177.2 L1280.2 1176.4 L1282.1 1175.7 L1284.1 1174.9 L1286 1174.2 L1288 1173.5 L1289.9 1172.8 L1291.8 1172.1 L1293.8 1171.4 L1295.7 1170.7 L1297.6 1170.1 L1299.6 1169.4 L1301.5 1168.8 L1303.5 1168.1 L1305.4 1167.5 L1307.3 1166.9 L1309.3 1166.2 L1311.2 1165.6 L1313.1 1165 L1315.1 1164.4 L1317 1163.8 L1319 1163.3 L1320.9 1162.7 L1322.8 1162.1 L1324.8 1161.5 L1326.7 1161 L1328.7 1160.4 L1330.6 1159.9 L1332.5 1159.3 L1334.5 1158.8 L1336.4 1158.3 L1338.3 1157.7 L1340.3 1157.2 L1342.2 1156.7 L1344.2 1156.2 L1346.1 1155.7 L1348 1155.2 L1350 1154.7 L1351.9 1154.2 L1353.8 1153.7 L1355.8 1153.2 L1357.7 1152.7 L1359.7 1152.2 L1361.6 1151.7 L1363.5 1151.2 L1365.5 1150.8 L1367.4 1150.3 L1369.3 1149.8 L1371.3 1149.4 L1373.2 1148.9 L1375.2 1148.5 L1377.1 1148 L1379 1147.5 L1381 1147.1 L1382.9 1146.7 L1384.9 1146.2 L1386.8 1145.8 L1388.7 1145.3 L1390.7 1144.9 L1392.6 1144.5 L1394.5 1144 L1396.5 1143.6 L1398.4 1143.2 L1400.4 1142.8 L1402.3 1142.3 L1404.2 1141.9 L1406.2 1141.5 L1408.1 1141.1 L1410 1140.7 L1412 1140.3 L1413.9 1139.9 L1415.9 1139.5 L1417.8 1139.1 L1419.7 1138.7 L1421.7 1138.3 L1423.6 1137.9 L1425.6 1137.5 L1427.5 1137.1 L1429.4 1136.7 L1431.4 1136.3 L1433.3 1135.9 L1435.2 1135.5 L1437.2 1135.2 L1439.1 1134.8 L1441.1 1134.4 L1443 1134 L1444.9 1133.7 L1446.9 1133.3 L1448.8 1132.9 L1450.7 1132.5 L1452.7 1132.2 L1454.6 1131.8 L1456.6 1131.4 L1458.5 1131.1 L1460.4 1130.7 L1462.4 1130.4 L1464.3 1130 L1466.2 1129.6 L1468.2 1129.3 L1470.1 1128.9 L1472.1 1128.6 L1474 1128.2 L1475.9 1127.9 L1477.9 1127.5 L1479.8 1127.2 L1481.8 1126.8 L1483.7 1126.5 L1485.6 1126.1 L1487.6 1125.8 L1489.5 1125.5 L1491.4 1125.1 L1493.4 1124.8 L1495.3 1124.4 L1497.3 1124.1 L1499.2 1123.8 L1501.1 1123.4 L1503.1 1123.1 L1505 1122.8 L1506.9 1122.5 L1508.9 1122.1 L1510.8 1121.8 L1512.8 1121.5 L1514.7 1121.1 L1516.6 1120.8 L1518.6 1120.5 L1520.5 1120.2 L1522.5 1119.9 L1524.4 1119.5 L1526.3 1119.2 L1528.3 1118.9 L1530.2 1118.6 L1532.1 1118.3 L1534.1 1118 L1536 1117.6 L1538 1117.3 L1539.9 1117 L1541.8 1116.7 L1543.8 1116.4 L1545.7 1116.1 L1547.6 1115.8 L1549.6 1115.5 L1551.5 1115.2 L1553.5 1114.9 L1555.4 1114.6 L1557.3 1114.3 L1559.3 1114 L1561.2 1113.7 L1563.1 1113.4 L1565.1 1113.1 L1567 1112.8 L1569 1112.5 L1570.9 1112.2 L1572.8 1111.9 L1574.8 1111.6 L1576.7 1111.3 L1578.7 1111 L1580.6 1110.7 L1582.5 1110.4 L1584.5 1110.1 L1586.4 1109.8 L1588.3 1109.5 L1590.3 1109.3 L1592.2 1109 L1594.2 1108.7 L1596.1 1108.4 L1598 1108.1 L1600 1107.8 L1601.9 1107.5 L1603.8 1107.3 L1605.8 1107 L1607.7 1106.7 L1609.7 1106.4 L1611.6 1106.1" fill="none" stroke="#1e1e1e" stroke-opacity="0.85" stroke-width="5.6" stroke-dasharray="22.9 11.1"/>
<clipPath id="ck"><rect x="1755.8" y="1068" width="412.2" height="214.9"/></clipPath>
<g fill="#cccccc" fill-opacity="0.75" stroke="#fff" stroke-opacity="0.35" stroke-width="1.0" clip-path="url(#ck)"><circle cx="1822.3" cy="1146.4" r="8.3"/><circle cx="1823.4" cy="1190.8" r="4.1"/><circle cx="1831.6" cy="1195" r="3.7"/><circle cx="1801.2" cy="1201.2" r="3.5"/><circle cx="1830.6" cy="1134" r="3.7"/><circle cx="1845.1" cy="1136" r="9.3"/><circle cx="1855.4" cy="1125.7" r="8.3"/><circle cx="1877.2" cy="1118.4" r="5.8"/><circle cx="1889.6" cy="1118.4" r="7.2"/><circle cx="1904" cy="1117.4" r="4.6"/><circle cx="1906.1" cy="1124.6" r="11.4"/><circle cx="1888.5" cy="1135" r="9.3"/><circle cx="1926.8" cy="1112.2" r="7.9"/><circle cx="1945.4" cy="1107.7" r="4.6"/><circle cx="1957.8" cy="1104" r="4.6"/><circle cx="1957.8" cy="1111.2" r="4.6"/><circle cx="1971.3" cy="1113.9" r="3.1"/><circle cx="1970.2" cy="1118.4" r="3.1"/><circle cx="1958.9" cy="1121.5" r="3.7"/><circle cx="1949.6" cy="1123" r="5.2"/><circle cx="1995.1" cy="1129.8" r="5.8"/><circle cx="1979.6" cy="1154.6" r="3.7"/><circle cx="1995.1" cy="1166" r="5.8"/><circle cx="1977.5" cy="1179.5" r="3.5"/><circle cx="1992" cy="1181.5" r="3.5"/><circle cx="1996.1" cy="1190.8" r="3.5"/><circle cx="1992" cy="1199.5" r="3.7"/><circle cx="1995.7" cy="1225.6" r="3.7"/><circle cx="1964" cy="1165.6" r="3.1"/><circle cx="1955.8" cy="1173.9" r="4.1"/><circle cx="1956.8" cy="1187.7" r="3.1"/><circle cx="1947.5" cy="1188.8" r="4.6"/><circle cx="1941.3" cy="1181.5" r="4.6"/><circle cx="1948.5" cy="1195.4" r="3.1"/><circle cx="1946.5" cy="1211.1" r="4.1"/><circle cx="1953.7" cy="1216.7" r="4.1"/><circle cx="1964" cy="1216.7" r="3.1"/><circle cx="1939.2" cy="1219.8" r="3.7"/><circle cx="1950.6" cy="1227" r="3.1"/><circle cx="1963" cy="1237.4" r="3.1"/><circle cx="1947.5" cy="1275.7" r="3.1"/><circle cx="1845.1" cy="1179.5" r="5.2"/><circle cx="1855.4" cy="1195" r="4.1"/><circle cx="1863.7" cy="1178.4" r="7.2"/><circle cx="1876.1" cy="1180.5" r="4.6"/><circle cx="1889.6" cy="1176.4" r="6.6"/><circle cx="1889.6" cy="1187.7" r="3.7"/><circle cx="1888.5" cy="1204.9" r="6.2"/><circle cx="1879.2" cy="1208.4" r="3.7"/><circle cx="1856.5" cy="1206.4" r="3.7"/><circle cx="1845.1" cy="1205.3" r="3.7"/><circle cx="1843" cy="1210.5" r="3.5"/><circle cx="1877.2" cy="1217.7" r="3.5"/><circle cx="1863.7" cy="1226" r="3.1"/><circle cx="1852.3" cy="1237.4" r="5.2"/><circle cx="1887.5" cy="1231.2" r="3.1"/><circle cx="1854.4" cy="1268.4" r="3.1"/><circle cx="1907.2" cy="1192.9" r="4.6"/><circle cx="1908.2" cy="1200.2" r="4.1"/><circle cx="1904" cy="1201.2" r="3.1"/><circle cx="1910.3" cy="1208.4" r="3.7"/><circle cx="1904" cy="1218.8" r="3.1"/><circle cx="1914.4" cy="1222.9" r="3.7"/><circle cx="1921.6" cy="1220.8" r="3.1"/><circle cx="1907.2" cy="1234.3" r="3.7"/><circle cx="1906.1" cy="1244.6" r="2.7"/><circle cx="1906.1" cy="1252.5" r="5.2"/><circle cx="1911.3" cy="1271.5" r="4.1"/><circle cx="1909.2" cy="1177.4" r="4.1"/><circle cx="1918.5" cy="1179.5" r="5.8"/><circle cx="1909.2" cy="1183.6" r="3.1"/><circle cx="2019.9" cy="1094.7" r="3.7"/><circle cx="2039.5" cy="1108.1" r="10.3"/><circle cx="2039.5" cy="1115.3" r="9.3"/><circle cx="2050.9" cy="1105.6" r="4.1"/><circle cx="2056.1" cy="1120.1" r="3.7"/><circle cx="2056.1" cy="1144.3" r="5.2"/><circle cx="2053.6" cy="1178.4" r="5.8"/><circle cx="2054.4" cy="1191.9" r="5.8"/><circle cx="2096.4" cy="1090.5" r="3.1"/><circle cx="2091.3" cy="1155.7" r="3.7"/><circle cx="2095.4" cy="1157.7" r="3.1"/><circle cx="2105.7" cy="1162.9" r="4.6"/><circle cx="2113" cy="1160.9" r="3.1"/><circle cx="2106.8" cy="1170.2" r="3.1"/><circle cx="2114" cy="1171.2" r="3.7"/><circle cx="2105.7" cy="1180.5" r="5.2"/><circle cx="2106.8" cy="1195" r="3.1"/><circle cx="2091.3" cy="1214.6" r="4.1"/><circle cx="2103.7" cy="1178.4" r="3.1"/></g>
<g fill="#10728a" fill-opacity="0.6" stroke="#fff" stroke-opacity="0.45" stroke-width="1.0" clip-path="url(#ck)"><circle cx="2022.6" cy="1120.9" r="7.2"/></g>
<g fill="#10728a" fill-opacity="0.92" stroke="#fff" stroke-opacity="0.55" stroke-width="1.1" clip-path="url(#ck)"><circle cx="1823.4" cy="1157.7" r="9.3"/><circle cx="1822.3" cy="1158.8" r="5.2"/><circle cx="1830.6" cy="1170.6" r="3.7"/><circle cx="1828.5" cy="1177.4" r="4.6"/><circle cx="1846.1" cy="1150.5" r="10.3"/><circle cx="1845.1" cy="1165" r="3.7"/><circle cx="1852.3" cy="1176" r="4.6"/><circle cx="1856.5" cy="1159.8" r="7.9"/><circle cx="1863.7" cy="1144.3" r="7.2"/><circle cx="1875.1" cy="1139.1" r="4.6"/><circle cx="1878.2" cy="1137.1" r="5.8"/><circle cx="1876.1" cy="1162.9" r="5.8"/><circle cx="1879.2" cy="1170.2" r="3.7"/><circle cx="1877.2" cy="1175.3" r="3.1"/><circle cx="1888.5" cy="1154.6" r="9.3"/><circle cx="1887.5" cy="1156.7" r="4.1"/><circle cx="1904" cy="1161.9" r="4.6"/><circle cx="1906.1" cy="1138.1" r="9.3"/><circle cx="1915.4" cy="1137.1" r="4.6"/><circle cx="1910.3" cy="1157.7" r="3.1"/><circle cx="1919.6" cy="1158.8" r="6.2"/><circle cx="1917.5" cy="1169.1" r="3.7"/><circle cx="1927.8" cy="1130.9" r="7.2"/><circle cx="1945.4" cy="1134.6" r="3.7"/><circle cx="1956.8" cy="1133.3" r="4.1"/><circle cx="1964" cy="1131.3" r="3.1"/><circle cx="1958.9" cy="1141.2" r="5.2"/><circle cx="1964" cy="1144.3" r="4.1"/><circle cx="1971.3" cy="1135" r="3.1"/><circle cx="1947.5" cy="1153.6" r="5.2"/><circle cx="1939.2" cy="1161.5" r="4.1"/><circle cx="1951.6" cy="1159.8" r="4.1"/><circle cx="1956.8" cy="1159.8" r="4.1"/><circle cx="1977.5" cy="1138.1" r="3.7"/><circle cx="1994" cy="1153.2" r="5.8"/><circle cx="2020.9" cy="1132.9" r="3.7"/><circle cx="2039.5" cy="1138.1" r="9.9"/><circle cx="2055.1" cy="1130.9" r="6.2"/><circle cx="2050.9" cy="1131.9" r="4.1"/><circle cx="2091.3" cy="1134" r="4.1"/><circle cx="2096.4" cy="1134.6" r="3.1"/><circle cx="2104.7" cy="1138.1" r="3.1"/><circle cx="2106.8" cy="1144.3" r="5.2"/><circle cx="2113" cy="1143.3" r="3.1"/></g>
<path d="M1754 1209.5 L1756.1 1187.9 L1758.1 1183.7 L1760.2 1180.9 L1762.3 1178.7 L1764.4 1176.9 L1766.4 1175.3 L1768.5 1174 L1770.6 1172.7 L1772.7 1171.6 L1774.7 1170.6 L1776.8 1169.6 L1778.9 1168.7 L1781 1167.9 L1783 1167.1 L1785.1 1166.3 L1787.2 1165.6 L1789.2 1164.9 L1791.3 1164.3 L1793.4 1163.6 L1795.5 1163 L1797.5 1162.5 L1799.6 1161.9 L1801.7 1161.4 L1803.8 1160.8 L1805.8 1160.3 L1807.9 1159.8 L1810 1159.3 L1812 1158.9 L1814.1 1158.4 L1816.2 1158 L1818.3 1157.5 L1820.3 1157.1 L1822.4 1156.7 L1824.5 1156.3 L1826.6 1155.9 L1828.6 1155.5 L1830.7 1155.1 L1832.8 1154.8 L1834.9 1154.4 L1836.9 1154.1 L1839 1153.7 L1841.1 1153.4 L1843.1 1153 L1845.2 1152.7 L1847.3 1152.4 L1849.4 1152 L1851.4 1151.7 L1853.5 1151.4 L1855.6 1151.1 L1857.7 1150.8 L1859.7 1150.5 L1861.8 1150.2 L1863.9 1149.9 L1866 1149.6 L1868 1149.4 L1870.1 1149.1 L1872.2 1148.8 L1874.2 1148.5 L1876.3 1148.3 L1878.4 1148 L1880.5 1147.8 L1882.5 1147.5 L1884.6 1147.2 L1886.7 1147 L1888.8 1146.8 L1890.8 1146.5 L1892.9 1146.3 L1895 1146 L1897.1 1145.8 L1899.1 1145.6 L1901.2 1145.3 L1903.3 1145.1 L1905.3 1144.9 L1907.4 1144.6 L1909.5 1144.4 L1911.6 1144.2 L1913.6 1144 L1915.7 1143.8 L1917.8 1143.6 L1919.9 1143.3 L1921.9 1143.1 L1924 1142.9 L1926.1 1142.7 L1928.1 1142.5 L1930.2 1142.3 L1932.3 1142.1 L1934.4 1141.9 L1936.4 1141.7 L1938.5 1141.5 L1940.6 1141.3 L1942.7 1141.1 L1944.7 1140.9 L1946.8 1140.7 L1948.9 1140.6 L1951 1140.4 L1953 1140.2 L1955.1 1140 L1957.2 1139.8 L1959.2 1139.6 L1961.3 1139.5 L1963.4 1139.3 L1965.5 1139.1 L1967.5 1138.9 L1969.6 1138.8 L1971.7 1138.6 L1973.8 1138.4 L1975.8 1138.2 L1977.9 1138.1 L1980 1137.9 L1982.1 1137.7 L1984.1 1137.6 L1986.2 1137.4 L1988.3 1137.2 L1990.3 1137.1 L1992.4 1136.9 L1994.5 1136.8 L1996.6 1136.6 L1998.6 1136.4 L2000.7 1136.3 L2002.8 1136.1 L2004.9 1136 L2006.9 1135.8 L2009 1135.7 L2011.1 1135.5 L2013.2 1135.4 L2015.2 1135.2 L2017.3 1135.1 L2019.4 1134.9 L2021.4 1134.8 L2023.5 1134.6 L2025.6 1134.5 L2027.7 1134.3 L2029.7 1134.2 L2031.8 1134 L2033.9 1133.9 L2036 1133.8 L2038 1133.6 L2040.1 1133.5 L2042.2 1133.3 L2044.2 1133.2 L2046.3 1133.1 L2048.4 1132.9 L2050.5 1132.8 L2052.5 1132.6 L2054.6 1132.5 L2056.7 1132.4 L2058.8 1132.2 L2060.8 1132.1 L2062.9 1132 L2065 1131.8 L2067.1 1131.7 L2069.1 1131.6 L2071.2 1131.4 L2073.3 1131.3 L2075.3 1131.2 L2077.4 1131.1 L2079.5 1130.9 L2081.6 1130.8 L2083.6 1130.7 L2085.7 1130.5 L2087.8 1130.4 L2089.9 1130.3 L2091.9 1130.2 L2094 1130 L2096.1 1129.9 L2098.2 1129.8 L2100.2 1129.7 L2102.3 1129.6 L2104.4 1129.4 L2106.4 1129.3 L2108.5 1129.2 L2110.6 1129.1 L2112.7 1129 L2114.7 1128.8 L2116.8 1128.7 L2118.9 1128.6 L2121 1128.5 L2123 1128.4 L2125.1 1128.3 L2127.2 1128.1 L2129.2 1128 L2131.3 1127.9 L2133.4 1127.8 L2135.5 1127.7 L2137.5 1127.6 L2139.6 1127.5 L2141.7 1127.3 L2143.8 1127.2 L2145.8 1127.1 L2147.9 1127 L2150 1126.9 L2152.1 1126.8 L2154.1 1126.7 L2156.2 1126.6 L2158.3 1126.5 L2160.3 1126.4 L2162.4 1126.2 L2164.5 1126.1 L2166.6 1126 L2168.6 1125.9" fill="none" stroke="#1e1e1e" stroke-opacity="0.85" stroke-width="5.6" stroke-dasharray="22.9 11.1"/>
<line x1="118.7" y1="668" x2="118.7" y2="876" stroke="#000" stroke-width="4"/>
<line x1="116.7" y1="874" x2="527.1" y2="874" stroke="#000" stroke-width="4"/>
<line x1="118.7" y1="874" x2="118.7" y2="891" stroke="#000" stroke-width="3.9"/>
<text x="106.7" y="912.8" font-size="27.3" fill="#000">-1</text>
<line x1="220.3" y1="874" x2="220.3" y2="891" stroke="#000" stroke-width="3.9"/>
<text x="196.7" y="912.5" font-size="27.3" fill="#000">-0.5</text>
<line x1="321.9" y1="874" x2="321.9" y2="891" stroke="#000" stroke-width="3.9"/>
<text x="314.3" y="912.5" font-size="27.3" fill="#000">0</text>
<line x1="423.5" y1="874" x2="423.5" y2="891" stroke="#000" stroke-width="3.9"/>
<text x="404.5" y="912.5" font-size="27.3" fill="#000">0.5</text>
<line x1="525.1" y1="874" x2="525.1" y2="891" stroke="#000" stroke-width="3.9"/>
<text x="517" y="912.8" font-size="27.3" fill="#000">1</text>
<line x1="101.7" y1="718.4" x2="118.7" y2="718.4" stroke="#000" stroke-width="3.9"/>
<text x="84.1" y="727.8" font-size="27.3" fill="#000">2</text>
<line x1="101.7" y1="817" x2="118.7" y2="817" stroke="#000" stroke-width="3.9"/>
<text x="83.8" y="826.2" font-size="27.3" fill="#000">0</text>
<line x1="672" y1="668" x2="672" y2="876" stroke="#000" stroke-width="4"/>
<line x1="670" y1="874" x2="1080.4" y2="874" stroke="#000" stroke-width="4"/>
<line x1="672" y1="874" x2="672" y2="891" stroke="#000" stroke-width="3.9"/>
<text x="660" y="912.8" font-size="27.3" fill="#000">-1</text>
<line x1="773.6" y1="874" x2="773.6" y2="891" stroke="#000" stroke-width="3.9"/>
<text x="750" y="912.5" font-size="27.3" fill="#000">-0.5</text>
<line x1="875.2" y1="874" x2="875.2" y2="891" stroke="#000" stroke-width="3.9"/>
<text x="867.6" y="912.5" font-size="27.3" fill="#000">0</text>
<line x1="976.8" y1="874" x2="976.8" y2="891" stroke="#000" stroke-width="3.9"/>
<text x="957.8" y="912.5" font-size="27.3" fill="#000">0.5</text>
<line x1="1078.4" y1="874" x2="1078.4" y2="891" stroke="#000" stroke-width="3.9"/>
<text x="1070.3" y="912.8" font-size="27.3" fill="#000">1</text>
<line x1="655" y1="698" x2="672" y2="698" stroke="#000" stroke-width="3.9"/>
<text x="637.4" y="707.2" font-size="27.3" fill="#000">1</text>
<line x1="655" y1="818" x2="672" y2="818" stroke="#000" stroke-width="3.9"/>
<text x="637.1" y="827.2" font-size="27.3" fill="#000">0</text>
<line x1="1224" y1="668" x2="1224" y2="876" stroke="#000" stroke-width="4"/>
<line x1="1222" y1="874" x2="1632.4" y2="874" stroke="#000" stroke-width="4"/>
<line x1="1224" y1="874" x2="1224" y2="891" stroke="#000" stroke-width="3.9"/>
<text x="1212" y="912.8" font-size="27.3" fill="#000">-1</text>
<line x1="1325.6" y1="874" x2="1325.6" y2="891" stroke="#000" stroke-width="3.9"/>
<text x="1302" y="912.5" font-size="27.3" fill="#000">-0.5</text>
<line x1="1427.2" y1="874" x2="1427.2" y2="891" stroke="#000" stroke-width="3.9"/>
<text x="1419.6" y="912.5" font-size="27.3" fill="#000">0</text>
<line x1="1528.8" y1="874" x2="1528.8" y2="891" stroke="#000" stroke-width="3.9"/>
<text x="1509.8" y="912.5" font-size="27.3" fill="#000">0.5</text>
<line x1="1630.4" y1="874" x2="1630.4" y2="891" stroke="#000" stroke-width="3.9"/>
<text x="1622.3" y="912.8" font-size="27.3" fill="#000">1</text>
<line x1="1207" y1="712.8" x2="1224" y2="712.8" stroke="#000" stroke-width="3.9"/>
<text x="1189.4" y="722" font-size="27.3" fill="#000">1</text>
<line x1="1207" y1="788.8" x2="1224" y2="788.8" stroke="#000" stroke-width="3.9"/>
<text x="1189.1" y="798" font-size="27.3" fill="#000">0</text>
<line x1="1207" y1="864.8" x2="1224" y2="864.8" stroke="#000" stroke-width="3.9"/>
<text x="1180.4" y="874" font-size="27.3" fill="#000">-1</text>
<line x1="1754" y1="668" x2="1754" y2="876" stroke="#000" stroke-width="4"/>
<line x1="1752" y1="874" x2="2164.1" y2="874" stroke="#000" stroke-width="4"/>
<line x1="1754" y1="874" x2="1754" y2="891" stroke="#000" stroke-width="3.9"/>
<text x="1742" y="912.8" font-size="27.3" fill="#000">-1</text>
<line x1="1856" y1="874" x2="1856" y2="891" stroke="#000" stroke-width="3.9"/>
<text x="1832.4" y="912.5" font-size="27.3" fill="#000">-0.5</text>
<line x1="1958" y1="874" x2="1958" y2="891" stroke="#000" stroke-width="3.9"/>
<text x="1950.4" y="912.5" font-size="27.3" fill="#000">0</text>
<line x1="2060" y1="874" x2="2060" y2="891" stroke="#000" stroke-width="3.9"/>
<text x="2041" y="912.5" font-size="27.3" fill="#000">0.5</text>
<line x1="2162" y1="874" x2="2162" y2="891" stroke="#000" stroke-width="3.9"/>
<text x="2153.9" y="912.8" font-size="27.3" fill="#000">1</text>
<line x1="1737" y1="719.5" x2="1754" y2="719.5" stroke="#000" stroke-width="3.9"/>
<text x="1719.4" y="728.7" font-size="27.3" fill="#000">1</text>
<line x1="1737" y1="785" x2="1754" y2="785" stroke="#000" stroke-width="3.9"/>
<text x="1719.1" y="794.2" font-size="27.3" fill="#000">0</text>
<line x1="1737" y1="850.5" x2="1754" y2="850.5" stroke="#000" stroke-width="3.9"/>
<text x="1710.4" y="859.7" font-size="27.3" fill="#000">-1</text>
<line x1="118.7" y1="1080" x2="118.7" y2="1286.7" stroke="#000" stroke-width="4"/>
<line x1="116.7" y1="1284.7" x2="527.3" y2="1284.7" stroke="#000" stroke-width="4"/>
<line x1="118.7" y1="1284.7" x2="118.7" y2="1301.7" stroke="#000" stroke-width="3.9"/>
<text x="111.1" y="1323.4" font-size="27.3" fill="#000">0</text>
<line x1="220.4" y1="1284.7" x2="220.4" y2="1301.7" stroke="#000" stroke-width="3.9"/>
<text x="212.8" y="1323.7" font-size="27.3" fill="#000">2</text>
<line x1="322.1" y1="1284.7" x2="322.1" y2="1301.7" stroke="#000" stroke-width="3.9"/>
<text x="314.6" y="1323.7" font-size="27.3" fill="#000">4</text>
<line x1="423.8" y1="1284.7" x2="423.8" y2="1301.7" stroke="#000" stroke-width="3.9"/>
<text x="416.2" y="1323.4" font-size="27.3" fill="#000">6</text>
<line x1="525.5" y1="1284.7" x2="525.5" y2="1301.7" stroke="#000" stroke-width="3.9"/>
<text x="518" y="1323.4" font-size="27.3" fill="#000">8</text>
<line x1="101.7" y1="1119" x2="118.7" y2="1119" stroke="#000" stroke-width="3.9"/>
<text x="83.8" y="1128.1" font-size="27.3" fill="#000">5</text>
<line x1="101.7" y1="1227.5" x2="118.7" y2="1227.5" stroke="#000" stroke-width="3.9"/>
<text x="83.8" y="1236.7" font-size="27.3" fill="#000">0</text>
<line x1="671.4" y1="1080" x2="671.4" y2="1286.7" stroke="#000" stroke-width="4"/>
<line x1="669.4" y1="1284.7" x2="1080.7" y2="1284.7" stroke="#000" stroke-width="4"/>
<line x1="671.4" y1="1284.7" x2="671.4" y2="1301.7" stroke="#000" stroke-width="3.9"/>
<text x="663.8" y="1323.4" font-size="27.3" fill="#000">0</text>
<line x1="752.7" y1="1284.7" x2="752.7" y2="1301.7" stroke="#000" stroke-width="3.9"/>
<text x="744.6" y="1323.7" font-size="27.3" fill="#000">1</text>
<line x1="834" y1="1284.7" x2="834" y2="1301.7" stroke="#000" stroke-width="3.9"/>
<text x="826.4" y="1323.7" font-size="27.3" fill="#000">2</text>
<line x1="915.3" y1="1284.7" x2="915.3" y2="1301.7" stroke="#000" stroke-width="3.9"/>
<text x="907.8" y="1323.4" font-size="27.3" fill="#000">3</text>
<line x1="996.6" y1="1284.7" x2="996.6" y2="1301.7" stroke="#000" stroke-width="3.9"/>
<text x="989.1" y="1323.7" font-size="27.3" fill="#000">4</text>
<line x1="1077.9" y1="1284.7" x2="1077.9" y2="1301.7" stroke="#000" stroke-width="3.9"/>
<text x="1070.3" y="1323.4" font-size="27.3" fill="#000">5</text>
<line x1="654.4" y1="1149.5" x2="671.4" y2="1149.5" stroke="#000" stroke-width="3.9"/>
<text x="636.8" y="1158.9" font-size="27.3" fill="#000">2</text>
<line x1="654.4" y1="1242.8" x2="671.4" y2="1242.8" stroke="#000" stroke-width="3.9"/>
<text x="636.5" y="1252" font-size="27.3" fill="#000">0</text>
<line x1="1224" y1="1080" x2="1224" y2="1286.7" stroke="#000" stroke-width="4"/>
<line x1="1222" y1="1284.7" x2="1633.5" y2="1284.7" stroke="#000" stroke-width="4"/>
<line x1="1224" y1="1284.7" x2="1224" y2="1301.7" stroke="#000" stroke-width="3.9"/>
<text x="1216.4" y="1323.4" font-size="27.3" fill="#000">0</text>
<line x1="1353.2" y1="1284.7" x2="1353.2" y2="1301.7" stroke="#000" stroke-width="3.9"/>
<text x="1345.6" y="1323.7" font-size="27.3" fill="#000">2</text>
<line x1="1482.4" y1="1284.7" x2="1482.4" y2="1301.7" stroke="#000" stroke-width="3.9"/>
<text x="1474.9" y="1323.7" font-size="27.3" fill="#000">4</text>
<line x1="1611.6" y1="1284.7" x2="1611.6" y2="1301.7" stroke="#000" stroke-width="3.9"/>
<text x="1604" y="1323.4" font-size="27.3" fill="#000">6</text>
<line x1="1207" y1="1125" x2="1224" y2="1125" stroke="#000" stroke-width="3.9"/>
<text x="1189.4" y="1134.4" font-size="27.3" fill="#000">2</text>
<line x1="1207" y1="1222.5" x2="1224" y2="1222.5" stroke="#000" stroke-width="3.9"/>
<text x="1189.1" y="1231.7" font-size="27.3" fill="#000">0</text>
<line x1="1754" y1="1080" x2="1754" y2="1286.7" stroke="#000" stroke-width="4"/>
<line x1="1752" y1="1284.7" x2="2164" y2="1284.7" stroke="#000" stroke-width="4"/>
<line x1="1754" y1="1284.7" x2="1754" y2="1301.7" stroke="#000" stroke-width="3.9"/>
<text x="1746.4" y="1323.4" font-size="27.3" fill="#000">0</text>
<line x1="1870.8" y1="1284.7" x2="1870.8" y2="1301.7" stroke="#000" stroke-width="3.9"/>
<text x="1863.2" y="1323.7" font-size="27.3" fill="#000">2</text>
<line x1="1987.6" y1="1284.7" x2="1987.6" y2="1301.7" stroke="#000" stroke-width="3.9"/>
<text x="1980.1" y="1323.7" font-size="27.3" fill="#000">4</text>
<line x1="2104.4" y1="1284.7" x2="2104.4" y2="1301.7" stroke="#000" stroke-width="3.9"/>
<text x="2096.8" y="1323.4" font-size="27.3" fill="#000">6</text>
<line x1="1737" y1="1112" x2="1754" y2="1112" stroke="#000" stroke-width="3.9"/>
<text x="1719.4" y="1121.4" font-size="27.3" fill="#000">2</text>
<line x1="1737" y1="1209.5" x2="1754" y2="1209.5" stroke="#000" stroke-width="3.9"/>
<text x="1719.1" y="1218.7" font-size="27.3" fill="#000">0</text>
<text x="118.2" y="640" font-size="31" font-weight="bold" fill="#000">d</text>
<text x="669.8" y="640" font-size="31" font-weight="bold" fill="#000">e</text>
<text x="1225" y="640" font-size="31" font-weight="bold" fill="#000">f</text>
<text x="1754.3" y="640" font-size="31" font-weight="bold" fill="#000">g</text>
<text x="117.5" y="1051" font-size="31" font-weight="bold" fill="#000">h</text>
<text x="670.6" y="1051" font-size="31" font-weight="bold" fill="#000">i</text>
<text x="1225.3" y="1051" font-size="31" font-weight="bold" fill="#000">j</text>
<text x="1753.3" y="1051" font-size="31" font-weight="bold" fill="#000">k</text>
<text x="267.5" y="639.9" font-size="30" fill="#a0174b">Tm5a</text>
<text x="819.4" y="639.9" font-size="30" fill="#5b3fcf">Tm5b</text>
<text x="1373.9" y="639.9" font-size="30" fill="#111">Tm5c</text>
<text x="1903.4" y="639.9" font-size="30" fill="#3a8a95">Tm20</text>
<text transform="translate(24.4 825.2) rotate(-90)" font-size="28.3" fill="#000">relative</text>
<text transform="translate(56.7 882.1) rotate(-90)" font-size="28.3" fill="#000">response (a.u.)</text>
<text transform="translate(24.4 1235.7) rotate(-90)" font-size="28.3" fill="#000">relative</text>
<text transform="translate(56.7 1292.6) rotate(-90)" font-size="28.3" fill="#000">response (a.u.)</text>
<text x="274.8" y="953.2" font-size="26.8" fill="#000">cos(</text>
<text x="337.4" y="957.9" font-size="32" font-style="italic" font-family="'Liberation Serif',serif">θ</text>
<text x="363.9" y="953.2" font-size="26.8" fill="#000">)</text>
<text x="828.1" y="953.2" font-size="26.8" fill="#000">cos(</text>
<text x="890.7" y="957.9" font-size="32" font-style="italic" font-family="'Liberation Serif',serif">θ</text>
<text x="917.2" y="953.2" font-size="26.8" fill="#000">)</text>
<text x="1380.1" y="953.2" font-size="26.8" fill="#000">cos(</text>
<text x="1442.7" y="957.9" font-size="32" font-style="italic" font-family="'Liberation Serif',serif">θ</text>
<text x="1469.2" y="953.2" font-size="26.8" fill="#000">)</text>
<text x="1910.9" y="953.2" font-size="26.8" fill="#000">cos(</text>
<text x="1973.5" y="957.9" font-size="32" font-style="italic" font-family="'Liberation Serif',serif">θ</text>
<text x="2000" y="953.2" font-size="26.8" fill="#000">)</text>
<text x="251.9" y="1365.7" font-size="27.8" fill="#000">saturation</text>
<text x="804.9" y="1365.7" font-size="27.8" fill="#000">saturation</text>
<text x="1357.8" y="1365.7" font-size="27.8" fill="#000">saturation</text>
<text x="1887.9" y="1365.7" font-size="27.8" fill="#000">saturation</text>
<line x1="834.7" y1="1557.7" x2="834.7" y2="1881.6" stroke="#000" stroke-width="3.6"/>
<line x1="812" y1="1879.8" x2="1698.8" y2="1879.8" stroke="#000" stroke-width="3.6"/>
<line x1="812" y1="1559.5" x2="836.5" y2="1559.5" stroke="#000" stroke-width="3.6"/>
<line x1="812" y1="1719" x2="836.5" y2="1719" stroke="#000" stroke-width="3.6"/>
<text x="785.7" y="1572.2" font-size="35.5" fill="#000">1</text>
<text x="758.9" y="1731.4" font-size="35.5" fill="#000">0.5</text>
<text x="788.9" y="1895.4" font-size="35.5" fill="#000">0</text>
<line x1="877.5" y1="1879.8" x2="877.5" y2="1901.4" stroke="#000" stroke-width="3.6"/>
<line x1="964" y1="1879.8" x2="964" y2="1901.4" stroke="#000" stroke-width="3.6"/>
<line x1="1050.2" y1="1879.8" x2="1050.2" y2="1901.4" stroke="#000" stroke-width="3.6"/>
<line x1="1136.5" y1="1879.8" x2="1136.5" y2="1901.4" stroke="#000" stroke-width="3.6"/>
<line x1="1222.8" y1="1879.8" x2="1222.8" y2="1901.4" stroke="#000" stroke-width="3.6"/>
<line x1="1308.9" y1="1879.8" x2="1308.9" y2="1901.4" stroke="#000" stroke-width="3.6"/>
<line x1="1395.9" y1="1879.8" x2="1395.9" y2="1901.4" stroke="#000" stroke-width="3.6"/>
<line x1="1478.2" y1="1879.8" x2="1478.2" y2="1901.4" stroke="#000" stroke-width="3.6"/>
<line x1="1564.4" y1="1879.8" x2="1564.4" y2="1901.4" stroke="#000" stroke-width="3.6"/>
<line x1="1650.6" y1="1879.8" x2="1650.6" y2="1901.4" stroke="#000" stroke-width="3.6"/>
<text transform="translate(736.5 1727.5) rotate(-90)" font-size="28" fill="#000"><tspan font-style="italic">R</tspan><tspan dy="-15.5" font-size="28">2</tspan></text>
<text x="664.5" y="1504.7" font-size="31" font-weight="bold" fill="#000">l</text>
<text x="1144.5" y="1491.9" font-size="27.8" fill="#000">Models with Rh1</text>
<text x="1187.1" y="1532.5" font-size="28.3" fill="#c4c4c4">linear</text>
<text x="1296.6" y="1532.2" font-size="28.8" fill="#8e8e8e">LNL</text>
<circle cx="865.8" cy="1586.9" r="6" fill="#c8c8c8"/><rect x="863.7" y="1583.1" width="4.2" height="7.8" fill="#000"/><circle cx="893.4" cy="1581.6" r="6" fill="#8c8c8c"/><rect x="891.3" y="1574.9" width="4.2" height="13" fill="#000"/><circle cx="951.9" cy="1582.4" r="6" fill="#c8c8c8"/><rect x="949.8" y="1577.9" width="4.2" height="9.3" fill="#000"/><circle cx="979.8" cy="1576.9" r="6" fill="#8c8c8c"/><rect x="977.7" y="1570.4" width="4.2" height="13.2" fill="#000"/><circle cx="1038" cy="1589" r="6" fill="#c8c8c8"/><rect x="1035.9" y="1581.6" width="4.2" height="15" fill="#000"/><circle cx="1066" cy="1586.9" r="6" fill="#8c8c8c"/><rect x="1063.9" y="1581.6" width="4.2" height="10.4" fill="#000"/><circle cx="1124.3" cy="1610.6" r="6" fill="#c8c8c8"/><rect x="1122.2" y="1606.3" width="4.2" height="8.7" fill="#000"/><circle cx="1151.9" cy="1609" r="6" fill="#8c8c8c"/><rect x="1149.8" y="1603.1" width="4.2" height="12.3" fill="#000"/><circle cx="1210.6" cy="1615.7" r="6" fill="#c8c8c8"/><rect x="1208.5" y="1611.7" width="4.2" height="7.6" fill="#000"/><circle cx="1238.1" cy="1611.7" r="6" fill="#8c8c8c"/><rect x="1236" y="1606.3" width="4.2" height="11" fill="#000"/><circle cx="1296.7" cy="1603.7" r="6" fill="#c8c8c8"/><rect x="1294.6" y="1598.3" width="4.2" height="11" fill="#000"/><circle cx="1324.4" cy="1594.7" r="6" fill="#8c8c8c"/><rect x="1322.3" y="1589.1" width="4.2" height="11.5" fill="#000"/><circle cx="1383.4" cy="1591.5" r="6" fill="#c8c8c8"/><rect x="1381.3" y="1587.2" width="4.2" height="8.3" fill="#000"/><circle cx="1411.2" cy="1589.1" r="6" fill="#8c8c8c"/><rect x="1409.1" y="1582.7" width="4.2" height="12.4" fill="#000"/><circle cx="1465.7" cy="1702.7" r="6" fill="#c8c8c8"/><rect x="1463.6" y="1696.6" width="4.2" height="12.2" fill="#000"/><circle cx="1493.3" cy="1694.6" r="6" fill="#8c8c8c"/><rect x="1491.2" y="1685.6" width="4.2" height="18.8" fill="#000"/><circle cx="1552" cy="1663" r="6" fill="#c8c8c8"/><rect x="1549.9" y="1657" width="4.2" height="12.7" fill="#000"/><circle cx="1579.5" cy="1657.4" r="6" fill="#8c8c8c"/><rect x="1577.4" y="1649.6" width="4.2" height="15.7" fill="#000"/><circle cx="1638.2" cy="1669.2" r="6" fill="#c8c8c8"/><rect x="1636.1" y="1661.1" width="4.2" height="16.4" fill="#000"/><circle cx="1665.8" cy="1659.9" r="6" fill="#8c8c8c"/><rect x="1663.7" y="1654.5" width="4.2" height="11.5" fill="#000"/>
<text transform="translate(887 1958.4) rotate(-90)" font-size="25.2" fill="#ee00ee">pR7</text>
<text transform="translate(973.1 1956.4) rotate(-90)" font-size="25.2" fill="#9012a2">yR7</text>
<text transform="translate(1059.8 1958.9) rotate(-90)" font-size="25.2" fill="#0000e0">pR8</text>
<text transform="translate(1146.1 1956.4) rotate(-90)" font-size="25.2" fill="#108010">yR8</text>
<text transform="translate(1232.4 1989.5) rotate(-90)" font-size="25.2" fill="#b0968a">pDm8</text>
<text transform="translate(1318.4 1987.5) rotate(-90)" font-size="25.2" fill="#f0b400">yDm8</text>
<text transform="translate(1400.8 1984.7) rotate(-90)" font-size="25.2" fill="#000000">Tm5c</text>
<text transform="translate(1487 1985) rotate(-90)" font-size="25.2" fill="#5a3fd0">Tm5b</text>
<text transform="translate(1572.4 1985.5) rotate(-90)" font-size="25.2" fill="#a0104a">Tm5a</text>
<text transform="translate(1658.9 1985) rotate(-90)" font-size="25.2" fill="#10727a">Tm20</text>
</svg>
</body></html>
